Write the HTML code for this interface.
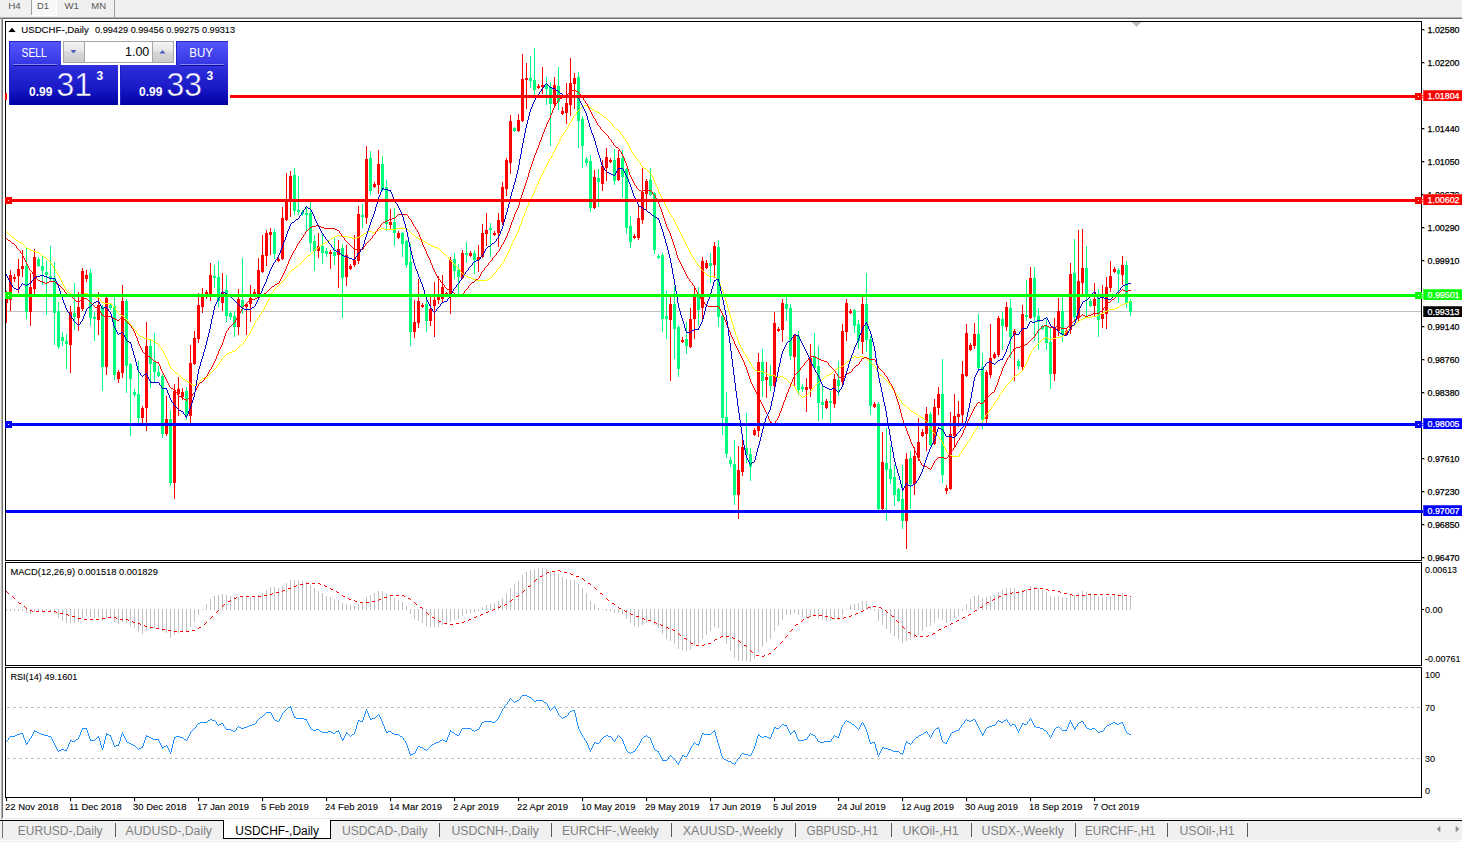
<!DOCTYPE html><html><head><meta charset="utf-8"><title>USDCHF-,Daily</title><style>html,body{margin:0;padding:0;background:#f0f0f0;overflow:hidden}body{width:1462px;height:842px}</style></head><body><svg width="1462" height="842" viewBox="0 0 1462 842" style="display:block;font-family:'Liberation Sans', sans-serif">
<rect x="0" y="0" width="1462" height="842" fill="#f0f0f0"/>
<g font-size="9.5px" fill="#555555">
<rect x="32" y="0" width="24" height="15" fill="#f8f8f8"/>
<text x="8.25" y="9" textLength="12.5" lengthAdjust="spacingAndGlyphs">H4</text>
<text x="37" y="9" textLength="12" lengthAdjust="spacingAndGlyphs">D1</text>
<text x="64.5" y="9" textLength="14.5" lengthAdjust="spacingAndGlyphs">W1</text>
<text x="91.25" y="9" textLength="14.75" lengthAdjust="spacingAndGlyphs">MN</text>
</g>
<rect x="31" y="0" width="1" height="15" fill="#a0a0a0"/>
<rect x="56" y="0" width="1" height="16" fill="#ffffff"/><rect x="31" y="15" width="26" height="1" fill="#ffffff"/>
<rect x="114" y="0" width="1" height="17" fill="#a0a0a0"/>
<rect x="0" y="17" width="1462" height="1" fill="#b4b4b4"/>
<rect x="0" y="18" width="1462" height="1" fill="#6e6e6e"/>
<rect x="3" y="19" width="1459" height="801" fill="#ffffff"/>
<rect x="1" y="18" width="1" height="802" fill="#b4b4b4"/>
<rect x="2" y="18" width="1" height="801" fill="#6e6e6e"/>
<g shape-rendering="crispEdges">
<rect x="6" y="311" width="1415" height="1" fill="#c0c0c0"/>
<rect x="6" y="291" width="1" height="32" fill="#ff0000"/>
<rect x="6" y="297" width="2" height="6" fill="#ff0000"/>
<rect x="10" y="270" width="1" height="41" fill="#ff0000"/>
<rect x="9" y="275" width="3" height="25" fill="#ff0000"/>
<rect x="14" y="274" width="1" height="8" fill="#ff0000"/>
<rect x="13" y="277" width="3" height="2" fill="#ff0000"/>
<rect x="18" y="259" width="1" height="34" fill="#ff0000"/>
<rect x="17" y="269" width="3" height="7" fill="#ff0000"/>
<rect x="22" y="250" width="1" height="27" fill="#ff0000"/>
<rect x="21" y="266" width="3" height="3" fill="#ff0000"/>
<rect x="26" y="248" width="1" height="71" fill="#00ff7f"/>
<rect x="25" y="266" width="3" height="46" fill="#00ff7f"/>
<rect x="30" y="273" width="1" height="53" fill="#ff0000"/>
<rect x="29" y="287" width="3" height="25" fill="#ff0000"/>
<rect x="34" y="249" width="1" height="45" fill="#ff0000"/>
<rect x="33" y="257" width="3" height="32" fill="#ff0000"/>
<rect x="38" y="257" width="1" height="10" fill="#00ff7f"/>
<rect x="37" y="259" width="3" height="7" fill="#00ff7f"/>
<rect x="42" y="256" width="1" height="29" fill="#00ff7f"/>
<rect x="41" y="266" width="3" height="5" fill="#00ff7f"/>
<rect x="46" y="261" width="1" height="54" fill="#00ff7f"/>
<rect x="45" y="272" width="3" height="3" fill="#00ff7f"/>
<rect x="50" y="246" width="1" height="35" fill="#00ff7f"/>
<rect x="49" y="276" width="3" height="2" fill="#00ff7f"/>
<rect x="54" y="262" width="1" height="83" fill="#00ff7f"/>
<rect x="53" y="278" width="3" height="35" fill="#00ff7f"/>
<rect x="58" y="302" width="1" height="47" fill="#00ff7f"/>
<rect x="57" y="311" width="3" height="36" fill="#00ff7f"/>
<rect x="62" y="332" width="1" height="14" fill="#00ff7f"/>
<rect x="61" y="337" width="3" height="4" fill="#00ff7f"/>
<rect x="66" y="334" width="1" height="35" fill="#00ff7f"/>
<rect x="65" y="341" width="3" height="3" fill="#00ff7f"/>
<rect x="70" y="306" width="1" height="67" fill="#ff0000"/>
<rect x="69" y="312" width="3" height="33" fill="#ff0000"/>
<rect x="74" y="283" width="1" height="47" fill="#00ff7f"/>
<rect x="73" y="313" width="3" height="4" fill="#00ff7f"/>
<rect x="78" y="292" width="1" height="39" fill="#ff0000"/>
<rect x="77" y="307" width="3" height="11" fill="#ff0000"/>
<rect x="82" y="268" width="1" height="43" fill="#ff0000"/>
<rect x="81" y="271" width="3" height="38" fill="#ff0000"/>
<rect x="86" y="270" width="1" height="12" fill="#ff0000"/>
<rect x="85" y="275" width="3" height="4" fill="#ff0000"/>
<rect x="90" y="269" width="1" height="57" fill="#00ff7f"/>
<rect x="89" y="273" width="3" height="45" fill="#00ff7f"/>
<rect x="94" y="312" width="1" height="29" fill="#00ff7f"/>
<rect x="93" y="317" width="3" height="2" fill="#00ff7f"/>
<rect x="98" y="292" width="1" height="43" fill="#ff0000"/>
<rect x="97" y="305" width="3" height="15" fill="#ff0000"/>
<rect x="102" y="305" width="1" height="86" fill="#00ff7f"/>
<rect x="101" y="307" width="3" height="60" fill="#00ff7f"/>
<rect x="106" y="297" width="1" height="78" fill="#ff0000"/>
<rect x="105" y="298" width="3" height="69" fill="#ff0000"/>
<rect x="110" y="303" width="1" height="7" fill="#00ff7f"/>
<rect x="109" y="305" width="3" height="3" fill="#00ff7f"/>
<rect x="114" y="297" width="1" height="83" fill="#00ff7f"/>
<rect x="113" y="306" width="3" height="69" fill="#00ff7f"/>
<rect x="118" y="370" width="1" height="13" fill="#ff0000"/>
<rect x="117" y="372" width="3" height="7" fill="#ff0000"/>
<rect x="122" y="285" width="1" height="93" fill="#ff0000"/>
<rect x="121" y="301" width="3" height="72" fill="#ff0000"/>
<rect x="126" y="299" width="1" height="94" fill="#00ff7f"/>
<rect x="125" y="301" width="3" height="65" fill="#00ff7f"/>
<rect x="130" y="363" width="1" height="73" fill="#00ff7f"/>
<rect x="129" y="364" width="3" height="15" fill="#00ff7f"/>
<rect x="134" y="389" width="1" height="8" fill="#00ff7f"/>
<rect x="133" y="392" width="3" height="3" fill="#00ff7f"/>
<rect x="138" y="361" width="1" height="63" fill="#00ff7f"/>
<rect x="137" y="394" width="3" height="24" fill="#00ff7f"/>
<rect x="142" y="406" width="1" height="17" fill="#ff0000"/>
<rect x="141" y="408" width="3" height="10" fill="#ff0000"/>
<rect x="146" y="322" width="1" height="109" fill="#ff0000"/>
<rect x="145" y="346" width="3" height="62" fill="#ff0000"/>
<rect x="150" y="339" width="1" height="49" fill="#00ff7f"/>
<rect x="149" y="346" width="3" height="18" fill="#00ff7f"/>
<rect x="154" y="333" width="1" height="49" fill="#00ff7f"/>
<rect x="153" y="362" width="3" height="10" fill="#00ff7f"/>
<rect x="158" y="366" width="1" height="11" fill="#00ff7f"/>
<rect x="157" y="372" width="3" height="4" fill="#00ff7f"/>
<rect x="162" y="374" width="1" height="64" fill="#00ff7f"/>
<rect x="161" y="376" width="3" height="58" fill="#00ff7f"/>
<rect x="166" y="396" width="1" height="40" fill="#ff0000"/>
<rect x="165" y="419" width="3" height="15" fill="#ff0000"/>
<rect x="170" y="410" width="1" height="76" fill="#00ff7f"/>
<rect x="169" y="419" width="3" height="64" fill="#00ff7f"/>
<rect x="174" y="384" width="1" height="115" fill="#ff0000"/>
<rect x="173" y="391" width="3" height="92" fill="#ff0000"/>
<rect x="178" y="377" width="1" height="39" fill="#ff0000"/>
<rect x="177" y="389" width="3" height="5" fill="#ff0000"/>
<rect x="182" y="388" width="1" height="12" fill="#ff0000"/>
<rect x="181" y="392" width="3" height="5" fill="#ff0000"/>
<rect x="186" y="387" width="1" height="33" fill="#00ff7f"/>
<rect x="185" y="391" width="3" height="25" fill="#00ff7f"/>
<rect x="190" y="345" width="1" height="79" fill="#ff0000"/>
<rect x="189" y="363" width="3" height="53" fill="#ff0000"/>
<rect x="194" y="331" width="1" height="34" fill="#ff0000"/>
<rect x="193" y="338" width="3" height="26" fill="#ff0000"/>
<rect x="198" y="293" width="1" height="50" fill="#ff0000"/>
<rect x="197" y="305" width="3" height="34" fill="#ff0000"/>
<rect x="202" y="288" width="1" height="25" fill="#ff0000"/>
<rect x="201" y="296" width="3" height="11" fill="#ff0000"/>
<rect x="206" y="290" width="1" height="9" fill="#ff0000"/>
<rect x="205" y="292" width="3" height="3" fill="#ff0000"/>
<rect x="210" y="263" width="1" height="38" fill="#ff0000"/>
<rect x="209" y="275" width="3" height="19" fill="#ff0000"/>
<rect x="214" y="265" width="1" height="23" fill="#00ff7f"/>
<rect x="213" y="276" width="3" height="2" fill="#00ff7f"/>
<rect x="218" y="261" width="1" height="46" fill="#00ff7f"/>
<rect x="217" y="277" width="3" height="24" fill="#00ff7f"/>
<rect x="222" y="273" width="1" height="38" fill="#ff0000"/>
<rect x="221" y="292" width="3" height="11" fill="#ff0000"/>
<rect x="226" y="275" width="1" height="47" fill="#00ff7f"/>
<rect x="225" y="290" width="3" height="26" fill="#00ff7f"/>
<rect x="230" y="311" width="1" height="9" fill="#00ff7f"/>
<rect x="229" y="313" width="3" height="4" fill="#00ff7f"/>
<rect x="234" y="311" width="1" height="26" fill="#00ff7f"/>
<rect x="233" y="316" width="3" height="11" fill="#00ff7f"/>
<rect x="238" y="289" width="1" height="46" fill="#ff0000"/>
<rect x="237" y="299" width="3" height="28" fill="#ff0000"/>
<rect x="242" y="258" width="1" height="56" fill="#00ff7f"/>
<rect x="241" y="300" width="3" height="7" fill="#00ff7f"/>
<rect x="246" y="303" width="1" height="32" fill="#ff0000"/>
<rect x="245" y="304" width="3" height="3" fill="#ff0000"/>
<rect x="250" y="285" width="1" height="37" fill="#ff0000"/>
<rect x="249" y="298" width="3" height="6" fill="#ff0000"/>
<rect x="254" y="289" width="1" height="6" fill="#ff0000"/>
<rect x="253" y="292" width="3" height="2" fill="#ff0000"/>
<rect x="258" y="258" width="1" height="38" fill="#ff0000"/>
<rect x="257" y="270" width="3" height="25" fill="#ff0000"/>
<rect x="262" y="235" width="1" height="38" fill="#ff0000"/>
<rect x="261" y="255" width="3" height="17" fill="#ff0000"/>
<rect x="266" y="230" width="1" height="36" fill="#ff0000"/>
<rect x="265" y="233" width="3" height="23" fill="#ff0000"/>
<rect x="270" y="228" width="1" height="27" fill="#ff0000"/>
<rect x="269" y="232" width="3" height="3" fill="#ff0000"/>
<rect x="274" y="229" width="1" height="30" fill="#00ff7f"/>
<rect x="273" y="232" width="3" height="22" fill="#00ff7f"/>
<rect x="278" y="257" width="1" height="5" fill="#ff0000"/>
<rect x="277" y="259" width="3" height="2" fill="#ff0000"/>
<rect x="282" y="207" width="1" height="53" fill="#ff0000"/>
<rect x="281" y="218" width="3" height="41" fill="#ff0000"/>
<rect x="286" y="173" width="1" height="48" fill="#ff0000"/>
<rect x="285" y="199" width="3" height="21" fill="#ff0000"/>
<rect x="290" y="171" width="1" height="46" fill="#ff0000"/>
<rect x="289" y="176" width="3" height="25" fill="#ff0000"/>
<rect x="294" y="168" width="1" height="47" fill="#00ff7f"/>
<rect x="293" y="175" width="3" height="36" fill="#00ff7f"/>
<rect x="298" y="176" width="1" height="39" fill="#00ff7f"/>
<rect x="297" y="210" width="3" height="2" fill="#00ff7f"/>
<rect x="302" y="210" width="1" height="6" fill="#00ff7f"/>
<rect x="301" y="212" width="3" height="2" fill="#00ff7f"/>
<rect x="306" y="206" width="1" height="25" fill="#00ff7f"/>
<rect x="305" y="213" width="3" height="2" fill="#00ff7f"/>
<rect x="310" y="202" width="1" height="50" fill="#00ff7f"/>
<rect x="309" y="213" width="3" height="30" fill="#00ff7f"/>
<rect x="314" y="235" width="1" height="36" fill="#00ff7f"/>
<rect x="313" y="241" width="3" height="10" fill="#00ff7f"/>
<rect x="318" y="233" width="1" height="25" fill="#ff0000"/>
<rect x="317" y="246" width="3" height="5" fill="#ff0000"/>
<rect x="322" y="234" width="1" height="30" fill="#00ff7f"/>
<rect x="321" y="246" width="3" height="7" fill="#00ff7f"/>
<rect x="326" y="248" width="1" height="9" fill="#00ff7f"/>
<rect x="325" y="251" width="3" height="3" fill="#00ff7f"/>
<rect x="330" y="250" width="1" height="19" fill="#ff0000"/>
<rect x="329" y="252" width="3" height="2" fill="#ff0000"/>
<rect x="334" y="238" width="1" height="27" fill="#00ff7f"/>
<rect x="333" y="252" width="3" height="4" fill="#00ff7f"/>
<rect x="338" y="240" width="1" height="48" fill="#ff0000"/>
<rect x="337" y="249" width="3" height="6" fill="#ff0000"/>
<rect x="342" y="244" width="1" height="74" fill="#00ff7f"/>
<rect x="341" y="248" width="3" height="30" fill="#00ff7f"/>
<rect x="346" y="245" width="1" height="41" fill="#ff0000"/>
<rect x="345" y="255" width="3" height="22" fill="#ff0000"/>
<rect x="350" y="264" width="1" height="6" fill="#ff0000"/>
<rect x="349" y="266" width="3" height="3" fill="#ff0000"/>
<rect x="354" y="235" width="1" height="32" fill="#ff0000"/>
<rect x="353" y="260" width="3" height="5" fill="#ff0000"/>
<rect x="358" y="206" width="1" height="58" fill="#ff0000"/>
<rect x="357" y="214" width="3" height="47" fill="#ff0000"/>
<rect x="362" y="204" width="1" height="24" fill="#00ff7f"/>
<rect x="361" y="215" width="3" height="2" fill="#00ff7f"/>
<rect x="366" y="146" width="1" height="78" fill="#ff0000"/>
<rect x="365" y="159" width="3" height="59" fill="#ff0000"/>
<rect x="370" y="151" width="1" height="44" fill="#00ff7f"/>
<rect x="369" y="158" width="3" height="33" fill="#00ff7f"/>
<rect x="374" y="182" width="1" height="6" fill="#ff0000"/>
<rect x="373" y="184" width="3" height="3" fill="#ff0000"/>
<rect x="378" y="150" width="1" height="44" fill="#ff0000"/>
<rect x="377" y="164" width="3" height="21" fill="#ff0000"/>
<rect x="382" y="156" width="1" height="35" fill="#00ff7f"/>
<rect x="381" y="164" width="3" height="26" fill="#00ff7f"/>
<rect x="386" y="180" width="1" height="51" fill="#00ff7f"/>
<rect x="385" y="187" width="3" height="37" fill="#00ff7f"/>
<rect x="390" y="209" width="1" height="20" fill="#ff0000"/>
<rect x="389" y="222" width="3" height="3" fill="#ff0000"/>
<rect x="394" y="208" width="1" height="38" fill="#00ff7f"/>
<rect x="393" y="222" width="3" height="11" fill="#00ff7f"/>
<rect x="398" y="231" width="1" height="8" fill="#ff0000"/>
<rect x="397" y="233" width="3" height="5" fill="#ff0000"/>
<rect x="402" y="232" width="1" height="25" fill="#00ff7f"/>
<rect x="401" y="233" width="3" height="11" fill="#00ff7f"/>
<rect x="406" y="240" width="1" height="28" fill="#00ff7f"/>
<rect x="405" y="241" width="3" height="24" fill="#00ff7f"/>
<rect x="410" y="244" width="1" height="102" fill="#00ff7f"/>
<rect x="409" y="262" width="3" height="70" fill="#00ff7f"/>
<rect x="414" y="300" width="1" height="38" fill="#ff0000"/>
<rect x="413" y="322" width="3" height="10" fill="#ff0000"/>
<rect x="418" y="279" width="1" height="49" fill="#ff0000"/>
<rect x="417" y="301" width="3" height="22" fill="#ff0000"/>
<rect x="422" y="303" width="1" height="5" fill="#ff0000"/>
<rect x="421" y="305" width="3" height="2" fill="#ff0000"/>
<rect x="426" y="299" width="1" height="33" fill="#00ff7f"/>
<rect x="425" y="304" width="3" height="17" fill="#00ff7f"/>
<rect x="430" y="297" width="1" height="29" fill="#ff0000"/>
<rect x="429" y="309" width="3" height="12" fill="#ff0000"/>
<rect x="434" y="282" width="1" height="55" fill="#ff0000"/>
<rect x="433" y="300" width="3" height="6" fill="#ff0000"/>
<rect x="438" y="276" width="1" height="28" fill="#ff0000"/>
<rect x="437" y="297" width="3" height="3" fill="#ff0000"/>
<rect x="442" y="275" width="1" height="28" fill="#ff0000"/>
<rect x="441" y="287" width="3" height="12" fill="#ff0000"/>
<rect x="446" y="292" width="1" height="5" fill="#ff0000"/>
<rect x="445" y="293" width="3" height="3" fill="#ff0000"/>
<rect x="450" y="257" width="1" height="57" fill="#ff0000"/>
<rect x="449" y="260" width="3" height="35" fill="#ff0000"/>
<rect x="454" y="253" width="1" height="26" fill="#00ff7f"/>
<rect x="453" y="259" width="3" height="12" fill="#00ff7f"/>
<rect x="458" y="264" width="1" height="31" fill="#00ff7f"/>
<rect x="457" y="270" width="3" height="7" fill="#00ff7f"/>
<rect x="462" y="250" width="1" height="29" fill="#ff0000"/>
<rect x="461" y="253" width="3" height="25" fill="#ff0000"/>
<rect x="466" y="242" width="1" height="21" fill="#00ff7f"/>
<rect x="465" y="253" width="3" height="2" fill="#00ff7f"/>
<rect x="470" y="251" width="1" height="6" fill="#ff0000"/>
<rect x="469" y="253" width="3" height="3" fill="#ff0000"/>
<rect x="474" y="250" width="1" height="24" fill="#00ff7f"/>
<rect x="473" y="253" width="3" height="7" fill="#00ff7f"/>
<rect x="478" y="245" width="1" height="27" fill="#ff0000"/>
<rect x="477" y="257" width="3" height="3" fill="#ff0000"/>
<rect x="482" y="224" width="1" height="34" fill="#ff0000"/>
<rect x="481" y="233" width="3" height="24" fill="#ff0000"/>
<rect x="486" y="213" width="1" height="33" fill="#ff0000"/>
<rect x="485" y="230" width="3" height="4" fill="#ff0000"/>
<rect x="490" y="223" width="1" height="34" fill="#00ff7f"/>
<rect x="489" y="228" width="3" height="2" fill="#00ff7f"/>
<rect x="494" y="231" width="1" height="5" fill="#ff0000"/>
<rect x="493" y="233" width="3" height="2" fill="#ff0000"/>
<rect x="498" y="213" width="1" height="34" fill="#ff0000"/>
<rect x="497" y="220" width="3" height="13" fill="#ff0000"/>
<rect x="502" y="182" width="1" height="43" fill="#ff0000"/>
<rect x="501" y="187" width="3" height="35" fill="#ff0000"/>
<rect x="506" y="158" width="1" height="38" fill="#ff0000"/>
<rect x="505" y="160" width="3" height="29" fill="#ff0000"/>
<rect x="510" y="115" width="1" height="59" fill="#ff0000"/>
<rect x="509" y="121" width="3" height="42" fill="#ff0000"/>
<rect x="514" y="127" width="1" height="5" fill="#00ff7f"/>
<rect x="513" y="128" width="3" height="3" fill="#00ff7f"/>
<rect x="518" y="114" width="1" height="18" fill="#ff0000"/>
<rect x="517" y="120" width="3" height="11" fill="#ff0000"/>
<rect x="522" y="54" width="1" height="68" fill="#ff0000"/>
<rect x="521" y="79" width="3" height="42" fill="#ff0000"/>
<rect x="526" y="63" width="1" height="46" fill="#ff0000"/>
<rect x="525" y="78" width="3" height="2" fill="#ff0000"/>
<rect x="530" y="56" width="1" height="32" fill="#00ff7f"/>
<rect x="529" y="78" width="3" height="3" fill="#00ff7f"/>
<rect x="534" y="48" width="1" height="48" fill="#00ff7f"/>
<rect x="533" y="80" width="3" height="10" fill="#00ff7f"/>
<rect x="538" y="84" width="1" height="5" fill="#ff0000"/>
<rect x="537" y="86" width="3" height="2" fill="#ff0000"/>
<rect x="542" y="67" width="1" height="27" fill="#ff0000"/>
<rect x="541" y="85" width="3" height="2" fill="#ff0000"/>
<rect x="546" y="77" width="1" height="28" fill="#00ff7f"/>
<rect x="545" y="85" width="3" height="4" fill="#00ff7f"/>
<rect x="550" y="82" width="1" height="64" fill="#00ff7f"/>
<rect x="549" y="87" width="3" height="17" fill="#00ff7f"/>
<rect x="554" y="77" width="1" height="29" fill="#ff0000"/>
<rect x="553" y="85" width="3" height="19" fill="#ff0000"/>
<rect x="558" y="67" width="1" height="43" fill="#00ff7f"/>
<rect x="557" y="86" width="3" height="16" fill="#00ff7f"/>
<rect x="562" y="107" width="1" height="8" fill="#ff0000"/>
<rect x="561" y="111" width="3" height="3" fill="#ff0000"/>
<rect x="566" y="83" width="1" height="41" fill="#ff0000"/>
<rect x="565" y="103" width="3" height="10" fill="#ff0000"/>
<rect x="570" y="58" width="1" height="58" fill="#ff0000"/>
<rect x="569" y="83" width="3" height="22" fill="#ff0000"/>
<rect x="574" y="73" width="1" height="36" fill="#ff0000"/>
<rect x="573" y="78" width="3" height="6" fill="#ff0000"/>
<rect x="578" y="72" width="1" height="76" fill="#00ff7f"/>
<rect x="577" y="77" width="3" height="44" fill="#00ff7f"/>
<rect x="582" y="116" width="1" height="52" fill="#00ff7f"/>
<rect x="581" y="119" width="3" height="27" fill="#00ff7f"/>
<rect x="586" y="157" width="1" height="9" fill="#00ff7f"/>
<rect x="585" y="159" width="3" height="4" fill="#00ff7f"/>
<rect x="590" y="155" width="1" height="57" fill="#00ff7f"/>
<rect x="589" y="161" width="3" height="47" fill="#00ff7f"/>
<rect x="594" y="170" width="1" height="39" fill="#ff0000"/>
<rect x="593" y="177" width="3" height="31" fill="#ff0000"/>
<rect x="598" y="169" width="1" height="38" fill="#00ff7f"/>
<rect x="597" y="178" width="3" height="4" fill="#00ff7f"/>
<rect x="602" y="160" width="1" height="31" fill="#ff0000"/>
<rect x="601" y="166" width="3" height="18" fill="#ff0000"/>
<rect x="606" y="148" width="1" height="33" fill="#ff0000"/>
<rect x="605" y="157" width="3" height="11" fill="#ff0000"/>
<rect x="610" y="158" width="1" height="5" fill="#ff0000"/>
<rect x="609" y="160" width="3" height="2" fill="#ff0000"/>
<rect x="614" y="149" width="1" height="36" fill="#00ff7f"/>
<rect x="613" y="160" width="3" height="21" fill="#00ff7f"/>
<rect x="618" y="150" width="1" height="31" fill="#ff0000"/>
<rect x="617" y="158" width="3" height="22" fill="#ff0000"/>
<rect x="622" y="150" width="1" height="48" fill="#00ff7f"/>
<rect x="621" y="158" width="3" height="19" fill="#00ff7f"/>
<rect x="626" y="168" width="1" height="66" fill="#00ff7f"/>
<rect x="625" y="169" width="3" height="59" fill="#00ff7f"/>
<rect x="630" y="216" width="1" height="32" fill="#00ff7f"/>
<rect x="629" y="226" width="3" height="16" fill="#00ff7f"/>
<rect x="634" y="234" width="1" height="5" fill="#ff0000"/>
<rect x="633" y="236" width="3" height="2" fill="#ff0000"/>
<rect x="638" y="206" width="1" height="34" fill="#ff0000"/>
<rect x="637" y="218" width="3" height="20" fill="#ff0000"/>
<rect x="642" y="168" width="1" height="56" fill="#ff0000"/>
<rect x="641" y="192" width="3" height="28" fill="#ff0000"/>
<rect x="646" y="179" width="1" height="32" fill="#ff0000"/>
<rect x="645" y="181" width="3" height="13" fill="#ff0000"/>
<rect x="650" y="168" width="1" height="28" fill="#00ff7f"/>
<rect x="649" y="180" width="3" height="15" fill="#00ff7f"/>
<rect x="654" y="192" width="1" height="62" fill="#00ff7f"/>
<rect x="653" y="193" width="3" height="57" fill="#00ff7f"/>
<rect x="658" y="254" width="1" height="5" fill="#00ff7f"/>
<rect x="657" y="256" width="3" height="2" fill="#00ff7f"/>
<rect x="662" y="253" width="1" height="79" fill="#00ff7f"/>
<rect x="661" y="255" width="3" height="64" fill="#00ff7f"/>
<rect x="666" y="291" width="1" height="48" fill="#00ff7f"/>
<rect x="665" y="316" width="3" height="3" fill="#00ff7f"/>
<rect x="670" y="297" width="1" height="84" fill="#ff0000"/>
<rect x="669" y="304" width="3" height="16" fill="#ff0000"/>
<rect x="674" y="286" width="1" height="73" fill="#00ff7f"/>
<rect x="673" y="304" width="3" height="25" fill="#00ff7f"/>
<rect x="678" y="325" width="1" height="52" fill="#00ff7f"/>
<rect x="677" y="327" width="3" height="42" fill="#00ff7f"/>
<rect x="682" y="337" width="1" height="6" fill="#ff0000"/>
<rect x="681" y="340" width="3" height="2" fill="#ff0000"/>
<rect x="686" y="322" width="1" height="32" fill="#00ff7f"/>
<rect x="685" y="339" width="3" height="7" fill="#00ff7f"/>
<rect x="690" y="308" width="1" height="40" fill="#ff0000"/>
<rect x="689" y="319" width="3" height="28" fill="#ff0000"/>
<rect x="694" y="288" width="1" height="51" fill="#ff0000"/>
<rect x="693" y="296" width="3" height="23" fill="#ff0000"/>
<rect x="698" y="287" width="1" height="39" fill="#00ff7f"/>
<rect x="697" y="296" width="3" height="14" fill="#00ff7f"/>
<rect x="702" y="257" width="1" height="62" fill="#ff0000"/>
<rect x="701" y="261" width="3" height="47" fill="#ff0000"/>
<rect x="706" y="260" width="1" height="9" fill="#ff0000"/>
<rect x="705" y="263" width="3" height="5" fill="#ff0000"/>
<rect x="710" y="253" width="1" height="30" fill="#00ff7f"/>
<rect x="709" y="263" width="3" height="3" fill="#00ff7f"/>
<rect x="714" y="242" width="1" height="36" fill="#ff0000"/>
<rect x="713" y="246" width="3" height="19" fill="#ff0000"/>
<rect x="718" y="240" width="1" height="87" fill="#00ff7f"/>
<rect x="717" y="247" width="3" height="70" fill="#00ff7f"/>
<rect x="722" y="314" width="1" height="121" fill="#00ff7f"/>
<rect x="721" y="316" width="3" height="102" fill="#00ff7f"/>
<rect x="726" y="392" width="1" height="66" fill="#00ff7f"/>
<rect x="725" y="417" width="3" height="37" fill="#00ff7f"/>
<rect x="730" y="457" width="1" height="10" fill="#00ff7f"/>
<rect x="729" y="460" width="3" height="4" fill="#00ff7f"/>
<rect x="734" y="440" width="1" height="65" fill="#00ff7f"/>
<rect x="733" y="464" width="3" height="31" fill="#00ff7f"/>
<rect x="738" y="446" width="1" height="73" fill="#ff0000"/>
<rect x="737" y="470" width="3" height="25" fill="#ff0000"/>
<rect x="742" y="440" width="1" height="36" fill="#ff0000"/>
<rect x="741" y="447" width="3" height="25" fill="#ff0000"/>
<rect x="746" y="413" width="1" height="50" fill="#00ff7f"/>
<rect x="745" y="448" width="3" height="7" fill="#00ff7f"/>
<rect x="750" y="448" width="1" height="33" fill="#00ff7f"/>
<rect x="749" y="454" width="3" height="13" fill="#00ff7f"/>
<rect x="754" y="428" width="1" height="8" fill="#ff0000"/>
<rect x="753" y="430" width="3" height="5" fill="#ff0000"/>
<rect x="758" y="353" width="1" height="84" fill="#ff0000"/>
<rect x="757" y="362" width="3" height="69" fill="#ff0000"/>
<rect x="762" y="349" width="1" height="48" fill="#00ff7f"/>
<rect x="761" y="362" width="3" height="19" fill="#00ff7f"/>
<rect x="766" y="362" width="1" height="36" fill="#ff0000"/>
<rect x="765" y="377" width="3" height="3" fill="#ff0000"/>
<rect x="770" y="365" width="1" height="26" fill="#00ff7f"/>
<rect x="769" y="376" width="3" height="10" fill="#00ff7f"/>
<rect x="774" y="312" width="1" height="75" fill="#ff0000"/>
<rect x="773" y="323" width="3" height="63" fill="#ff0000"/>
<rect x="778" y="327" width="1" height="5" fill="#ff0000"/>
<rect x="777" y="329" width="3" height="2" fill="#ff0000"/>
<rect x="782" y="299" width="1" height="43" fill="#ff0000"/>
<rect x="781" y="303" width="3" height="27" fill="#ff0000"/>
<rect x="786" y="297" width="1" height="24" fill="#00ff7f"/>
<rect x="785" y="304" width="3" height="5" fill="#00ff7f"/>
<rect x="790" y="304" width="1" height="56" fill="#00ff7f"/>
<rect x="789" y="308" width="3" height="48" fill="#00ff7f"/>
<rect x="794" y="334" width="1" height="52" fill="#ff0000"/>
<rect x="793" y="335" width="3" height="22" fill="#ff0000"/>
<rect x="798" y="331" width="1" height="64" fill="#00ff7f"/>
<rect x="797" y="336" width="3" height="54" fill="#00ff7f"/>
<rect x="802" y="384" width="1" height="8" fill="#00ff7f"/>
<rect x="801" y="387" width="3" height="2" fill="#00ff7f"/>
<rect x="806" y="378" width="1" height="34" fill="#ff0000"/>
<rect x="805" y="387" width="3" height="3" fill="#ff0000"/>
<rect x="810" y="344" width="1" height="53" fill="#ff0000"/>
<rect x="809" y="358" width="3" height="31" fill="#ff0000"/>
<rect x="814" y="333" width="1" height="36" fill="#00ff7f"/>
<rect x="813" y="356" width="3" height="12" fill="#00ff7f"/>
<rect x="818" y="346" width="1" height="75" fill="#00ff7f"/>
<rect x="817" y="366" width="3" height="37" fill="#00ff7f"/>
<rect x="822" y="386" width="1" height="33" fill="#00ff7f"/>
<rect x="821" y="402" width="3" height="3" fill="#00ff7f"/>
<rect x="826" y="399" width="1" height="10" fill="#ff0000"/>
<rect x="825" y="401" width="3" height="7" fill="#ff0000"/>
<rect x="830" y="391" width="1" height="32" fill="#00ff7f"/>
<rect x="829" y="401" width="3" height="2" fill="#00ff7f"/>
<rect x="834" y="374" width="1" height="34" fill="#ff0000"/>
<rect x="833" y="379" width="3" height="25" fill="#ff0000"/>
<rect x="838" y="361" width="1" height="35" fill="#00ff7f"/>
<rect x="837" y="380" width="3" height="6" fill="#00ff7f"/>
<rect x="842" y="324" width="1" height="61" fill="#ff0000"/>
<rect x="841" y="331" width="3" height="51" fill="#ff0000"/>
<rect x="846" y="299" width="1" height="42" fill="#ff0000"/>
<rect x="845" y="303" width="3" height="29" fill="#ff0000"/>
<rect x="850" y="309" width="1" height="5" fill="#ff0000"/>
<rect x="849" y="311" width="3" height="2" fill="#ff0000"/>
<rect x="854" y="309" width="1" height="24" fill="#00ff7f"/>
<rect x="853" y="310" width="3" height="16" fill="#00ff7f"/>
<rect x="858" y="320" width="1" height="29" fill="#00ff7f"/>
<rect x="857" y="324" width="3" height="17" fill="#00ff7f"/>
<rect x="862" y="297" width="1" height="57" fill="#ff0000"/>
<rect x="861" y="304" width="3" height="38" fill="#ff0000"/>
<rect x="866" y="273" width="1" height="79" fill="#00ff7f"/>
<rect x="865" y="304" width="3" height="36" fill="#00ff7f"/>
<rect x="870" y="336" width="1" height="79" fill="#00ff7f"/>
<rect x="869" y="339" width="3" height="67" fill="#00ff7f"/>
<rect x="874" y="402" width="1" height="6" fill="#ff0000"/>
<rect x="873" y="404" width="3" height="3" fill="#ff0000"/>
<rect x="878" y="402" width="1" height="109" fill="#00ff7f"/>
<rect x="877" y="404" width="3" height="105" fill="#00ff7f"/>
<rect x="882" y="432" width="1" height="78" fill="#ff0000"/>
<rect x="881" y="462" width="3" height="47" fill="#ff0000"/>
<rect x="886" y="428" width="1" height="93" fill="#00ff7f"/>
<rect x="885" y="463" width="3" height="7" fill="#00ff7f"/>
<rect x="890" y="446" width="1" height="38" fill="#00ff7f"/>
<rect x="889" y="469" width="3" height="10" fill="#00ff7f"/>
<rect x="894" y="465" width="1" height="41" fill="#00ff7f"/>
<rect x="893" y="477" width="3" height="18" fill="#00ff7f"/>
<rect x="898" y="488" width="1" height="14" fill="#00ff7f"/>
<rect x="897" y="489" width="3" height="12" fill="#00ff7f"/>
<rect x="902" y="465" width="1" height="64" fill="#00ff7f"/>
<rect x="901" y="499" width="3" height="22" fill="#00ff7f"/>
<rect x="906" y="453" width="1" height="96" fill="#ff0000"/>
<rect x="905" y="459" width="3" height="62" fill="#ff0000"/>
<rect x="910" y="451" width="1" height="58" fill="#00ff7f"/>
<rect x="909" y="458" width="3" height="26" fill="#00ff7f"/>
<rect x="914" y="447" width="1" height="48" fill="#ff0000"/>
<rect x="913" y="456" width="3" height="28" fill="#ff0000"/>
<rect x="918" y="418" width="1" height="43" fill="#ff0000"/>
<rect x="917" y="442" width="3" height="16" fill="#ff0000"/>
<rect x="922" y="429" width="1" height="8" fill="#ff0000"/>
<rect x="921" y="432" width="3" height="4" fill="#ff0000"/>
<rect x="926" y="407" width="1" height="44" fill="#ff0000"/>
<rect x="925" y="414" width="3" height="20" fill="#ff0000"/>
<rect x="930" y="412" width="1" height="34" fill="#00ff7f"/>
<rect x="929" y="414" width="3" height="31" fill="#00ff7f"/>
<rect x="934" y="399" width="1" height="46" fill="#ff0000"/>
<rect x="933" y="407" width="3" height="37" fill="#ff0000"/>
<rect x="938" y="387" width="1" height="28" fill="#ff0000"/>
<rect x="937" y="394" width="3" height="14" fill="#ff0000"/>
<rect x="942" y="359" width="1" height="124" fill="#00ff7f"/>
<rect x="941" y="394" width="3" height="81" fill="#00ff7f"/>
<rect x="946" y="485" width="1" height="9" fill="#ff0000"/>
<rect x="945" y="488" width="3" height="3" fill="#ff0000"/>
<rect x="950" y="412" width="1" height="78" fill="#ff0000"/>
<rect x="949" y="434" width="3" height="55" fill="#ff0000"/>
<rect x="954" y="394" width="1" height="53" fill="#ff0000"/>
<rect x="953" y="416" width="3" height="20" fill="#ff0000"/>
<rect x="958" y="401" width="1" height="26" fill="#ff0000"/>
<rect x="957" y="414" width="3" height="3" fill="#ff0000"/>
<rect x="962" y="361" width="1" height="63" fill="#ff0000"/>
<rect x="961" y="374" width="3" height="41" fill="#ff0000"/>
<rect x="966" y="324" width="1" height="53" fill="#ff0000"/>
<rect x="965" y="333" width="3" height="43" fill="#ff0000"/>
<rect x="970" y="343" width="1" height="8" fill="#ff0000"/>
<rect x="969" y="345" width="3" height="5" fill="#ff0000"/>
<rect x="974" y="323" width="1" height="26" fill="#ff0000"/>
<rect x="973" y="334" width="3" height="12" fill="#ff0000"/>
<rect x="978" y="314" width="1" height="56" fill="#00ff7f"/>
<rect x="977" y="334" width="3" height="34" fill="#00ff7f"/>
<rect x="982" y="353" width="1" height="76" fill="#00ff7f"/>
<rect x="981" y="367" width="3" height="53" fill="#00ff7f"/>
<rect x="986" y="370" width="1" height="53" fill="#ff0000"/>
<rect x="985" y="372" width="3" height="47" fill="#ff0000"/>
<rect x="990" y="324" width="1" height="54" fill="#ff0000"/>
<rect x="989" y="358" width="3" height="17" fill="#ff0000"/>
<rect x="994" y="352" width="1" height="7" fill="#ff0000"/>
<rect x="993" y="354" width="3" height="4" fill="#ff0000"/>
<rect x="998" y="316" width="1" height="41" fill="#ff0000"/>
<rect x="997" y="318" width="3" height="37" fill="#ff0000"/>
<rect x="1002" y="312" width="1" height="38" fill="#00ff7f"/>
<rect x="1001" y="319" width="3" height="7" fill="#00ff7f"/>
<rect x="1006" y="302" width="1" height="29" fill="#ff0000"/>
<rect x="1005" y="307" width="3" height="20" fill="#ff0000"/>
<rect x="1010" y="299" width="1" height="59" fill="#00ff7f"/>
<rect x="1009" y="308" width="3" height="29" fill="#00ff7f"/>
<rect x="1014" y="329" width="1" height="52" fill="#ff0000"/>
<rect x="1013" y="331" width="3" height="4" fill="#ff0000"/>
<rect x="1018" y="359" width="1" height="10" fill="#00ff7f"/>
<rect x="1017" y="361" width="3" height="5" fill="#00ff7f"/>
<rect x="1022" y="305" width="1" height="66" fill="#ff0000"/>
<rect x="1021" y="314" width="3" height="53" fill="#ff0000"/>
<rect x="1026" y="280" width="1" height="41" fill="#00ff7f"/>
<rect x="1025" y="315" width="3" height="2" fill="#00ff7f"/>
<rect x="1030" y="267" width="1" height="52" fill="#ff0000"/>
<rect x="1029" y="278" width="3" height="40" fill="#ff0000"/>
<rect x="1034" y="267" width="1" height="74" fill="#00ff7f"/>
<rect x="1033" y="278" width="3" height="39" fill="#00ff7f"/>
<rect x="1038" y="308" width="1" height="42" fill="#00ff7f"/>
<rect x="1037" y="316" width="3" height="6" fill="#00ff7f"/>
<rect x="1042" y="325" width="1" height="5" fill="#00ff7f"/>
<rect x="1041" y="326" width="3" height="3" fill="#00ff7f"/>
<rect x="1046" y="319" width="1" height="31" fill="#00ff7f"/>
<rect x="1045" y="326" width="3" height="17" fill="#00ff7f"/>
<rect x="1050" y="327" width="1" height="62" fill="#00ff7f"/>
<rect x="1049" y="342" width="3" height="32" fill="#00ff7f"/>
<rect x="1054" y="318" width="1" height="63" fill="#ff0000"/>
<rect x="1053" y="328" width="3" height="46" fill="#ff0000"/>
<rect x="1058" y="298" width="1" height="38" fill="#ff0000"/>
<rect x="1057" y="311" width="3" height="20" fill="#ff0000"/>
<rect x="1062" y="296" width="1" height="46" fill="#00ff7f"/>
<rect x="1061" y="311" width="3" height="24" fill="#00ff7f"/>
<rect x="1066" y="329" width="1" height="7" fill="#ff0000"/>
<rect x="1065" y="331" width="3" height="4" fill="#ff0000"/>
<rect x="1070" y="263" width="1" height="71" fill="#ff0000"/>
<rect x="1069" y="274" width="3" height="56" fill="#ff0000"/>
<rect x="1074" y="239" width="1" height="83" fill="#00ff7f"/>
<rect x="1073" y="273" width="3" height="44" fill="#00ff7f"/>
<rect x="1078" y="230" width="1" height="92" fill="#ff0000"/>
<rect x="1077" y="281" width="3" height="37" fill="#ff0000"/>
<rect x="1082" y="229" width="1" height="65" fill="#ff0000"/>
<rect x="1081" y="268" width="3" height="15" fill="#ff0000"/>
<rect x="1086" y="246" width="1" height="71" fill="#00ff7f"/>
<rect x="1085" y="268" width="3" height="29" fill="#00ff7f"/>
<rect x="1090" y="299" width="1" height="8" fill="#00ff7f"/>
<rect x="1089" y="301" width="3" height="5" fill="#00ff7f"/>
<rect x="1094" y="283" width="1" height="33" fill="#ff0000"/>
<rect x="1093" y="299" width="3" height="7" fill="#ff0000"/>
<rect x="1098" y="289" width="1" height="48" fill="#00ff7f"/>
<rect x="1097" y="298" width="3" height="22" fill="#00ff7f"/>
<rect x="1102" y="285" width="1" height="43" fill="#ff0000"/>
<rect x="1101" y="314" width="3" height="5" fill="#ff0000"/>
<rect x="1106" y="277" width="1" height="52" fill="#ff0000"/>
<rect x="1105" y="287" width="3" height="27" fill="#ff0000"/>
<rect x="1110" y="261" width="1" height="31" fill="#ff0000"/>
<rect x="1109" y="276" width="3" height="12" fill="#ff0000"/>
<rect x="1114" y="267" width="1" height="6" fill="#ff0000"/>
<rect x="1113" y="269" width="3" height="3" fill="#ff0000"/>
<rect x="1118" y="268" width="1" height="35" fill="#00ff7f"/>
<rect x="1117" y="270" width="3" height="4" fill="#00ff7f"/>
<rect x="1122" y="256" width="1" height="29" fill="#ff0000"/>
<rect x="1121" y="265" width="3" height="10" fill="#ff0000"/>
<rect x="1126" y="261" width="1" height="47" fill="#00ff7f"/>
<rect x="1125" y="265" width="3" height="38" fill="#00ff7f"/>
<rect x="1130" y="299" width="1" height="17" fill="#00ff7f"/>
<rect x="1129" y="301" width="3" height="11" fill="#00ff7f"/>
</g>
<path d="M6 231v1h1v-1zM7 232v1h1v-1zM8 233v1h1v-1zM9 234v1h1v-1zM10 235v1h1v-1zM11 236v1h1v-1zM12 237v1h1v-1zM13 237v1h1v-1zM14 238v1h1v-1zM15 239v1h1v-1zM16 240v1h1v-1zM17 240v1h1v-1zM18 241v1h1v-1zM19 242v1h1v-1zM20 242v1h1v-1zM21 243v1h1v-1zM22 243v1h1v-1zM23 244v1h1v-1zM24 245v1h1v-1zM25 246v1h1v-1zM26 247v1h1v-1zM27 248v1h1v-1zM28 248v1h1v-1zM29 249v1h1v-1zM30 249v1h1v-1zM31 250v1h1v-1zM32 250v1h1v-1zM33 251v1h1v-1zM34 251v1h1v-1zM35 251v1h1v-1zM36 252v1h1v-1zM37 252v1h1v-1zM38 252v1h1v-1zM39 253v1h1v-1zM40 254v1h1v-1zM41 254v1h1v-1zM42 255v1h1v-1zM43 256v1h1v-1zM44 257v1h1v-1zM45 257v1h1v-1zM46 258v1h1v-1zM47 259v1h1v-1zM48 260v1h1v-1zM49 261v1h1v-1zM50 262v1h1v-1zM51 263v2h1v-2zM52 265v1h1v-1zM53 266v2h1v-2zM54 268v1h1v-1zM55 269v2h1v-2zM56 271v2h1v-2zM57 273v2h1v-2zM58 275v1h1v-1zM59 276v2h1v-2zM60 278v2h1v-2zM61 280v2h1v-2zM62 282v2h1v-2zM63 284v2h1v-2zM64 286v2h1v-2zM65 288v2h1v-2zM66 290v1h1v-1zM67 291v1h1v-1zM68 292v1h1v-1zM69 292v1h1v-1zM70 293v1h1v-1zM71 294v1h1v-1zM72 295v1h1v-1zM73 295v1h1v-1zM74 296v1h1v-1zM75 296v1h1v-1zM76 296v1h1v-1zM77 296v1h1v-1zM78 296v1h1v-1zM79 295v1h1v-1zM80 295v1h1v-1zM81 294v1h1v-1zM82 294v1h1v-1zM83 294v1h1v-1zM84 293v1h1v-1zM85 293v1h1v-1zM86 293v1h1v-1zM87 293v1h1v-1zM88 294v1h1v-1zM89 294v1h1v-1zM90 294v1h1v-1zM91 295v1h1v-1zM92 295v1h1v-1zM93 296v1h1v-1zM94 296v1h1v-1zM95 296v1h1v-1zM96 297v1h1v-1zM97 297v1h1v-1zM98 297v1h1v-1zM99 298v1h1v-1zM100 299v2h1v-2zM101 301v1h1v-1zM102 302v1h1v-1zM103 302v1h1v-1zM104 303v1h1v-1zM105 303v1h1v-1zM106 303v1h1v-1zM107 303v1h1v-1zM108 303v1h1v-1zM109 303v1h1v-1zM110 303v1h1v-1zM111 304v1h1v-1zM112 305v1h1v-1zM113 306v1h1v-1zM114 307v1h1v-1zM115 308v2h1v-2zM116 310v1h1v-1zM117 311v2h1v-2zM118 313v1h1v-1zM119 314v1h1v-1zM120 314v1h1v-1zM121 315v1h1v-1zM122 315v1h1v-1zM123 316v1h1v-1zM124 317v1h1v-1zM125 318v1h1v-1zM126 319v1h1v-1zM127 320v1h1v-1zM128 321v2h1v-2zM129 323v1h1v-1zM130 324v1h1v-1zM131 325v1h1v-1zM132 326v2h1v-2zM133 328v1h1v-1zM134 329v1h1v-1zM135 330v1h1v-1zM136 331v2h1v-2zM137 333v1h1v-1zM138 334v1h1v-1zM139 335v1h1v-1zM140 336v1h1v-1zM141 336v1h1v-1zM142 337v1h1v-1zM143 337v1h1v-1zM144 338v1h1v-1zM145 338v1h1v-1zM146 338v1h1v-1zM147 338v1h1v-1zM148 339v1h1v-1zM149 339v1h1v-1zM150 339v1h1v-1zM151 340v1h1v-1zM152 340v1h1v-1zM153 341v1h1v-1zM154 341v1h1v-1zM155 342v1h1v-1zM156 343v1h1v-1zM157 343v1h1v-1zM158 344v1h1v-1zM159 345v2h1v-2zM160 347v1h1v-1zM161 348v2h1v-2zM162 350v1h1v-1zM163 351v2h1v-2zM164 353v2h1v-2zM165 355v2h1v-2zM166 357v2h1v-2zM167 359v2h1v-2zM168 361v3h1v-3zM169 364v2h1v-2zM170 366v2h1v-2zM171 368v1h1v-1zM172 369v1h1v-1zM173 370v1h1v-1zM174 371v1h1v-1zM175 372v1h1v-1zM176 373v1h1v-1zM177 373v1h1v-1zM178 374v1h1v-1zM179 375v1h1v-1zM180 376v1h1v-1zM181 377v1h1v-1zM182 378v1h1v-1zM183 379v1h1v-1zM184 379v1h1v-1zM185 380v1h1v-1zM186 380v1h1v-1zM187 381v1h1v-1zM188 382v1h1v-1zM189 382v1h1v-1zM190 383v1h1v-1zM191 384v1h1v-1zM192 384v1h1v-1zM193 385v1h1v-1zM194 385v1h1v-1zM195 384v1h1v-1zM196 383v1h1v-1zM197 383v1h1v-1zM198 382v1h1v-1zM199 381v1h1v-1zM200 380v1h1v-1zM201 379v1h1v-1zM202 378v1h1v-1zM203 378v1h1v-1zM204 378v1h1v-1zM205 378v1h1v-1zM206 378v1h1v-1zM207 377v1h1v-1zM208 375v2h1v-2zM209 374v1h1v-1zM210 373v1h1v-1zM211 372v1h1v-1zM212 371v1h1v-1zM213 370v1h1v-1zM214 369v1h1v-1zM215 368v1h1v-1zM216 366v2h1v-2zM217 365v1h1v-1zM218 364v1h1v-1zM219 362v2h1v-2zM220 361v1h1v-1zM221 359v2h1v-2zM222 358v1h1v-1zM223 357v1h1v-1zM224 356v1h1v-1zM225 355v1h1v-1zM226 354v1h1v-1zM227 353v1h1v-1zM228 353v1h1v-1zM229 352v1h1v-1zM230 352v1h1v-1zM231 352v1h1v-1zM232 351v1h1v-1zM233 351v1h1v-1zM234 351v1h1v-1zM235 350v1h1v-1zM236 349v1h1v-1zM237 348v1h1v-1zM238 347v1h1v-1zM239 346v1h1v-1zM240 345v1h1v-1zM241 345v1h1v-1zM242 344v1h1v-1zM243 342v2h1v-2zM244 341v1h1v-1zM245 339v2h1v-2zM246 338v1h1v-1zM247 336v2h1v-2zM248 335v1h1v-1zM249 333v2h1v-2zM250 331v2h1v-2zM251 329v2h1v-2zM252 327v2h1v-2zM253 325v2h1v-2zM254 323v2h1v-2zM255 321v2h1v-2zM256 320v1h1v-1zM257 318v2h1v-2zM258 317v1h1v-1zM259 315v2h1v-2zM260 314v1h1v-1zM261 312v2h1v-2zM262 311v1h1v-1zM263 309v2h1v-2zM264 307v2h1v-2zM265 305v2h1v-2zM266 303v2h1v-2zM267 301v2h1v-2zM268 299v2h1v-2zM269 297v2h1v-2zM270 295v2h1v-2zM271 293v2h1v-2zM272 292v1h1v-1zM273 290v2h1v-2zM274 289v1h1v-1zM275 288v1h1v-1zM276 287v1h1v-1zM277 286v1h1v-1zM278 285v1h1v-1zM279 284v1h1v-1zM280 283v1h1v-1zM281 282v1h1v-1zM282 281v1h1v-1zM283 280v1h1v-1zM284 279v1h1v-1zM285 278v1h1v-1zM286 277v1h1v-1zM287 275v2h1v-2zM288 274v1h1v-1zM289 272v2h1v-2zM290 271v1h1v-1zM291 270v1h1v-1zM292 269v1h1v-1zM293 269v1h1v-1zM294 268v1h1v-1zM295 267v1h1v-1zM296 266v1h1v-1zM297 266v1h1v-1zM298 265v1h1v-1zM299 264v1h1v-1zM300 263v1h1v-1zM301 262v1h1v-1zM302 261v1h1v-1zM303 260v1h1v-1zM304 259v1h1v-1zM305 258v1h1v-1zM306 257v1h1v-1zM307 256v1h1v-1zM308 255v1h1v-1zM309 255v1h1v-1zM310 254v1h1v-1zM311 253v1h1v-1zM312 252v1h1v-1zM313 251v1h1v-1zM314 250v1h1v-1zM315 249v1h1v-1zM316 248v1h1v-1zM317 248v1h1v-1zM318 247v1h1v-1zM319 246v1h1v-1zM320 245v1h1v-1zM321 245v1h1v-1zM322 244v1h1v-1zM323 243v1h1v-1zM324 243v1h1v-1zM325 242v1h1v-1zM326 242v1h1v-1zM327 241v1h1v-1zM328 240v1h1v-1zM329 240v1h1v-1zM330 239v1h1v-1zM331 238v1h1v-1zM332 238v1h1v-1zM333 237v1h1v-1zM334 237v1h1v-1zM335 236v1h1v-1zM336 236v1h1v-1zM337 235v1h1v-1zM338 235v1h1v-1zM339 235v1h1v-1zM340 236v1h1v-1zM341 236v1h1v-1zM342 236v1h1v-1zM343 236v1h1v-1zM344 236v1h1v-1zM345 236v1h1v-1zM346 236v1h1v-1zM347 236v1h1v-1zM348 237v1h1v-1zM349 237v1h1v-1zM350 237v1h1v-1zM351 237v1h1v-1zM352 238v1h1v-1zM353 238v1h1v-1zM354 238v1h1v-1zM355 238v1h1v-1zM356 237v1h1v-1zM357 237v1h1v-1zM358 237v1h1v-1zM359 236v1h1v-1zM360 236v1h1v-1zM361 235v1h1v-1zM362 235v1h1v-1zM363 234v1h1v-1zM364 233v1h1v-1zM365 233v1h1v-1zM366 232v1h1v-1zM367 232v1h1v-1zM368 231v1h1v-1zM369 231v1h1v-1zM370 231v1h1v-1zM371 231v1h1v-1zM372 232v1h1v-1zM373 232v1h1v-1zM374 232v1h1v-1zM375 231v1h1v-1zM376 231v1h1v-1zM377 230v1h1v-1zM378 230v1h1v-1zM379 229v1h1v-1zM380 229v1h1v-1zM381 228v1h1v-1zM382 228v1h1v-1zM383 228v1h1v-1zM384 229v1h1v-1zM385 229v1h1v-1zM386 229v1h1v-1zM387 229v1h1v-1zM388 229v1h1v-1zM389 229v1h1v-1zM390 229v1h1v-1zM391 229v1h1v-1zM392 229v1h1v-1zM393 229v1h1v-1zM394 229v1h1v-1zM395 229v1h1v-1zM396 228v1h1v-1zM397 228v1h1v-1zM398 228v1h1v-1zM399 228v1h1v-1zM400 228v1h1v-1zM401 228v1h1v-1zM402 228v1h1v-1zM403 228v1h1v-1zM404 228v1h1v-1zM405 228v1h1v-1zM406 228v1h1v-1zM407 229v1h1v-1zM408 230v1h1v-1zM409 231v1h1v-1zM410 232v1h1v-1zM411 233v1h1v-1zM412 234v1h1v-1zM413 234v1h1v-1zM414 235v1h1v-1zM415 236v1h1v-1zM416 237v1h1v-1zM417 237v1h1v-1zM418 238v1h1v-1zM419 239v1h1v-1zM420 239v1h1v-1zM421 240v1h1v-1zM422 240v1h1v-1zM423 241v1h1v-1zM424 241v1h1v-1zM425 242v1h1v-1zM426 242v1h1v-1zM427 243v1h1v-1zM428 244v1h1v-1zM429 244v1h1v-1zM430 245v1h1v-1zM431 245v1h1v-1zM432 246v1h1v-1zM433 246v1h1v-1zM434 246v1h1v-1zM435 247v1h1v-1zM436 247v1h1v-1zM437 248v1h1v-1zM438 248v1h1v-1zM439 249v1h1v-1zM440 250v1h1v-1zM441 251v1h1v-1zM442 252v1h1v-1zM443 253v1h1v-1zM444 254v1h1v-1zM445 254v1h1v-1zM446 255v1h1v-1zM447 256v1h1v-1zM448 257v2h1v-2zM449 259v1h1v-1zM450 260v1h1v-1zM451 261v1h1v-1zM452 262v1h1v-1zM453 263v1h1v-1zM454 264v1h1v-1zM455 265v1h1v-1zM456 266v1h1v-1zM457 267v1h1v-1zM458 268v1h1v-1zM459 269v1h1v-1zM460 270v2h1v-2zM461 272v1h1v-1zM462 273v1h1v-1zM463 274v1h1v-1zM464 275v1h1v-1zM465 275v1h1v-1zM466 276v1h1v-1zM467 276v1h1v-1zM468 277v1h1v-1zM469 277v1h1v-1zM470 277v1h1v-1zM471 278v1h1v-1zM472 278v1h1v-1zM473 279v1h1v-1zM474 279v1h1v-1zM475 279v1h1v-1zM476 280v1h1v-1zM477 280v1h1v-1zM478 280v1h1v-1zM479 280v1h1v-1zM480 280v1h1v-1zM481 280v1h1v-1zM482 280v1h1v-1zM483 280v1h1v-1zM484 280v1h1v-1zM485 280v1h1v-1zM486 280v1h1v-1zM487 279v1h1v-1zM488 279v1h1v-1zM489 278v1h1v-1zM490 278v1h1v-1zM491 277v1h1v-1zM492 275v2h1v-2zM493 274v1h1v-1zM494 273v1h1v-1zM495 272v1h1v-1zM496 270v2h1v-2zM497 269v1h1v-1zM498 268v1h1v-1zM499 267v1h1v-1zM500 265v2h1v-2zM501 264v1h1v-1zM502 263v1h1v-1zM503 261v2h1v-2zM504 259v2h1v-2zM505 257v2h1v-2zM506 255v2h1v-2zM507 253v2h1v-2zM508 251v2h1v-2zM509 249v2h1v-2zM510 246v3h1v-3zM511 244v2h1v-2zM512 242v2h1v-2zM513 240v2h1v-2zM514 238v2h1v-2zM515 236v2h1v-2zM516 234v2h1v-2zM517 232v2h1v-2zM518 229v3h1v-3zM519 226v3h1v-3zM520 224v2h1v-2zM521 221v3h1v-3zM522 218v3h1v-3zM523 216v2h1v-2zM524 213v3h1v-3zM525 211v2h1v-2zM526 208v3h1v-3zM527 206v2h1v-2zM528 203v3h1v-3zM529 201v2h1v-2zM530 199v2h1v-2zM531 197v2h1v-2zM532 195v2h1v-2zM533 193v2h1v-2zM534 190v3h1v-3zM535 188v2h1v-2zM536 186v2h1v-2zM537 184v2h1v-2zM538 181v3h1v-3zM539 179v2h1v-2zM540 177v2h1v-2zM541 175v2h1v-2zM542 173v2h1v-2zM543 171v2h1v-2zM544 169v2h1v-2zM545 167v2h1v-2zM546 165v2h1v-2zM547 163v2h1v-2zM548 161v2h1v-2zM549 159v2h1v-2zM550 158v1h1v-1zM551 156v2h1v-2zM552 154v2h1v-2zM553 152v2h1v-2zM554 150v2h1v-2zM555 148v2h1v-2zM556 146v2h1v-2zM557 144v2h1v-2zM558 142v2h1v-2zM559 140v2h1v-2zM560 138v2h1v-2zM561 136v2h1v-2zM562 135v1h1v-1zM563 133v2h1v-2zM564 132v1h1v-1zM565 130v2h1v-2zM566 129v1h1v-1zM567 127v2h1v-2zM568 125v2h1v-2zM569 123v2h1v-2zM570 122v1h1v-1zM571 120v2h1v-2zM572 118v2h1v-2zM573 116v2h1v-2zM574 115v1h1v-1zM575 114v1h1v-1zM576 112v2h1v-2zM577 111v1h1v-1zM578 110v1h1v-1zM579 109v1h1v-1zM580 108v1h1v-1zM581 107v1h1v-1zM582 106v1h1v-1zM583 106v1h1v-1zM584 105v1h1v-1zM585 105v1h1v-1zM586 105v1h1v-1zM587 106v1h1v-1zM588 106v1h1v-1zM589 107v1h1v-1zM590 107v1h1v-1zM591 108v1h1v-1zM592 109v1h1v-1zM593 109v1h1v-1zM594 110v1h1v-1zM595 111v1h1v-1zM596 111v1h1v-1zM597 112v1h1v-1zM598 112v1h1v-1zM599 113v1h1v-1zM600 114v1h1v-1zM601 114v1h1v-1zM602 115v1h1v-1zM603 116v1h1v-1zM604 117v1h1v-1zM605 117v1h1v-1zM606 118v1h1v-1zM607 119v1h1v-1zM608 120v1h1v-1zM609 121v1h1v-1zM610 122v1h1v-1zM611 123v1h1v-1zM612 124v2h1v-2zM613 126v1h1v-1zM614 127v1h1v-1zM615 128v1h1v-1zM616 129v1h1v-1zM617 129v1h1v-1zM618 130v1h1v-1zM619 131v1h1v-1zM620 132v2h1v-2zM621 134v1h1v-1zM622 135v1h1v-1zM623 136v2h1v-2zM624 138v1h1v-1zM625 139v2h1v-2zM626 141v1h1v-1zM627 142v2h1v-2zM628 144v2h1v-2zM629 146v2h1v-2zM630 148v2h1v-2zM631 150v2h1v-2zM632 152v1h1v-1zM633 153v2h1v-2zM634 155v1h1v-1zM635 156v2h1v-2zM636 158v1h1v-1zM637 159v2h1v-2zM638 161v1h1v-1zM639 162v1h1v-1zM640 163v2h1v-2zM641 165v1h1v-1zM642 166v1h1v-1zM643 167v1h1v-1zM644 168v1h1v-1zM645 168v1h1v-1zM646 169v1h1v-1zM647 170v1h1v-1zM648 171v1h1v-1zM649 172v1h1v-1zM650 173v1h1v-1zM651 174v2h1v-2zM652 176v2h1v-2zM653 178v2h1v-2zM654 180v3h1v-3zM655 183v2h1v-2zM656 185v2h1v-2zM657 187v2h1v-2zM658 189v3h1v-3zM659 192v2h1v-2zM660 194v2h1v-2zM661 196v2h1v-2zM662 198v2h1v-2zM663 200v2h1v-2zM664 202v2h1v-2zM665 204v2h1v-2zM666 206v2h1v-2zM667 208v2h1v-2zM668 210v2h1v-2zM669 212v2h1v-2zM670 214v1h1v-1zM671 215v2h1v-2zM672 217v1h1v-1zM673 218v2h1v-2zM674 220v2h1v-2zM675 222v2h1v-2zM676 224v2h1v-2zM677 226v2h1v-2zM678 228v2h1v-2zM679 230v2h1v-2zM680 232v2h1v-2zM681 234v2h1v-2zM682 236v2h1v-2zM683 238v2h1v-2zM684 240v2h1v-2zM685 242v2h1v-2zM686 244v2h1v-2zM687 246v2h1v-2zM688 248v2h1v-2zM689 250v2h1v-2zM690 252v2h1v-2zM691 254v2h1v-2zM692 256v1h1v-1zM693 257v2h1v-2zM694 259v1h1v-1zM695 260v2h1v-2zM696 262v1h1v-1zM697 263v2h1v-2zM698 265v1h1v-1zM699 266v1h1v-1zM700 267v2h1v-2zM701 269v1h1v-1zM702 270v1h1v-1zM703 271v1h1v-1zM704 272v1h1v-1zM705 273v1h1v-1zM706 274v1h1v-1zM707 275v1h1v-1zM708 275v1h1v-1zM709 276v1h1v-1zM710 276v1h1v-1zM711 276v1h1v-1zM712 276v1h1v-1zM713 276v1h1v-1zM714 276v1h1v-1zM715 277v1h1v-1zM716 278v1h1v-1zM717 279v1h1v-1zM718 280v2h1v-2zM719 282v2h1v-2zM720 284v3h1v-3zM721 287v2h1v-2zM722 289v3h1v-3zM723 292v3h1v-3zM724 295v3h1v-3zM725 298v3h1v-3zM726 301v3h1v-3zM727 304v4h1v-4zM728 308v3h1v-3zM729 311v4h1v-4zM730 315v3h1v-3zM731 318v4h1v-4zM732 322v3h1v-3zM733 325v4h1v-4zM734 329v3h1v-3zM735 332v3h1v-3zM736 335v2h1v-2zM737 337v3h1v-3zM738 340v3h1v-3zM739 343v2h1v-2zM740 345v2h1v-2zM741 347v2h1v-2zM742 349v2h1v-2zM743 351v2h1v-2zM744 353v1h1v-1zM745 354v2h1v-2zM746 356v1h1v-1zM747 357v2h1v-2zM748 359v2h1v-2zM749 361v2h1v-2zM750 363v1h1v-1zM751 364v2h1v-2zM752 366v1h1v-1zM753 367v2h1v-2zM754 369v1h1v-1zM755 370v1h1v-1zM756 370v1h1v-1zM757 371v1h1v-1zM758 371v1h1v-1zM759 371v1h1v-1zM760 371v1h1v-1zM761 371v1h1v-1zM762 371v1h1v-1zM763 372v1h1v-1zM764 372v1h1v-1zM765 373v1h1v-1zM766 373v1h1v-1zM767 374v1h1v-1zM768 374v1h1v-1zM769 375v1h1v-1zM770 375v1h1v-1zM771 375v1h1v-1zM772 375v1h1v-1zM773 375v1h1v-1zM774 375v1h1v-1zM775 376v1h1v-1zM776 376v1h1v-1zM777 377v1h1v-1zM778 377v1h1v-1zM779 377v1h1v-1zM780 376v1h1v-1zM781 376v1h1v-1zM782 376v1h1v-1zM783 377v1h1v-1zM784 378v1h1v-1zM785 378v1h1v-1zM786 379v1h1v-1zM787 380v1h1v-1zM788 381v1h1v-1zM789 382v1h1v-1zM790 383v1h1v-1zM791 384v1h1v-1zM792 385v1h1v-1zM793 385v1h1v-1zM794 386v1h1v-1zM795 387v2h1v-2zM796 389v2h1v-2zM797 391v2h1v-2zM798 393v1h1v-1zM799 394v1h1v-1zM800 395v1h1v-1zM801 396v1h1v-1zM802 397v1h1v-1zM803 396v1h1v-1zM804 396v1h1v-1zM805 395v1h1v-1zM806 395v1h1v-1zM807 394v1h1v-1zM808 393v1h1v-1zM809 392v1h1v-1zM810 391v1h1v-1zM811 390v1h1v-1zM812 388v2h1v-2zM813 387v1h1v-1zM814 386v1h1v-1zM815 385v1h1v-1zM816 384v1h1v-1zM817 383v1h1v-1zM818 382v1h1v-1zM819 381v1h1v-1zM820 380v1h1v-1zM821 380v1h1v-1zM822 379v1h1v-1zM823 378v1h1v-1zM824 377v1h1v-1zM825 377v1h1v-1zM826 376v1h1v-1zM827 375v1h1v-1zM828 375v1h1v-1zM829 374v1h1v-1zM830 374v1h1v-1zM831 373v1h1v-1zM832 372v1h1v-1zM833 371v1h1v-1zM834 370v1h1v-1zM835 369v1h1v-1zM836 369v1h1v-1zM837 368v1h1v-1zM838 368v1h1v-1zM839 367v1h1v-1zM840 367v1h1v-1zM841 366v1h1v-1zM842 366v1h1v-1zM843 365v1h1v-1zM844 364v1h1v-1zM845 363v1h1v-1zM846 362v1h1v-1zM847 361v1h1v-1zM848 360v1h1v-1zM849 360v1h1v-1zM850 359v1h1v-1zM851 358v1h1v-1zM852 357v1h1v-1zM853 357v1h1v-1zM854 356v1h1v-1zM855 356v1h1v-1zM856 357v1h1v-1zM857 357v1h1v-1zM858 357v1h1v-1zM859 357v1h1v-1zM860 356v1h1v-1zM861 356v1h1v-1zM862 356v1h1v-1zM863 357v1h1v-1zM864 357v1h1v-1zM865 358v1h1v-1zM866 358v1h1v-1zM867 359v1h1v-1zM868 360v1h1v-1zM869 361v1h1v-1zM870 362v1h1v-1zM871 363v1h1v-1zM872 364v1h1v-1zM873 364v1h1v-1zM874 365v1h1v-1zM875 366v2h1v-2zM876 368v2h1v-2zM877 370v2h1v-2zM878 372v2h1v-2zM879 374v1h1v-1zM880 375v1h1v-1zM881 375v1h1v-1zM882 376v1h1v-1zM883 377v1h1v-1zM884 378v1h1v-1zM885 379v1h1v-1zM886 380v1h1v-1zM887 381v1h1v-1zM888 382v2h1v-2zM889 384v1h1v-1zM890 385v1h1v-1zM891 386v2h1v-2zM892 388v1h1v-1zM893 389v2h1v-2zM894 391v1h1v-1zM895 392v2h1v-2zM896 394v1h1v-1zM897 395v2h1v-2zM898 397v1h1v-1zM899 398v2h1v-2zM900 400v1h1v-1zM901 401v2h1v-2zM902 403v1h1v-1zM903 404v1h1v-1zM904 405v1h1v-1zM905 405v1h1v-1zM906 406v1h1v-1zM907 407v1h1v-1zM908 408v1h1v-1zM909 409v1h1v-1zM910 410v1h1v-1zM911 411v1h1v-1zM912 411v1h1v-1zM913 412v1h1v-1zM914 412v1h1v-1zM915 413v1h1v-1zM916 414v1h1v-1zM917 414v1h1v-1zM918 415v1h1v-1zM919 416v1h1v-1zM920 416v1h1v-1zM921 417v1h1v-1zM922 417v1h1v-1zM923 418v1h1v-1zM924 419v1h1v-1zM925 420v1h1v-1zM926 421v1h1v-1zM927 422v2h1v-2zM928 424v2h1v-2zM929 426v2h1v-2zM930 428v1h1v-1zM931 429v1h1v-1zM932 430v2h1v-2zM933 432v1h1v-1zM934 433v1h1v-1zM935 434v1h1v-1zM936 435v1h1v-1zM937 435v1h1v-1zM938 436v1h1v-1zM939 437v2h1v-2zM940 439v1h1v-1zM941 440v2h1v-2zM942 442v2h1v-2zM943 444v2h1v-2zM944 446v2h1v-2zM945 448v2h1v-2zM946 450v2h1v-2zM947 452v1h1v-1zM948 453v1h1v-1zM949 454v1h1v-1zM950 455v1h1v-1zM951 455v1h1v-1zM952 456v1h1v-1zM953 456v1h1v-1zM954 456v1h1v-1zM955 456v1h1v-1zM956 456v1h1v-1zM957 456v1h1v-1zM958 456v1h1v-1zM959 454v2h1v-2zM960 453v1h1v-1zM961 451v2h1v-2zM962 450v1h1v-1zM963 448v2h1v-2zM964 447v1h1v-1zM965 445v2h1v-2zM966 444v1h1v-1zM967 442v2h1v-2zM968 441v1h1v-1zM969 439v2h1v-2zM970 438v1h1v-1zM971 436v2h1v-2zM972 434v2h1v-2zM973 432v2h1v-2zM974 431v1h1v-1zM975 429v2h1v-2zM976 428v1h1v-1zM977 426v2h1v-2zM978 425v1h1v-1zM979 424v1h1v-1zM980 423v1h1v-1zM981 422v1h1v-1zM982 421v1h1v-1zM983 419v2h1v-2zM984 417v2h1v-2zM985 415v2h1v-2zM986 414v1h1v-1zM987 413v1h1v-1zM988 411v2h1v-2zM989 410v1h1v-1zM990 409v1h1v-1zM991 407v2h1v-2zM992 406v1h1v-1zM993 404v2h1v-2zM994 403v1h1v-1zM995 401v2h1v-2zM996 400v1h1v-1zM997 398v2h1v-2zM998 397v1h1v-1zM999 395v2h1v-2zM1000 394v1h1v-1zM1001 392v2h1v-2zM1002 391v1h1v-1zM1003 389v2h1v-2zM1004 388v1h1v-1zM1005 386v2h1v-2zM1006 385v1h1v-1zM1007 384v1h1v-1zM1008 383v1h1v-1zM1009 382v1h1v-1zM1010 381v1h1v-1zM1011 380v1h1v-1zM1012 378v2h1v-2zM1013 377v1h1v-1zM1014 376v1h1v-1zM1015 375v1h1v-1zM1016 375v1h1v-1zM1017 374v1h1v-1zM1018 374v1h1v-1zM1019 373v1h1v-1zM1020 372v1h1v-1zM1021 371v1h1v-1zM1022 370v1h1v-1zM1023 368v2h1v-2zM1024 366v2h1v-2zM1025 364v2h1v-2zM1026 362v2h1v-2zM1027 360v2h1v-2zM1028 357v3h1v-3zM1029 355v2h1v-2zM1030 353v2h1v-2zM1031 351v2h1v-2zM1032 350v1h1v-1zM1033 348v2h1v-2zM1034 347v1h1v-1zM1035 346v1h1v-1zM1036 345v1h1v-1zM1037 344v1h1v-1zM1038 343v1h1v-1zM1039 342v1h1v-1zM1040 341v1h1v-1zM1041 340v1h1v-1zM1042 339v1h1v-1zM1043 338v1h1v-1zM1044 338v1h1v-1zM1045 337v1h1v-1zM1046 337v1h1v-1zM1047 338v1h1v-1zM1048 338v1h1v-1zM1049 339v1h1v-1zM1050 339v1h1v-1zM1051 339v1h1v-1zM1052 338v1h1v-1zM1053 338v1h1v-1zM1054 338v1h1v-1zM1055 338v1h1v-1zM1056 337v1h1v-1zM1057 337v1h1v-1zM1058 337v1h1v-1zM1059 337v1h1v-1zM1060 336v1h1v-1zM1061 336v1h1v-1zM1062 336v1h1v-1zM1063 335v1h1v-1zM1064 333v2h1v-2zM1065 332v1h1v-1zM1066 331v1h1v-1zM1067 330v1h1v-1zM1068 329v1h1v-1zM1069 328v1h1v-1zM1070 327v1h1v-1zM1071 326v1h1v-1zM1072 326v1h1v-1zM1073 325v1h1v-1zM1074 325v1h1v-1zM1075 324v1h1v-1zM1076 323v1h1v-1zM1077 322v1h1v-1zM1078 321v1h1v-1zM1079 320v1h1v-1zM1080 320v1h1v-1zM1081 319v1h1v-1zM1082 319v1h1v-1zM1083 318v1h1v-1zM1084 318v1h1v-1zM1085 317v1h1v-1zM1086 317v1h1v-1zM1087 317v1h1v-1zM1088 317v1h1v-1zM1089 317v1h1v-1zM1090 317v1h1v-1zM1091 317v1h1v-1zM1092 316v1h1v-1zM1093 316v1h1v-1zM1094 316v1h1v-1zM1095 316v1h1v-1zM1096 315v1h1v-1zM1097 315v1h1v-1zM1098 315v1h1v-1zM1099 314v1h1v-1zM1100 314v1h1v-1zM1101 313v1h1v-1zM1102 313v1h1v-1zM1103 312v1h1v-1zM1104 312v1h1v-1zM1105 311v1h1v-1zM1106 311v1h1v-1zM1107 310v1h1v-1zM1108 310v1h1v-1zM1109 309v1h1v-1zM1110 309v1h1v-1zM1111 309v1h1v-1zM1112 309v1h1v-1zM1113 309v1h1v-1zM1114 309v1h1v-1zM1115 308v1h1v-1zM1116 308v1h1v-1zM1117 307v1h1v-1zM1118 307v1h1v-1zM1119 306v1h1v-1zM1120 305v1h1v-1zM1121 305v1h1v-1zM1122 304v1h1v-1zM1123 304v1h1v-1zM1124 303v1h1v-1zM1125 303v1h1v-1zM1126 303v1h1v-1zM1127 302v1h1v-1zM1128 302v1h1v-1zM1129 301v1h1v-1zM1130 301v1h1v-1z" fill="#ffff00" shape-rendering="crispEdges"/>
<path d="M6 238v1h1v-1zM7 239v1h1v-1zM8 240v1h1v-1zM9 240v1h1v-1zM10 241v1h1v-1zM11 242v1h1v-1zM12 243v1h1v-1zM13 243v1h1v-1zM14 244v1h1v-1zM15 245v1h1v-1zM16 246v2h1v-2zM17 248v1h1v-1zM18 249v1h1v-1zM19 250v1h1v-1zM20 251v2h1v-2zM21 253v1h1v-1zM22 254v2h1v-2zM23 256v2h1v-2zM24 258v2h1v-2zM25 260v2h1v-2zM26 262v2h1v-2zM27 264v2h1v-2zM28 266v2h1v-2zM29 268v2h1v-2zM30 270v1h1v-1zM31 271v1h1v-1zM32 272v2h1v-2zM33 274v1h1v-1zM34 275v1h1v-1zM35 276v1h1v-1zM36 277v2h1v-2zM37 279v1h1v-1zM38 280v1h1v-1zM39 280v1h1v-1zM40 281v1h1v-1zM41 281v1h1v-1zM42 281v1h1v-1zM43 282v1h1v-1zM44 282v1h1v-1zM45 283v1h1v-1zM46 283v1h1v-1zM47 282v1h1v-1zM48 282v1h1v-1zM49 281v1h1v-1zM50 281v1h1v-1zM51 281v1h1v-1zM52 281v1h1v-1zM53 281v1h1v-1zM54 281v1h1v-1zM55 282v1h1v-1zM56 283v1h1v-1zM57 283v1h1v-1zM58 284v1h1v-1zM59 285v1h1v-1zM60 286v1h1v-1zM61 287v1h1v-1zM62 288v1h1v-1zM63 289v1h1v-1zM64 290v2h1v-2zM65 292v1h1v-1zM66 293v1h1v-1zM67 294v1h1v-1zM68 294v1h1v-1zM69 295v1h1v-1zM70 295v1h1v-1zM71 296v1h1v-1zM72 297v1h1v-1zM73 298v1h1v-1zM74 299v1h1v-1zM75 300v1h1v-1zM76 301v1h1v-1zM77 301v1h1v-1zM78 302v1h1v-1zM79 301v1h1v-1zM80 300v1h1v-1zM81 300v1h1v-1zM82 299v1h1v-1zM83 299v1h1v-1zM84 298v1h1v-1zM85 298v1h1v-1zM86 298v1h1v-1zM87 299v1h1v-1zM88 300v1h1v-1zM89 301v1h1v-1zM90 302v1h1v-1zM91 303v1h1v-1zM92 304v1h1v-1zM93 305v1h1v-1zM94 306v1h1v-1zM95 307v1h1v-1zM96 307v1h1v-1zM97 308v1h1v-1zM98 308v1h1v-1zM99 309v2h1v-2zM100 311v2h1v-2zM101 313v2h1v-2zM102 315v1h1v-1zM103 315v1h1v-1zM104 316v1h1v-1zM105 316v1h1v-1zM106 316v1h1v-1zM107 316v1h1v-1zM108 316v1h1v-1zM109 316v1h1v-1zM110 316v1h1v-1zM111 317v1h1v-1zM112 317v1h1v-1zM113 318v1h1v-1zM114 318v1h1v-1zM115 319v1h1v-1zM116 319v1h1v-1zM117 320v1h1v-1zM118 320v1h1v-1zM119 319v1h1v-1zM120 318v1h1v-1zM121 318v1h1v-1zM122 317v1h1v-1zM123 318v1h1v-1zM124 319v1h1v-1zM125 320v1h1v-1zM126 321v1h1v-1zM127 322v1h1v-1zM128 323v1h1v-1zM129 324v1h1v-1zM130 325v1h1v-1zM131 326v2h1v-2zM132 328v1h1v-1zM133 329v2h1v-2zM134 331v2h1v-2zM135 333v3h1v-3zM136 336v2h1v-2zM137 338v3h1v-3zM138 341v3h1v-3zM139 344v2h1v-2zM140 346v2h1v-2zM141 348v2h1v-2zM142 350v2h1v-2zM143 352v1h1v-1zM144 353v1h1v-1zM145 353v1h1v-1zM146 354v1h1v-1zM147 355v1h1v-1zM148 356v1h1v-1zM149 356v1h1v-1zM150 357v1h1v-1zM151 358v1h1v-1zM152 359v1h1v-1zM153 360v1h1v-1zM154 361v1h1v-1zM155 361v1h1v-1zM156 362v1h1v-1zM157 362v1h1v-1zM158 362v2h1v-2zM159 364v2h1v-2zM160 366v3h1v-3zM161 369v2h1v-2zM162 371v2h1v-2zM163 373v2h1v-2zM164 375v2h1v-2zM165 377v2h1v-2zM166 379v2h1v-2zM167 381v2h1v-2zM168 383v2h1v-2zM169 385v2h1v-2zM170 387v1h1v-1zM171 388v1h1v-1zM172 388v1h1v-1zM173 389v1h1v-1zM174 389v1h1v-1zM175 390v2h1v-2zM176 392v1h1v-1zM177 393v2h1v-2zM178 395v1h1v-1zM179 396v1h1v-1zM180 396v1h1v-1zM181 397v1h1v-1zM182 397v1h1v-1zM183 398v1h1v-1zM184 399v1h1v-1zM185 399v1h1v-1zM186 400v1h1v-1zM187 399v1h1v-1zM188 398v1h1v-1zM189 398v1h1v-1zM190 397v1h1v-1zM191 396v1h1v-1zM192 394v2h1v-2zM193 393v1h1v-1zM194 392v1h1v-1zM195 390v2h1v-2zM196 388v2h1v-2zM197 386v2h1v-2zM198 384v2h1v-2zM199 383v1h1v-1zM200 382v1h1v-1zM201 382v1h1v-1zM202 381v1h1v-1zM203 380v1h1v-1zM204 378v2h1v-2zM205 377v1h1v-1zM206 376v1h1v-1zM207 374v2h1v-2zM208 372v2h1v-2zM209 370v2h1v-2zM210 369v1h1v-1zM211 367v2h1v-2zM212 365v2h1v-2zM213 363v2h1v-2zM214 361v2h1v-2zM215 359v2h1v-2zM216 356v3h1v-3zM217 354v2h1v-2zM218 351v3h1v-3zM219 349v2h1v-2zM220 347v2h1v-2zM221 345v2h1v-2zM222 342v3h1v-3zM223 339v3h1v-3zM224 336v3h1v-3zM225 333v3h1v-3zM226 331v2h1v-2zM227 330v1h1v-1zM228 328v2h1v-2zM229 327v1h1v-1zM230 326v1h1v-1zM231 325v1h1v-1zM232 324v1h1v-1zM233 323v1h1v-1zM234 322v1h1v-1zM235 320v2h1v-2zM236 318v2h1v-2zM237 316v2h1v-2zM238 315v1h1v-1zM239 313v2h1v-2zM240 311v2h1v-2zM241 309v2h1v-2zM242 307v2h1v-2zM243 306v1h1v-1zM244 305v1h1v-1zM245 304v1h1v-1zM246 303v1h1v-1zM247 302v1h1v-1zM248 301v1h1v-1zM249 301v1h1v-1zM250 300v1h1v-1zM251 300v1h1v-1zM252 299v1h1v-1zM253 299v1h1v-1zM254 299v1h1v-1zM255 298v1h1v-1zM256 298v1h1v-1zM257 297v1h1v-1zM258 297v1h1v-1zM259 296v1h1v-1zM260 296v1h1v-1zM261 295v1h1v-1zM262 295v1h1v-1zM263 294v1h1v-1zM264 293v1h1v-1zM265 293v1h1v-1zM266 292v1h1v-1zM267 291v1h1v-1zM268 290v1h1v-1zM269 289v1h1v-1zM270 288v1h1v-1zM271 287v1h1v-1zM272 286v1h1v-1zM273 286v1h1v-1zM274 285v1h1v-1zM275 284v1h1v-1zM276 284v1h1v-1zM277 283v1h1v-1zM278 283v1h1v-1zM279 281v2h1v-2zM280 279v2h1v-2zM281 277v2h1v-2zM282 275v2h1v-2zM283 273v2h1v-2zM284 271v2h1v-2zM285 269v2h1v-2zM286 266v3h1v-3zM287 264v2h1v-2zM288 261v3h1v-3zM289 259v2h1v-2zM290 257v2h1v-2zM291 255v2h1v-2zM292 253v2h1v-2zM293 251v2h1v-2zM294 250v1h1v-1zM295 248v2h1v-2zM296 246v2h1v-2zM297 244v2h1v-2zM298 243v1h1v-1zM299 241v2h1v-2zM300 240v1h1v-1zM301 238v2h1v-2zM302 237v1h1v-1zM303 235v2h1v-2zM304 234v1h1v-1zM305 232v2h1v-2zM306 231v1h1v-1zM307 230v1h1v-1zM308 229v1h1v-1zM309 228v1h1v-1zM310 227v1h1v-1zM311 227v1h1v-1zM312 226v1h1v-1zM313 226v1h1v-1zM314 226v1h1v-1zM315 226v1h1v-1zM316 225v1h1v-1zM317 225v1h1v-1zM318 225v1h1v-1zM319 226v1h1v-1zM320 226v1h1v-1zM321 227v1h1v-1zM322 227v1h1v-1zM323 227v1h1v-1zM324 228v1h1v-1zM325 228v1h1v-1zM326 228v1h1v-1zM327 228v1h1v-1zM328 228v1h1v-1zM329 228v1h1v-1zM330 228v1h1v-1zM331 228v1h1v-1zM332 228v1h1v-1zM333 228v1h1v-1zM334 228v1h1v-1zM335 229v1h1v-1zM336 229v1h1v-1zM337 230v1h1v-1zM338 230v1h1v-1zM339 231v2h1v-2zM340 233v1h1v-1zM341 234v2h1v-2zM342 236v1h1v-1zM343 237v1h1v-1zM344 238v2h1v-2zM345 240v1h1v-1zM346 241v1h1v-1zM347 242v1h1v-1zM348 243v1h1v-1zM349 244v1h1v-1zM350 245v1h1v-1zM351 246v1h1v-1zM352 247v1h1v-1zM353 248v1h1v-1zM354 249v1h1v-1zM355 249v1h1v-1zM356 249v1h1v-1zM357 249v1h1v-1zM358 249v1h1v-1zM359 249v1h1v-1zM360 249v1h1v-1zM361 249v1h1v-1zM362 249v1h1v-1zM363 247v2h1v-2zM364 246v1h1v-1zM365 244v2h1v-2zM366 243v1h1v-1zM367 242v1h1v-1zM368 241v1h1v-1zM369 240v1h1v-1zM370 239v1h1v-1zM371 238v1h1v-1zM372 236v2h1v-2zM373 235v1h1v-1zM374 234v1h1v-1zM375 232v2h1v-2zM376 231v1h1v-1zM377 229v2h1v-2zM378 228v1h1v-1zM379 227v1h1v-1zM380 225v2h1v-2zM381 224v1h1v-1zM382 223v1h1v-1zM383 222v1h1v-1zM384 222v1h1v-1zM385 221v1h1v-1zM386 221v1h1v-1zM387 220v1h1v-1zM388 220v1h1v-1zM389 219v1h1v-1zM390 219v1h1v-1zM391 219v1h1v-1zM392 218v1h1v-1zM393 218v1h1v-1zM394 218v1h1v-1zM395 217v1h1v-1zM396 216v1h1v-1zM397 215v1h1v-1zM398 214v1h1v-1zM399 214v1h1v-1zM400 214v1h1v-1zM401 214v1h1v-1zM402 214v1h1v-1zM403 214v1h1v-1zM404 214v1h1v-1zM405 214v1h1v-1zM406 214v1h1v-1zM407 215v1h1v-1zM408 216v2h1v-2zM409 218v1h1v-1zM410 219v1h1v-1zM411 220v2h1v-2zM412 222v2h1v-2zM413 224v2h1v-2zM414 226v1h1v-1zM415 227v2h1v-2zM416 229v1h1v-1zM417 230v2h1v-2zM418 232v2h1v-2zM419 234v3h1v-3zM420 237v2h1v-2zM421 239v3h1v-3zM422 242v3h1v-3zM423 245v2h1v-2zM424 247v2h1v-2zM425 249v2h1v-2zM426 251v3h1v-3zM427 254v2h1v-2zM428 256v2h1v-2zM429 258v2h1v-2zM430 260v3h1v-3zM431 263v2h1v-2zM432 265v3h1v-3zM433 268v2h1v-2zM434 270v2h1v-2zM435 272v2h1v-2zM436 274v2h1v-2zM437 276v2h1v-2zM438 278v1h1v-1zM439 279v1h1v-1zM440 280v2h1v-2zM441 282v1h1v-1zM442 283v1h1v-1zM443 284v1h1v-1zM444 285v2h1v-2zM445 287v1h1v-1zM446 288v1h1v-1zM447 289v1h1v-1zM448 289v1h1v-1zM449 290v1h1v-1zM450 290v1h1v-1zM451 291v1h1v-1zM452 292v1h1v-1zM453 292v1h1v-1zM454 293v1h1v-1zM455 294v1h1v-1zM456 294v1h1v-1zM457 295v1h1v-1zM458 295v1h1v-1zM459 295v1h1v-1zM460 294v1h1v-1zM461 294v1h1v-1zM462 294v1h1v-1zM463 293v1h1v-1zM464 291v2h1v-2zM465 290v1h1v-1zM466 289v1h1v-1zM467 288v1h1v-1zM468 286v2h1v-2zM469 285v1h1v-1zM470 284v1h1v-1zM471 283v1h1v-1zM472 282v1h1v-1zM473 282v1h1v-1zM474 281v1h1v-1zM475 280v1h1v-1zM476 279v1h1v-1zM477 279v1h1v-1zM478 278v1h1v-1zM479 276v2h1v-2zM480 274v2h1v-2zM481 272v2h1v-2zM482 271v1h1v-1zM483 270v1h1v-1zM484 268v2h1v-2zM485 267v1h1v-1zM486 266v1h1v-1zM487 265v1h1v-1zM488 263v2h1v-2zM489 262v1h1v-1zM490 261v1h1v-1zM491 260v1h1v-1zM492 258v2h1v-2zM493 257v1h1v-1zM494 256v1h1v-1zM495 255v1h1v-1zM496 253v2h1v-2zM497 252v1h1v-1zM498 251v1h1v-1zM499 249v2h1v-2zM500 247v2h1v-2zM501 245v2h1v-2zM502 244v1h1v-1zM503 242v2h1v-2zM504 240v2h1v-2zM505 238v2h1v-2zM506 236v2h1v-2zM507 233v3h1v-3zM508 231v2h1v-2zM509 228v3h1v-3zM510 225v3h1v-3zM511 222v3h1v-3zM512 220v2h1v-2zM513 217v3h1v-3zM514 214v3h1v-3zM515 212v2h1v-2zM516 210v2h1v-2zM517 208v2h1v-2zM518 205v3h1v-3zM519 202v3h1v-3zM520 198v4h1v-4zM521 195v3h1v-3zM522 192v3h1v-3zM523 189v3h1v-3zM524 186v3h1v-3zM525 183v3h1v-3zM526 180v3h1v-3zM527 177v3h1v-3zM528 173v4h1v-4zM529 170v3h1v-3zM530 167v3h1v-3zM531 164v3h1v-3zM532 161v3h1v-3zM533 158v3h1v-3zM534 155v3h1v-3zM535 153v2h1v-2zM536 150v3h1v-3zM537 148v2h1v-2zM538 145v3h1v-3zM539 142v3h1v-3zM540 140v2h1v-2zM541 137v3h1v-3zM542 134v3h1v-3zM543 132v2h1v-2zM544 129v3h1v-3zM545 127v2h1v-2zM546 124v3h1v-3zM547 122v2h1v-2zM548 120v2h1v-2zM549 118v2h1v-2zM550 115v3h1v-3zM551 113v2h1v-2zM552 110v3h1v-3zM553 108v2h1v-2zM554 106v2h1v-2zM555 104v2h1v-2zM556 103v1h1v-1zM557 101v2h1v-2zM558 100v1h1v-1zM559 99v1h1v-1zM560 98v1h1v-1zM561 98v1h1v-1zM562 97v1h1v-1zM563 96v1h1v-1zM564 96v1h1v-1zM565 95v1h1v-1zM566 95v1h1v-1zM567 94v1h1v-1zM568 93v1h1v-1zM569 93v1h1v-1zM570 92v1h1v-1zM571 91v1h1v-1zM572 90v1h1v-1zM573 90v1h1v-1zM574 89v1h1v-1zM575 90v1h1v-1zM576 91v1h1v-1zM577 91v1h1v-1zM578 92v1h1v-1zM579 93v1h1v-1zM580 94v2h1v-2zM581 96v1h1v-1zM582 97v1h1v-1zM583 98v2h1v-2zM584 100v1h1v-1zM585 101v2h1v-2zM586 103v1h1v-1zM587 104v2h1v-2zM588 106v2h1v-2zM589 108v2h1v-2zM590 110v2h1v-2zM591 112v2h1v-2zM592 114v2h1v-2zM593 116v2h1v-2zM594 118v1h1v-1zM595 119v2h1v-2zM596 121v2h1v-2zM597 123v2h1v-2zM598 125v1h1v-1zM599 126v1h1v-1zM600 127v2h1v-2zM601 129v1h1v-1zM602 130v1h1v-1zM603 131v1h1v-1zM604 132v1h1v-1zM605 133v1h1v-1zM606 134v1h1v-1zM607 135v1h1v-1zM608 136v2h1v-2zM609 138v1h1v-1zM610 139v1h1v-1zM611 140v2h1v-2zM612 142v1h1v-1zM613 143v2h1v-2zM614 145v1h1v-1zM615 146v1h1v-1zM616 147v1h1v-1zM617 147v1h1v-1zM618 148v1h1v-1zM619 149v2h1v-2zM620 151v1h1v-1zM621 152v2h1v-2zM622 154v2h1v-2zM623 156v2h1v-2zM624 158v3h1v-3zM625 161v2h1v-2zM626 163v3h1v-3zM627 166v3h1v-3zM628 169v3h1v-3zM629 172v3h1v-3zM630 175v2h1v-2zM631 177v2h1v-2zM632 179v2h1v-2zM633 181v2h1v-2zM634 183v2h1v-2zM635 185v1h1v-1zM636 186v2h1v-2zM637 188v1h1v-1zM638 189v1h1v-1zM639 190v1h1v-1zM640 190v1h1v-1zM641 191v1h1v-1zM642 191v1h1v-1zM643 190v1h1v-1zM644 190v1h1v-1zM645 189v1h1v-1zM646 189v1h1v-1zM647 189v1h1v-1zM648 190v1h1v-1zM649 190v1h1v-1zM650 190v1h1v-1zM651 191v1h1v-1zM652 192v2h1v-2zM653 194v1h1v-1zM654 195v1h1v-1zM655 196v2h1v-2zM656 198v2h1v-2zM657 200v2h1v-2zM658 202v2h1v-2zM659 204v3h1v-3zM660 207v2h1v-2zM661 209v3h1v-3zM662 212v3h1v-3zM663 215v3h1v-3zM664 218v3h1v-3zM665 221v3h1v-3zM666 224v3h1v-3zM667 227v2h1v-2zM668 229v2h1v-2zM669 231v2h1v-2zM670 233v3h1v-3zM671 236v3h1v-3zM672 239v3h1v-3zM673 242v3h1v-3zM674 245v3h1v-3zM675 248v3h1v-3zM676 251v4h1v-4zM677 255v3h1v-3zM678 258v2h1v-2zM679 260v2h1v-2zM680 262v2h1v-2zM681 264v2h1v-2zM682 266v2h1v-2zM683 268v2h1v-2zM684 270v2h1v-2zM685 272v2h1v-2zM686 274v2h1v-2zM687 276v2h1v-2zM688 278v1h1v-1zM689 279v2h1v-2zM690 281v1h1v-1zM691 282v1h1v-1zM692 283v2h1v-2zM693 285v1h1v-1zM694 286v2h1v-2zM695 288v2h1v-2zM696 290v2h1v-2zM697 292v2h1v-2zM698 294v2h1v-2zM699 296v1h1v-1zM700 297v2h1v-2zM701 299v1h1v-1zM702 300v1h1v-1zM703 301v1h1v-1zM704 302v2h1v-2zM705 304v1h1v-1zM706 305v1h1v-1zM707 305v1h1v-1zM708 306v1h1v-1zM709 306v1h1v-1zM710 306v1h1v-1zM711 306v1h1v-1zM712 306v1h1v-1zM713 306v1h1v-1zM714 306v1h1v-1zM715 306v1h1v-1zM716 306v1h1v-1zM717 306v1h1v-1zM718 306v1h1v-1zM719 307v2h1v-2zM720 309v2h1v-2zM721 311v2h1v-2zM722 313v2h1v-2zM723 315v2h1v-2zM724 317v3h1v-3zM725 320v2h1v-2zM726 322v3h1v-3zM727 325v2h1v-2zM728 327v3h1v-3zM729 330v2h1v-2zM730 332v3h1v-3zM731 335v2h1v-2zM732 337v2h1v-2zM733 339v2h1v-2zM734 341v3h1v-3zM735 344v2h1v-2zM736 346v2h1v-2zM737 348v2h1v-2zM738 350v2h1v-2zM739 352v2h1v-2zM740 354v2h1v-2zM741 356v2h1v-2zM742 358v2h1v-2zM743 360v2h1v-2zM744 362v3h1v-3zM745 365v2h1v-2zM746 367v3h1v-3zM747 370v3h1v-3zM748 373v3h1v-3zM749 376v3h1v-3zM750 379v3h1v-3zM751 382v2h1v-2zM752 384v2h1v-2zM753 386v2h1v-2zM754 388v2h1v-2zM755 390v2h1v-2zM756 392v2h1v-2zM757 394v2h1v-2zM758 396v2h1v-2zM759 398v2h1v-2zM760 400v2h1v-2zM761 402v2h1v-2zM762 404v2h1v-2zM763 406v2h1v-2zM764 408v2h1v-2zM765 410v2h1v-2zM766 412v2h1v-2zM767 414v2h1v-2zM768 416v3h1v-3zM769 419v2h1v-2zM770 421v2h1v-2zM771 422v1h1v-1zM772 423v1h1v-1zM773 423v1h1v-1zM774 423v1h1v-1zM775 421v2h1v-2zM776 420v1h1v-1zM777 418v2h1v-2zM778 416v2h1v-2zM779 413v3h1v-3zM780 411v2h1v-2zM781 408v3h1v-3zM782 405v3h1v-3zM783 402v3h1v-3zM784 400v2h1v-2zM785 397v3h1v-3zM786 394v3h1v-3zM787 392v2h1v-2zM788 389v3h1v-3zM789 387v2h1v-2zM790 384v3h1v-3zM791 382v2h1v-2zM792 379v3h1v-3zM793 377v2h1v-2zM794 375v2h1v-2zM795 374v1h1v-1zM796 373v1h1v-1zM797 372v1h1v-1zM798 371v1h1v-1zM799 370v1h1v-1zM800 368v2h1v-2zM801 367v1h1v-1zM802 366v1h1v-1zM803 365v1h1v-1zM804 363v2h1v-2zM805 362v1h1v-1zM806 361v1h1v-1zM807 360v1h1v-1zM808 358v2h1v-2zM809 357v1h1v-1zM810 356v1h1v-1zM811 356v1h1v-1zM812 356v1h1v-1zM813 356v1h1v-1zM814 356v1h1v-1zM815 357v1h1v-1zM816 357v1h1v-1zM817 358v1h1v-1zM818 358v1h1v-1zM819 359v1h1v-1zM820 359v1h1v-1zM821 360v1h1v-1zM822 360v1h1v-1zM823 360v1h1v-1zM824 361v1h1v-1zM825 361v1h1v-1zM826 361v1h1v-1zM827 362v1h1v-1zM828 363v2h1v-2zM829 365v1h1v-1zM830 366v1h1v-1zM831 367v1h1v-1zM832 368v1h1v-1zM833 369v1h1v-1zM834 370v1h1v-1zM835 371v2h1v-2zM836 373v1h1v-1zM837 374v2h1v-2zM838 376v1h1v-1zM839 377v1h1v-1zM840 377v1h1v-1zM841 378v1h1v-1zM842 378v1h1v-1zM843 377v1h1v-1zM844 376v1h1v-1zM845 375v1h1v-1zM846 374v1h1v-1zM847 373v1h1v-1zM848 373v1h1v-1zM849 372v1h1v-1zM850 372v1h1v-1zM851 371v1h1v-1zM852 369v2h1v-2zM853 368v1h1v-1zM854 367v1h1v-1zM855 366v1h1v-1zM856 365v1h1v-1zM857 365v1h1v-1zM858 364v1h1v-1zM859 362v2h1v-2zM860 361v1h1v-1zM861 359v2h1v-2zM862 358v1h1v-1zM863 358v1h1v-1zM864 357v1h1v-1zM865 357v1h1v-1zM866 357v1h1v-1zM867 358v1h1v-1zM868 358v1h1v-1zM869 359v1h1v-1zM870 359v1h1v-1zM871 359v1h1v-1zM872 359v1h1v-1zM873 359v1h1v-1zM874 359v1h1v-1zM875 360v2h1v-2zM876 362v2h1v-2zM877 364v2h1v-2zM878 366v2h1v-2zM879 368v1h1v-1zM880 369v1h1v-1zM881 370v1h1v-1zM882 371v1h1v-1zM883 372v1h1v-1zM884 373v2h1v-2zM885 375v1h1v-1zM886 376v1h1v-1zM887 377v2h1v-2zM888 379v2h1v-2zM889 381v2h1v-2zM890 383v1h1v-1zM891 384v2h1v-2zM892 386v2h1v-2zM893 388v2h1v-2zM894 390v3h1v-3zM895 393v3h1v-3zM896 396v3h1v-3zM897 399v3h1v-3zM898 402v3h1v-3zM899 405v4h1v-4zM900 409v4h1v-4zM901 413v4h1v-4zM902 417v3h1v-3zM903 420v3h1v-3zM904 423v2h1v-2zM905 425v3h1v-3zM906 428v3h1v-3zM907 431v3h1v-3zM908 434v2h1v-2zM909 436v3h1v-3zM910 439v3h1v-3zM911 442v2h1v-2zM912 444v2h1v-2zM913 446v2h1v-2zM914 448v3h1v-3zM915 451v2h1v-2zM916 453v2h1v-2zM917 455v2h1v-2zM918 457v2h1v-2zM919 459v2h1v-2zM920 461v2h1v-2zM921 463v2h1v-2zM922 465v1h1v-1zM923 465v1h1v-1zM924 466v1h1v-1zM925 466v1h1v-1zM926 466v1h1v-1zM927 467v1h1v-1zM928 468v1h1v-1zM929 468v1h1v-1zM930 469v1h1v-1zM931 467v2h1v-2zM932 465v2h1v-2zM933 463v2h1v-2zM934 461v2h1v-2zM935 460v1h1v-1zM936 459v1h1v-1zM937 458v1h1v-1zM938 457v1h1v-1zM939 457v1h1v-1zM940 457v1h1v-1zM941 457v1h1v-1zM942 457v1h1v-1zM943 457v1h1v-1zM944 458v1h1v-1zM945 458v1h1v-1zM946 458v1h1v-1zM947 457v1h1v-1zM948 455v2h1v-2zM949 454v1h1v-1zM950 453v1h1v-1zM951 451v2h1v-2zM952 450v1h1v-1zM953 448v2h1v-2zM954 447v1h1v-1zM955 445v2h1v-2zM956 443v2h1v-2zM957 441v2h1v-2zM958 440v1h1v-1zM959 438v2h1v-2zM960 437v1h1v-1zM961 435v2h1v-2zM962 433v2h1v-2zM963 430v3h1v-3zM964 428v2h1v-2zM965 425v3h1v-3zM966 423v2h1v-2zM967 421v2h1v-2zM968 419v2h1v-2zM969 417v2h1v-2zM970 415v2h1v-2zM971 413v2h1v-2zM972 411v2h1v-2zM973 409v2h1v-2zM974 407v2h1v-2zM975 406v1h1v-1zM976 404v2h1v-2zM977 403v1h1v-1zM978 402v1h1v-1zM979 402v1h1v-1zM980 403v1h1v-1zM981 403v1h1v-1zM982 403v1h1v-1zM983 402v1h1v-1zM984 400v2h1v-2zM985 399v1h1v-1zM986 398v1h1v-1zM987 397v1h1v-1zM988 396v1h1v-1zM989 395v1h1v-1zM990 394v1h1v-1zM991 393v1h1v-1zM992 392v1h1v-1zM993 392v1h1v-1zM994 390v2h1v-2zM995 387v3h1v-3zM996 385v2h1v-2zM997 382v3h1v-3zM998 379v3h1v-3zM999 376v3h1v-3zM1000 374v2h1v-2zM1001 371v3h1v-3zM1002 368v3h1v-3zM1003 366v2h1v-2zM1004 364v2h1v-2zM1005 362v2h1v-2zM1006 360v2h1v-2zM1007 358v2h1v-2zM1008 357v1h1v-1zM1009 355v2h1v-2zM1010 354v1h1v-1zM1011 352v2h1v-2zM1012 351v1h1v-1zM1013 349v2h1v-2zM1014 348v1h1v-1zM1015 348v1h1v-1zM1016 347v1h1v-1zM1017 347v1h1v-1zM1018 347v1h1v-1zM1019 347v1h1v-1zM1020 346v1h1v-1zM1021 346v1h1v-1zM1022 346v1h1v-1zM1023 345v1h1v-1zM1024 345v1h1v-1zM1025 344v1h1v-1zM1026 344v1h1v-1zM1027 343v1h1v-1zM1028 342v1h1v-1zM1029 341v1h1v-1zM1030 340v1h1v-1zM1031 339v1h1v-1zM1032 338v1h1v-1zM1033 337v1h1v-1zM1034 336v1h1v-1zM1035 334v2h1v-2zM1036 333v1h1v-1zM1037 331v2h1v-2zM1038 330v1h1v-1zM1039 329v1h1v-1zM1040 328v1h1v-1zM1041 327v1h1v-1zM1042 326v1h1v-1zM1043 326v1h1v-1zM1044 325v1h1v-1zM1045 325v1h1v-1zM1046 325v1h1v-1zM1047 326v1h1v-1zM1048 326v1h1v-1zM1049 327v1h1v-1zM1050 327v1h1v-1zM1051 327v1h1v-1zM1052 327v1h1v-1zM1053 327v1h1v-1zM1054 327v1h1v-1zM1055 327v1h1v-1zM1056 326v1h1v-1zM1057 326v1h1v-1zM1058 326v1h1v-1zM1059 327v1h1v-1zM1060 327v1h1v-1zM1061 328v1h1v-1zM1062 328v1h1v-1zM1063 328v1h1v-1zM1064 328v1h1v-1zM1065 328v1h1v-1zM1066 328v1h1v-1zM1067 327v1h1v-1zM1068 326v1h1v-1zM1069 325v1h1v-1zM1070 324v1h1v-1zM1071 323v1h1v-1zM1072 322v1h1v-1zM1073 321v1h1v-1zM1074 320v1h1v-1zM1075 319v1h1v-1zM1076 319v1h1v-1zM1077 318v1h1v-1zM1078 318v1h1v-1zM1079 317v1h1v-1zM1080 316v1h1v-1zM1081 315v1h1v-1zM1082 314v1h1v-1zM1083 315v1h1v-1zM1084 315v1h1v-1zM1085 316v1h1v-1zM1086 316v1h1v-1zM1087 316v1h1v-1zM1088 315v1h1v-1zM1089 315v1h1v-1zM1090 315v1h1v-1zM1091 314v1h1v-1zM1092 314v1h1v-1zM1093 313v1h1v-1zM1094 313v1h1v-1zM1095 313v1h1v-1zM1096 313v1h1v-1zM1097 313v1h1v-1zM1098 313v1h1v-1zM1099 312v1h1v-1zM1100 311v1h1v-1zM1101 311v1h1v-1zM1102 310v1h1v-1zM1103 308v2h1v-2zM1104 307v1h1v-1zM1105 305v2h1v-2zM1106 304v1h1v-1zM1107 303v1h1v-1zM1108 302v1h1v-1zM1109 302v1h1v-1zM1110 301v1h1v-1zM1111 300v1h1v-1zM1112 299v1h1v-1zM1113 299v1h1v-1zM1114 298v1h1v-1zM1115 297v1h1v-1zM1116 295v2h1v-2zM1117 294v1h1v-1zM1118 293v1h1v-1zM1119 292v1h1v-1zM1120 291v1h1v-1zM1121 290v1h1v-1zM1122 289v1h1v-1zM1123 290v1h1v-1zM1124 290v1h1v-1zM1125 291v1h1v-1zM1126 291v1h1v-1zM1127 291v1h1v-1zM1128 290v1h1v-1zM1129 290v1h1v-1zM1130 290v1h1v-1z" fill="#ff0000" shape-rendering="crispEdges"/>
<path d="M6 274v2h1v-2zM7 276v2h1v-2zM8 278v2h1v-2zM9 280v2h1v-2zM10 282v2h1v-2zM11 284v1h1v-1zM12 285v2h1v-2zM13 287v1h1v-1zM14 288v1h1v-1zM15 288v1h1v-1zM16 289v1h1v-1zM17 289v1h1v-1zM18 289v1h1v-1zM19 287v2h1v-2zM20 286v1h1v-1zM21 284v2h1v-2zM22 283v1h1v-1zM23 284v1h1v-1zM24 284v1h1v-1zM25 285v1h1v-1zM26 285v1h1v-1zM27 284v1h1v-1zM28 284v1h1v-1zM29 283v1h1v-1zM30 283v1h1v-1zM31 281v2h1v-2zM32 280v1h1v-1zM33 278v2h1v-2zM34 277v1h1v-1zM35 277v1h1v-1zM36 276v1h1v-1zM37 276v1h1v-1zM38 276v1h1v-1zM39 276v1h1v-1zM40 275v1h1v-1zM41 275v1h1v-1zM42 275v1h1v-1zM43 275v1h1v-1zM44 276v1h1v-1zM45 276v1h1v-1zM46 276v1h1v-1zM47 277v1h1v-1zM48 277v1h1v-1zM49 278v1h1v-1zM50 278v1h1v-1zM51 278v1h1v-1zM52 278v1h1v-1zM53 278v1h1v-1zM54 278v1h1v-1zM55 279v2h1v-2zM56 281v2h1v-2zM57 283v2h1v-2zM58 285v3h1v-3zM59 288v3h1v-3zM60 291v3h1v-3zM61 294v3h1v-3zM62 297v3h1v-3zM63 300v3h1v-3zM64 303v2h1v-2zM65 305v3h1v-3zM66 308v2h1v-2zM67 310v2h1v-2zM68 312v1h1v-1zM69 313v2h1v-2zM70 315v1h1v-1zM71 316v2h1v-2zM72 318v1h1v-1zM73 319v2h1v-2zM74 321v1h1v-1zM75 322v1h1v-1zM76 323v1h1v-1zM77 324v1h1v-1zM78 325v1h1v-1zM79 324v1h1v-1zM80 322v2h1v-2zM81 321v1h1v-1zM82 319v2h1v-2zM83 316v3h1v-3zM84 314v2h1v-2zM85 311v3h1v-3zM86 309v2h1v-2zM87 308v1h1v-1zM88 307v1h1v-1zM89 307v1h1v-1zM90 306v1h1v-1zM91 305v1h1v-1zM92 304v1h1v-1zM93 303v1h1v-1zM94 302v1h1v-1zM95 302v1h1v-1zM96 301v1h1v-1zM97 301v1h1v-1zM98 301v1h1v-1zM99 302v2h1v-2zM100 304v2h1v-2zM101 306v2h1v-2zM102 308v1h1v-1zM103 308v1h1v-1zM104 307v1h1v-1zM105 307v1h1v-1zM106 307v1h1v-1zM107 308v1h1v-1zM108 309v2h1v-2zM109 311v1h1v-1zM110 312v2h1v-2zM111 314v4h1v-4zM112 318v4h1v-4zM113 322v4h1v-4zM114 326v2h1v-2zM115 328v2h1v-2zM116 330v2h1v-2zM117 332v2h1v-2zM118 334v1h1v-1zM119 333v1h1v-1zM120 333v1h1v-1zM121 332v1h1v-1zM122 332v1h1v-1zM123 333v2h1v-2zM124 335v2h1v-2zM125 337v2h1v-2zM126 339v2h1v-2zM127 341v1h1v-1zM128 341v1h1v-1zM129 342v1h1v-1zM130 342v2h1v-2zM131 344v4h1v-4zM132 348v3h1v-3zM133 351v4h1v-4zM134 355v3h1v-3zM135 358v4h1v-4zM136 362v4h1v-4zM137 366v4h1v-4zM138 370v2h1v-2zM139 372v1h1v-1zM140 373v2h1v-2zM141 375v1h1v-1zM142 376v1h1v-1zM143 375v1h1v-1zM144 374v1h1v-1zM145 374v1h1v-1zM146 373v2h1v-2zM147 375v2h1v-2zM148 377v2h1v-2zM149 379v2h1v-2zM150 381v2h1v-2zM151 382v1h1v-1zM152 382v1h1v-1zM153 382v1h1v-1zM154 382v1h1v-1zM155 382v1h1v-1zM156 382v1h1v-1zM157 382v1h1v-1zM158 382v1h1v-1zM159 383v2h1v-2zM160 385v1h1v-1zM161 386v2h1v-2zM162 388v1h1v-1zM163 388v1h1v-1zM164 388v1h1v-1zM165 388v1h1v-1zM166 388v2h1v-2zM167 390v3h1v-3zM168 393v2h1v-2zM169 395v3h1v-3zM170 398v2h1v-2zM171 400v2h1v-2zM172 402v1h1v-1zM173 403v2h1v-2zM174 405v1h1v-1zM175 406v1h1v-1zM176 407v1h1v-1zM177 408v1h1v-1zM178 409v1h1v-1zM179 410v1h1v-1zM180 410v1h1v-1zM181 411v1h1v-1zM182 411v1h1v-1zM183 412v2h1v-2zM184 414v1h1v-1zM185 415v2h1v-2zM186 416v2h1v-2zM187 414v2h1v-2zM188 411v3h1v-3zM189 409v2h1v-2zM190 406v3h1v-3zM191 403v3h1v-3zM192 400v3h1v-3zM193 397v3h1v-3zM194 392v5h1v-5zM195 386v6h1v-6zM196 380v6h1v-6zM197 374v6h1v-6zM198 369v5h1v-5zM199 366v3h1v-3zM200 362v4h1v-4zM201 359v3h1v-3zM202 356v3h1v-3zM203 352v4h1v-4zM204 349v3h1v-3zM205 345v4h1v-4zM206 341v4h1v-4zM207 337v4h1v-4zM208 333v4h1v-4zM209 329v4h1v-4zM210 324v5h1v-5zM211 319v5h1v-5zM212 315v4h1v-4zM213 310v5h1v-5zM214 306v4h1v-4zM215 304v2h1v-2zM216 302v2h1v-2zM217 300v2h1v-2zM218 298v2h1v-2zM219 296v2h1v-2zM220 294v2h1v-2zM221 292v2h1v-2zM222 291v1h1v-1zM223 292v1h1v-1zM224 292v1h1v-1zM225 293v1h1v-1zM226 293v1h1v-1zM227 294v1h1v-1zM228 295v1h1v-1zM229 295v1h1v-1zM230 296v1h1v-1zM231 297v1h1v-1zM232 298v1h1v-1zM233 299v1h1v-1zM234 300v1h1v-1zM235 301v1h1v-1zM236 302v1h1v-1zM237 303v1h1v-1zM238 304v1h1v-1zM239 305v1h1v-1zM240 306v1h1v-1zM241 307v1h1v-1zM242 308v1h1v-1zM243 308v1h1v-1zM244 309v1h1v-1zM245 309v1h1v-1zM246 309v1h1v-1zM247 309v1h1v-1zM248 309v1h1v-1zM249 309v1h1v-1zM250 309v1h1v-1zM251 308v1h1v-1zM252 307v1h1v-1zM253 307v1h1v-1zM254 306v1h1v-1zM255 304v2h1v-2zM256 302v2h1v-2zM257 300v2h1v-2zM258 298v2h1v-2zM259 296v2h1v-2zM260 293v3h1v-3zM261 291v2h1v-2zM262 288v3h1v-3zM263 286v2h1v-2zM264 284v2h1v-2zM265 282v2h1v-2zM266 279v3h1v-3zM267 276v3h1v-3zM268 274v2h1v-2zM269 271v3h1v-3zM270 269v2h1v-2zM271 267v2h1v-2zM272 265v2h1v-2zM273 263v2h1v-2zM274 262v1h1v-1zM275 260v2h1v-2zM276 259v1h1v-1zM277 257v2h1v-2zM278 255v2h1v-2zM279 253v2h1v-2zM280 250v3h1v-3zM281 248v2h1v-2zM282 245v3h1v-3zM283 242v3h1v-3zM284 240v2h1v-2zM285 237v3h1v-3zM286 234v3h1v-3zM287 231v3h1v-3zM288 229v2h1v-2zM289 226v3h1v-3zM290 224v2h1v-2zM291 223v1h1v-1zM292 222v1h1v-1zM293 222v1h1v-1zM294 221v1h1v-1zM295 220v1h1v-1zM296 219v1h1v-1zM297 219v1h1v-1zM298 218v1h1v-1zM299 216v2h1v-2zM300 215v1h1v-1zM301 213v2h1v-2zM302 212v1h1v-1zM303 210v2h1v-2zM304 209v1h1v-1zM305 207v2h1v-2zM306 206v1h1v-1zM307 207v1h1v-1zM308 208v1h1v-1zM309 208v1h1v-1zM310 209v1h1v-1zM311 210v2h1v-2zM312 212v2h1v-2zM313 214v2h1v-2zM314 216v3h1v-3zM315 219v2h1v-2zM316 221v2h1v-2zM317 223v2h1v-2zM318 225v2h1v-2zM319 227v2h1v-2zM320 229v2h1v-2zM321 231v2h1v-2zM322 233v1h1v-1zM323 234v2h1v-2zM324 236v1h1v-1zM325 237v2h1v-2zM326 239v1h1v-1zM327 240v1h1v-1zM328 241v2h1v-2zM329 243v1h1v-1zM330 244v1h1v-1zM331 245v2h1v-2zM332 247v1h1v-1zM333 248v2h1v-2zM334 250v1h1v-1zM335 250v1h1v-1zM336 251v1h1v-1zM337 251v1h1v-1zM338 251v1h1v-1zM339 252v1h1v-1zM340 253v1h1v-1zM341 254v1h1v-1zM342 255v1h1v-1zM343 255v1h1v-1zM344 256v1h1v-1zM345 256v1h1v-1zM346 256v1h1v-1zM347 257v1h1v-1zM348 257v1h1v-1zM349 258v1h1v-1zM350 258v1h1v-1zM351 258v1h1v-1zM352 259v1h1v-1zM353 259v1h1v-1zM354 259v1h1v-1zM355 257v2h1v-2zM356 256v1h1v-1zM357 254v2h1v-2zM358 253v1h1v-1zM359 252v1h1v-1zM360 250v2h1v-2zM361 249v1h1v-1zM362 247v2h1v-2zM363 244v3h1v-3zM364 240v4h1v-4zM365 237v3h1v-3zM366 234v3h1v-3zM367 231v3h1v-3zM368 228v3h1v-3zM369 225v3h1v-3zM370 222v3h1v-3zM371 219v3h1v-3zM372 217v2h1v-2zM373 214v3h1v-3zM374 211v3h1v-3zM375 207v4h1v-4zM376 204v3h1v-3zM377 200v4h1v-4zM378 197v3h1v-3zM379 195v2h1v-2zM380 192v3h1v-3zM381 190v2h1v-2zM382 188v2h1v-2zM383 188v1h1v-1zM384 189v1h1v-1zM385 189v1h1v-1zM386 189v1h1v-1zM387 189v1h1v-1zM388 190v1h1v-1zM389 190v1h1v-1zM390 190v2h1v-2zM391 192v2h1v-2zM392 194v3h1v-3zM393 197v2h1v-2zM394 199v2h1v-2zM395 201v2h1v-2zM396 203v1h1v-1zM397 204v2h1v-2zM398 206v2h1v-2zM399 208v2h1v-2zM400 210v2h1v-2zM401 212v2h1v-2zM402 214v3h1v-3zM403 217v4h1v-4zM404 221v3h1v-3zM405 224v4h1v-4zM406 228v4h1v-4zM407 232v5h1v-5zM408 237v5h1v-5zM409 242v5h1v-5zM410 247v4h1v-4zM411 251v4h1v-4zM412 255v4h1v-4zM413 259v4h1v-4zM414 263v3h1v-3zM415 266v3h1v-3zM416 269v2h1v-2zM417 271v3h1v-3zM418 274v3h1v-3zM419 277v2h1v-2zM420 279v3h1v-3zM421 282v2h1v-2zM422 284v3h1v-3zM423 287v3h1v-3zM424 290v4h1v-4zM425 294v3h1v-3zM426 297v3h1v-3zM427 300v2h1v-2zM428 302v2h1v-2zM429 304v2h1v-2zM430 306v2h1v-2zM431 308v1h1v-1zM432 309v2h1v-2zM433 311v1h1v-1zM434 312v1h1v-1zM435 311v1h1v-1zM436 309v2h1v-2zM437 308v1h1v-1zM438 307v1h1v-1zM439 306v1h1v-1zM440 304v2h1v-2zM441 303v1h1v-1zM442 302v1h1v-1zM443 302v1h1v-1zM444 301v1h1v-1zM445 301v1h1v-1zM446 301v1h1v-1zM447 299v2h1v-2zM448 298v1h1v-1zM449 296v2h1v-2zM450 295v1h1v-1zM451 293v2h1v-2zM452 291v2h1v-2zM453 289v2h1v-2zM454 288v1h1v-1zM455 287v1h1v-1zM456 285v2h1v-2zM457 284v1h1v-1zM458 283v1h1v-1zM459 281v2h1v-2zM460 280v1h1v-1zM461 278v2h1v-2zM462 277v1h1v-1zM463 275v2h1v-2zM464 274v1h1v-1zM465 272v2h1v-2zM466 271v1h1v-1zM467 270v1h1v-1zM468 268v2h1v-2zM469 267v1h1v-1zM470 266v1h1v-1zM471 265v1h1v-1zM472 263v2h1v-2zM473 262v1h1v-1zM474 261v1h1v-1zM475 261v1h1v-1zM476 260v1h1v-1zM477 260v1h1v-1zM478 260v1h1v-1zM479 259v1h1v-1zM480 257v2h1v-2zM481 256v1h1v-1zM482 255v1h1v-1zM483 253v2h1v-2zM484 251v2h1v-2zM485 249v2h1v-2zM486 248v1h1v-1zM487 247v1h1v-1zM488 246v1h1v-1zM489 246v1h1v-1zM490 245v1h1v-1zM491 244v1h1v-1zM492 243v1h1v-1zM493 243v1h1v-1zM494 242v1h1v-1zM495 241v1h1v-1zM496 239v2h1v-2zM497 238v1h1v-1zM498 236v2h1v-2zM499 234v2h1v-2zM500 231v3h1v-3zM501 229v2h1v-2zM502 226v3h1v-3zM503 222v4h1v-4zM504 219v3h1v-3zM505 215v4h1v-4zM506 212v3h1v-3zM507 208v4h1v-4zM508 204v4h1v-4zM509 200v4h1v-4zM510 196v4h1v-4zM511 192v4h1v-4zM512 189v3h1v-3zM513 185v4h1v-4zM514 182v3h1v-3zM515 178v4h1v-4zM516 174v4h1v-4zM517 170v4h1v-4zM518 165v5h1v-5zM519 159v6h1v-6zM520 154v5h1v-5zM521 148v6h1v-6zM522 143v5h1v-5zM523 138v5h1v-5zM524 133v5h1v-5zM525 128v5h1v-5zM526 124v4h1v-4zM527 120v4h1v-4zM528 116v4h1v-4zM529 112v4h1v-4zM530 109v3h1v-3zM531 107v2h1v-2zM532 104v3h1v-3zM533 102v2h1v-2zM534 100v2h1v-2zM535 98v2h1v-2zM536 97v1h1v-1zM537 95v2h1v-2zM538 94v1h1v-1zM539 92v2h1v-2zM540 91v1h1v-1zM541 89v2h1v-2zM542 88v1h1v-1zM543 87v1h1v-1zM544 85v2h1v-2zM545 84v1h1v-1zM546 83v1h1v-1zM547 84v1h1v-1zM548 85v1h1v-1zM549 86v1h1v-1zM550 87v1h1v-1zM551 87v1h1v-1zM552 88v1h1v-1zM553 88v1h1v-1zM554 88v1h1v-1zM555 89v1h1v-1zM556 90v1h1v-1zM557 90v1h1v-1zM558 91v1h1v-1zM559 92v1h1v-1zM560 93v1h1v-1zM561 93v1h1v-1zM562 94v1h1v-1zM563 95v1h1v-1zM564 95v1h1v-1zM565 96v1h1v-1zM566 96v1h1v-1zM567 96v1h1v-1zM568 96v1h1v-1zM569 96v1h1v-1zM570 96v1h1v-1zM571 96v1h1v-1zM572 95v1h1v-1zM573 95v1h1v-1zM574 95v1h1v-1zM575 96v1h1v-1zM576 96v1h1v-1zM577 97v1h1v-1zM578 97v2h1v-2zM579 99v2h1v-2zM580 101v2h1v-2zM581 103v2h1v-2zM582 105v2h1v-2zM583 107v2h1v-2zM584 109v2h1v-2zM585 111v2h1v-2zM586 113v3h1v-3zM587 116v4h1v-4zM588 120v3h1v-3zM589 123v4h1v-4zM590 127v3h1v-3zM591 130v3h1v-3zM592 133v2h1v-2zM593 135v3h1v-3zM594 138v3h1v-3zM595 141v4h1v-4zM596 145v3h1v-3zM597 148v4h1v-4zM598 152v3h1v-3zM599 155v3h1v-3zM600 158v4h1v-4zM601 162v3h1v-3zM602 165v2h1v-2zM603 167v1h1v-1zM604 168v2h1v-2zM605 170v1h1v-1zM606 171v1h1v-1zM607 172v1h1v-1zM608 172v1h1v-1zM609 173v1h1v-1zM610 173v1h1v-1zM611 174v1h1v-1zM612 174v1h1v-1zM613 175v1h1v-1zM614 175v1h1v-1zM615 173v2h1v-2zM616 171v2h1v-2zM617 169v2h1v-2zM618 168v1h1v-1zM619 168v1h1v-1zM620 168v1h1v-1zM621 168v1h1v-1zM622 168v1h1v-1zM623 169v2h1v-2zM624 171v2h1v-2zM625 173v2h1v-2zM626 175v2h1v-2zM627 177v2h1v-2zM628 179v3h1v-3zM629 182v2h1v-2zM630 184v3h1v-3zM631 187v3h1v-3zM632 190v3h1v-3zM633 193v3h1v-3zM634 196v2h1v-2zM635 198v2h1v-2zM636 200v2h1v-2zM637 202v2h1v-2zM638 204v2h1v-2zM639 206v1h1v-1zM640 206v1h1v-1zM641 207v1h1v-1zM642 207v1h1v-1zM643 208v1h1v-1zM644 209v1h1v-1zM645 209v1h1v-1zM646 210v1h1v-1zM647 211v1h1v-1zM648 212v1h1v-1zM649 212v1h1v-1zM650 213v1h1v-1zM651 214v1h1v-1zM652 215v1h1v-1zM653 215v1h1v-1zM654 216v1h1v-1zM655 217v1h1v-1zM656 217v1h1v-1zM657 218v1h1v-1zM658 218v2h1v-2zM659 220v3h1v-3zM660 223v3h1v-3zM661 226v3h1v-3zM662 229v3h1v-3zM663 232v4h1v-4zM664 236v3h1v-3zM665 239v4h1v-4zM666 243v3h1v-3zM667 246v4h1v-4zM668 250v4h1v-4zM669 254v4h1v-4zM670 258v5h1v-5zM671 263v5h1v-5zM672 268v6h1v-6zM673 274v5h1v-5zM674 279v6h1v-6zM675 285v6h1v-6zM676 291v6h1v-6zM677 297v6h1v-6zM678 303v5h1v-5zM679 308v3h1v-3zM680 311v4h1v-4zM681 315v3h1v-3zM682 318v3h1v-3zM683 321v3h1v-3zM684 324v4h1v-4zM685 328v3h1v-3zM686 331v2h1v-2zM687 332v1h1v-1zM688 332v1h1v-1zM689 332v1h1v-1zM690 332v1h1v-1zM691 331v1h1v-1zM692 330v1h1v-1zM693 330v1h1v-1zM694 329v1h1v-1zM695 329v1h1v-1zM696 329v1h1v-1zM697 329v1h1v-1zM698 328v2h1v-2zM699 326v2h1v-2zM700 324v2h1v-2zM701 322v2h1v-2zM702 319v3h1v-3zM703 315v4h1v-4zM704 311v4h1v-4zM705 307v4h1v-4zM706 304v3h1v-3zM707 301v3h1v-3zM708 299v2h1v-2zM709 296v3h1v-3zM710 293v3h1v-3zM711 289v4h1v-4zM712 286v3h1v-3zM713 282v4h1v-4zM714 280v2h1v-2zM715 280v1h1v-1zM716 279v1h1v-1zM717 279v1h1v-1zM718 279v3h1v-3zM719 282v4h1v-4zM720 286v5h1v-5zM721 291v4h1v-4zM722 295v5h1v-5zM723 300v5h1v-5zM724 305v5h1v-5zM725 310v5h1v-5zM726 315v6h1v-6zM727 321v7h1v-7zM728 328v8h1v-8zM729 336v7h1v-7zM730 343v8h1v-8zM731 351v8h1v-8zM732 359v8h1v-8zM733 367v8h1v-8zM734 375v8h1v-8zM735 383v8h1v-8zM736 391v7h1v-7zM737 398v8h1v-8zM738 406v7h1v-7zM739 413v7h1v-7zM740 420v7h1v-7zM741 427v7h1v-7zM742 434v6h1v-6zM743 440v5h1v-5zM744 445v5h1v-5zM745 450v5h1v-5zM746 455v3h1v-3zM747 458v2h1v-2zM748 460v2h1v-2zM749 462v2h1v-2zM750 464v1h1v-1zM751 463v1h1v-1zM752 462v1h1v-1zM753 462v1h1v-1zM754 460v2h1v-2zM755 456v4h1v-4zM756 452v4h1v-4zM757 448v4h1v-4zM758 445v3h1v-3zM759 441v4h1v-4zM760 437v4h1v-4zM761 433v4h1v-4zM762 429v4h1v-4zM763 425v4h1v-4zM764 422v3h1v-3zM765 418v4h1v-4zM766 416v2h1v-2zM767 414v2h1v-2zM768 412v2h1v-2zM769 410v2h1v-2zM770 406v4h1v-4zM771 401v5h1v-5zM772 397v4h1v-4zM773 392v5h1v-5zM774 387v5h1v-5zM775 382v5h1v-5zM776 377v5h1v-5zM777 372v5h1v-5zM778 367v5h1v-5zM779 363v4h1v-4zM780 358v5h1v-5zM781 354v4h1v-4zM782 351v3h1v-3zM783 349v2h1v-2zM784 347v2h1v-2zM785 345v2h1v-2zM786 343v2h1v-2zM787 342v1h1v-1zM788 341v1h1v-1zM789 341v1h1v-1zM790 340v1h1v-1zM791 338v2h1v-2zM792 337v1h1v-1zM793 335v2h1v-2zM794 334v1h1v-1zM795 334v1h1v-1zM796 335v1h1v-1zM797 335v1h1v-1zM798 335v2h1v-2zM799 337v2h1v-2zM800 339v2h1v-2zM801 341v2h1v-2zM802 343v2h1v-2zM803 345v2h1v-2zM804 347v2h1v-2zM805 349v2h1v-2zM806 351v2h1v-2zM807 353v2h1v-2zM808 355v2h1v-2zM809 357v2h1v-2zM810 359v3h1v-3zM811 362v2h1v-2zM812 364v2h1v-2zM813 366v2h1v-2zM814 368v2h1v-2zM815 370v2h1v-2zM816 372v1h1v-1zM817 373v2h1v-2zM818 375v2h1v-2zM819 377v2h1v-2zM820 379v3h1v-3zM821 382v2h1v-2zM822 384v2h1v-2zM823 386v1h1v-1zM824 386v1h1v-1zM825 387v1h1v-1zM826 387v1h1v-1zM827 388v1h1v-1zM828 388v1h1v-1zM829 389v1h1v-1zM830 389v1h1v-1zM831 389v1h1v-1zM832 388v1h1v-1zM833 388v1h1v-1zM834 388v1h1v-1zM835 389v1h1v-1zM836 390v1h1v-1zM837 391v1h1v-1zM838 392v1h1v-1zM839 390v2h1v-2zM840 389v1h1v-1zM841 387v2h1v-2zM842 385v2h1v-2zM843 381v4h1v-4zM844 378v3h1v-3zM845 374v4h1v-4zM846 371v3h1v-3zM847 368v3h1v-3zM848 364v4h1v-4zM849 361v3h1v-3zM850 358v3h1v-3zM851 355v3h1v-3zM852 353v2h1v-2zM853 350v3h1v-3zM854 347v3h1v-3zM855 345v2h1v-2zM856 343v2h1v-2zM857 341v2h1v-2zM858 338v3h1v-3zM859 335v3h1v-3zM860 333v2h1v-2zM861 330v3h1v-3zM862 328v2h1v-2zM863 326v2h1v-2zM864 325v1h1v-1zM865 323v2h1v-2zM866 322v2h1v-2zM867 324v2h1v-2zM868 326v3h1v-3zM869 329v2h1v-2zM870 331v3h1v-3zM871 334v4h1v-4zM872 338v4h1v-4zM873 342v4h1v-4zM874 346v5h1v-5zM875 351v7h1v-7zM876 358v7h1v-7zM877 365v7h1v-7zM878 372v6h1v-6zM879 378v5h1v-5zM880 383v4h1v-4zM881 387v5h1v-5zM882 392v5h1v-5zM883 397v5h1v-5zM884 402v4h1v-4zM885 406v5h1v-5zM886 411v6h1v-6zM887 417v6h1v-6zM888 423v6h1v-6zM889 429v6h1v-6zM890 435v6h1v-6zM891 441v6h1v-6zM892 447v5h1v-5zM893 452v6h1v-6zM894 458v4h1v-4zM895 462v4h1v-4zM896 466v3h1v-3zM897 469v4h1v-4zM898 473v3h1v-3zM899 476v4h1v-4zM900 480v4h1v-4zM901 484v4h1v-4zM902 488v3h1v-3zM903 488v2h1v-2zM904 486v2h1v-2zM905 484v2h1v-2zM906 483v1h1v-1zM907 484v1h1v-1zM908 485v1h1v-1zM909 485v1h1v-1zM910 486v1h1v-1zM911 485v1h1v-1zM912 485v1h1v-1zM913 484v1h1v-1zM914 484v1h1v-1zM915 483v1h1v-1zM916 481v2h1v-2zM917 480v1h1v-1zM918 478v2h1v-2zM919 476v2h1v-2zM920 474v2h1v-2zM921 472v2h1v-2zM922 469v3h1v-3zM923 466v3h1v-3zM924 463v3h1v-3zM925 460v3h1v-3zM926 457v3h1v-3zM927 454v3h1v-3zM928 452v2h1v-2zM929 449v3h1v-3zM930 447v2h1v-2zM931 445v2h1v-2zM932 443v2h1v-2zM933 441v2h1v-2zM934 439v2h1v-2zM935 436v3h1v-3zM936 432v4h1v-4zM937 429v3h1v-3zM938 427v2h1v-2zM939 428v1h1v-1zM940 428v1h1v-1zM941 429v1h1v-1zM942 429v1h1v-1zM943 430v2h1v-2zM944 432v2h1v-2zM945 434v2h1v-2zM946 436v1h1v-1zM947 436v1h1v-1zM948 436v1h1v-1zM949 436v1h1v-1zM950 436v1h1v-1zM951 436v1h1v-1zM952 437v1h1v-1zM953 437v1h1v-1zM954 437v1h1v-1zM955 436v1h1v-1zM956 434v2h1v-2zM957 433v1h1v-1zM958 432v1h1v-1zM959 431v1h1v-1zM960 429v2h1v-2zM961 428v1h1v-1zM962 427v1h1v-1zM963 425v2h1v-2zM964 423v2h1v-2zM965 421v2h1v-2zM966 417v4h1v-4zM967 412v5h1v-5zM968 408v4h1v-4zM969 403v5h1v-5zM970 398v5h1v-5zM971 392v6h1v-6zM972 387v5h1v-5zM973 381v6h1v-6zM974 377v4h1v-4zM975 375v2h1v-2zM976 373v2h1v-2zM977 371v2h1v-2zM978 369v2h1v-2zM979 369v1h1v-1zM980 369v1h1v-1zM981 369v1h1v-1zM982 369v1h1v-1zM983 367v2h1v-2zM984 366v1h1v-1zM985 364v2h1v-2zM986 363v1h1v-1zM987 362v1h1v-1zM988 362v1h1v-1zM989 361v1h1v-1zM990 361v1h1v-1zM991 362v1h1v-1zM992 363v1h1v-1zM993 363v1h1v-1zM994 364v1h1v-1zM995 363v1h1v-1zM996 362v1h1v-1zM997 361v1h1v-1zM998 360v1h1v-1zM999 360v1h1v-1zM1000 359v1h1v-1zM1001 359v1h1v-1zM1002 358v2h1v-2zM1003 356v2h1v-2zM1004 354v2h1v-2zM1005 352v2h1v-2zM1006 349v3h1v-3zM1007 346v3h1v-3zM1008 344v2h1v-2zM1009 341v3h1v-3zM1010 339v2h1v-2zM1011 337v2h1v-2zM1012 336v1h1v-1zM1013 334v2h1v-2zM1014 333v1h1v-1zM1015 333v1h1v-1zM1016 334v1h1v-1zM1017 334v1h1v-1zM1018 334v1h1v-1zM1019 332v2h1v-2zM1020 331v1h1v-1zM1021 329v2h1v-2zM1022 328v1h1v-1zM1023 328v1h1v-1zM1024 328v1h1v-1zM1025 328v1h1v-1zM1026 328v1h1v-1zM1027 326v2h1v-2zM1028 324v2h1v-2zM1029 322v2h1v-2zM1030 321v1h1v-1zM1031 321v1h1v-1zM1032 322v1h1v-1zM1033 322v1h1v-1zM1034 322v1h1v-1zM1035 321v1h1v-1zM1036 321v1h1v-1zM1037 320v1h1v-1zM1038 320v1h1v-1zM1039 320v1h1v-1zM1040 320v1h1v-1zM1041 320v1h1v-1zM1042 320v1h1v-1zM1043 319v1h1v-1zM1044 318v1h1v-1zM1045 318v1h1v-1zM1046 317v1h1v-1zM1047 318v2h1v-2zM1048 320v2h1v-2zM1049 322v2h1v-2zM1050 324v2h1v-2zM1051 326v1h1v-1zM1052 326v1h1v-1zM1053 327v1h1v-1zM1054 327v1h1v-1zM1055 328v1h1v-1zM1056 329v1h1v-1zM1057 330v1h1v-1zM1058 331v1h1v-1zM1059 332v1h1v-1zM1060 333v1h1v-1zM1061 333v1h1v-1zM1062 334v1h1v-1zM1063 334v1h1v-1zM1064 335v1h1v-1zM1065 335v1h1v-1zM1066 335v1h1v-1zM1067 333v2h1v-2zM1068 331v2h1v-2zM1069 329v2h1v-2zM1070 327v2h1v-2zM1071 326v1h1v-1zM1072 325v1h1v-1zM1073 325v1h1v-1zM1074 323v2h1v-2zM1075 320v3h1v-3zM1076 316v4h1v-4zM1077 313v3h1v-3zM1078 310v3h1v-3zM1079 308v2h1v-2zM1080 306v2h1v-2zM1081 304v2h1v-2zM1082 302v2h1v-2zM1083 301v1h1v-1zM1084 301v1h1v-1zM1085 300v1h1v-1zM1086 300v1h1v-1zM1087 299v1h1v-1zM1088 298v1h1v-1zM1089 297v1h1v-1zM1090 296v1h1v-1zM1091 295v1h1v-1zM1092 293v2h1v-2zM1093 292v1h1v-1zM1094 291v1h1v-1zM1095 292v2h1v-2zM1096 294v2h1v-2zM1097 296v2h1v-2zM1098 298v1h1v-1zM1099 298v1h1v-1zM1100 297v1h1v-1zM1101 297v1h1v-1zM1102 297v1h1v-1zM1103 297v1h1v-1zM1104 298v1h1v-1zM1105 298v1h1v-1zM1106 298v1h1v-1zM1107 298v1h1v-1zM1108 299v1h1v-1zM1109 299v1h1v-1zM1110 299v1h1v-1zM1111 298v1h1v-1zM1112 297v1h1v-1zM1113 296v1h1v-1zM1114 295v1h1v-1zM1115 294v1h1v-1zM1116 293v1h1v-1zM1117 292v1h1v-1zM1118 291v1h1v-1zM1119 290v1h1v-1zM1120 288v2h1v-2zM1121 287v1h1v-1zM1122 286v1h1v-1zM1123 285v1h1v-1zM1124 285v1h1v-1zM1125 284v1h1v-1zM1126 284v1h1v-1zM1127 284v1h1v-1zM1128 283v1h1v-1zM1129 283v1h1v-1zM1130 283v1h1v-1z" fill="#0000cd" shape-rendering="crispEdges"/>
<g shape-rendering="crispEdges">
<rect x="6" y="95" width="1416" height="3" fill="#ff0000"/>
<rect x="6" y="199" width="1416" height="3" fill="#ff0000"/>
<rect x="6" y="294" width="1416" height="3" fill="#00ff00"/>
<rect x="6" y="423" width="1416" height="3" fill="#0000ff"/>
<rect x="6" y="510" width="1416" height="3" fill="#0000ff"/>
</g>
<g shape-rendering="crispEdges">
<rect x="5" y="21" width="1" height="777" fill="#000"/>
<rect x="1421" y="21" width="1" height="777" fill="#000"/>
<rect x="5" y="21" width="1417" height="1" fill="#000"/>
<rect x="5" y="560" width="1417" height="1" fill="#000"/>
<rect x="5" y="562" width="1417" height="1" fill="#000"/>
<rect x="5" y="665" width="1417" height="1" fill="#000"/>
<rect x="5" y="667" width="1417" height="1" fill="#000"/>
<rect x="5" y="797" width="1417" height="1" fill="#000"/>
<rect x="3" y="561" width="1459" height="1" fill="#fff"/>
<rect x="3" y="666" width="1459" height="1" fill="#fff"/>
<rect x="1421" y="95" width="2" height="3" fill="#ff0000"/>
<rect x="5" y="93" width="7" height="7" fill="#ff0000"/>
<rect x="8" y="96" width="1" height="1" fill="#fff"/>
<rect x="1415" y="93" width="7" height="7" fill="#ff0000"/>
<rect x="1418" y="96" width="1" height="1" fill="#fff"/>
<rect x="1421" y="199" width="2" height="3" fill="#ff0000"/>
<rect x="5" y="197" width="7" height="7" fill="#ff0000"/>
<rect x="8" y="200" width="1" height="1" fill="#fff"/>
<rect x="1415" y="197" width="7" height="7" fill="#ff0000"/>
<rect x="1418" y="200" width="1" height="1" fill="#fff"/>
<rect x="1421" y="294" width="2" height="3" fill="#00ff00"/>
<rect x="5" y="292" width="7" height="7" fill="#00ff00"/>
<rect x="8" y="295" width="1" height="1" fill="#fff"/>
<rect x="1415" y="292" width="7" height="7" fill="#00ff00"/>
<rect x="1418" y="295" width="1" height="1" fill="#fff"/>
<rect x="1421" y="423" width="2" height="3" fill="#0000ff"/>
<rect x="5" y="421" width="7" height="7" fill="#0000ff"/>
<rect x="8" y="424" width="1" height="1" fill="#fff"/>
<rect x="1415" y="421" width="7" height="7" fill="#0000ff"/>
<rect x="1418" y="424" width="1" height="1" fill="#fff"/>
<rect x="1421" y="510" width="2" height="3" fill="#0000ff"/>
</g>
<g shape-rendering="crispEdges" fill="#c0c0c0"><rect x="1132" y="22" width="9" height="1"/><rect x="1133" y="23" width="7" height="1"/><rect x="1134" y="24" width="5" height="1"/><rect x="1135" y="25" width="3" height="1"/><rect x="1136" y="26" width="1" height="1"/></g>
<g font-size="9.3px" fill="#000" stroke="#000" stroke-width="0.25">
<rect x="1422" y="29" width="2" height="1" fill="#000" shape-rendering="crispEdges"/>
<text x="1427.5" y="32.5" textLength="32" lengthAdjust="spacingAndGlyphs">1.02580</text>
<rect x="1422" y="62" width="2" height="1" fill="#000" shape-rendering="crispEdges"/>
<text x="1427.5" y="65.5" textLength="32" lengthAdjust="spacingAndGlyphs">1.02200</text>
<rect x="1422" y="128" width="2" height="1" fill="#000" shape-rendering="crispEdges"/>
<text x="1427.5" y="131.5" textLength="32" lengthAdjust="spacingAndGlyphs">1.01440</text>
<rect x="1422" y="161" width="2" height="1" fill="#000" shape-rendering="crispEdges"/>
<text x="1427.5" y="164.5" textLength="32" lengthAdjust="spacingAndGlyphs">1.01050</text>
<rect x="1422" y="194" width="2" height="1" fill="#000" shape-rendering="crispEdges"/>
<text x="1427.5" y="197.5" textLength="32" lengthAdjust="spacingAndGlyphs">1.00670</text>
<rect x="1422" y="227" width="2" height="1" fill="#000" shape-rendering="crispEdges"/>
<text x="1427.5" y="230.5" textLength="32" lengthAdjust="spacingAndGlyphs">1.00290</text>
<rect x="1422" y="260" width="2" height="1" fill="#000" shape-rendering="crispEdges"/>
<text x="1427.5" y="263.5" textLength="32" lengthAdjust="spacingAndGlyphs">0.99910</text>
<rect x="1422" y="326" width="2" height="1" fill="#000" shape-rendering="crispEdges"/>
<text x="1427.5" y="329.5" textLength="32" lengthAdjust="spacingAndGlyphs">0.99140</text>
<rect x="1422" y="359" width="2" height="1" fill="#000" shape-rendering="crispEdges"/>
<text x="1427.5" y="362.5" textLength="32" lengthAdjust="spacingAndGlyphs">0.98760</text>
<rect x="1422" y="392" width="2" height="1" fill="#000" shape-rendering="crispEdges"/>
<text x="1427.5" y="395.5" textLength="32" lengthAdjust="spacingAndGlyphs">0.98380</text>
<rect x="1422" y="458" width="2" height="1" fill="#000" shape-rendering="crispEdges"/>
<text x="1427.5" y="461.5" textLength="32" lengthAdjust="spacingAndGlyphs">0.97610</text>
<rect x="1422" y="491" width="2" height="1" fill="#000" shape-rendering="crispEdges"/>
<text x="1427.5" y="494.5" textLength="32" lengthAdjust="spacingAndGlyphs">0.97230</text>
<rect x="1422" y="524" width="2" height="1" fill="#000" shape-rendering="crispEdges"/>
<text x="1427.5" y="527.5" textLength="32" lengthAdjust="spacingAndGlyphs">0.96850</text>
<rect x="1422" y="557" width="2" height="1" fill="#000" shape-rendering="crispEdges"/>
<text x="1427.5" y="560.5" textLength="32" lengthAdjust="spacingAndGlyphs">0.96470</text>
</g>
<g font-size="9.3px" fill="#fff" stroke="#fff" stroke-width="0.25">
<rect x="1423" y="90" width="39" height="11" fill="#ff0000" shape-rendering="crispEdges"/>
<rect x="1422" y="96" width="1" height="1" fill="#000"/>
<text x="1427.5" y="99.0" textLength="32" lengthAdjust="spacingAndGlyphs">1.01804</text>
<rect x="1423" y="194" width="39" height="11" fill="#ff0000" shape-rendering="crispEdges"/>
<rect x="1422" y="200" width="1" height="1" fill="#000"/>
<text x="1427.5" y="203.0" textLength="32" lengthAdjust="spacingAndGlyphs">1.00602</text>
<rect x="1423" y="289" width="39" height="11" fill="#00ff00" shape-rendering="crispEdges"/>
<rect x="1422" y="295" width="1" height="1" fill="#000"/>
<text x="1427.5" y="298.0" textLength="32" lengthAdjust="spacingAndGlyphs">0.99501</text>
<rect x="1423" y="418" width="39" height="11" fill="#0000ff" shape-rendering="crispEdges"/>
<rect x="1422" y="424" width="1" height="1" fill="#000"/>
<text x="1427.5" y="427.0" textLength="32" lengthAdjust="spacingAndGlyphs">0.98005</text>
<rect x="1423" y="505" width="39" height="11" fill="#0000ff" shape-rendering="crispEdges"/>
<text x="1427.5" y="514.0" textLength="32" lengthAdjust="spacingAndGlyphs">0.97007</text>
<rect x="1423" y="306" width="39" height="11" fill="#000" shape-rendering="crispEdges"/>
<text x="1427.5" y="315" textLength="32" lengthAdjust="spacingAndGlyphs">0.99313</text>
</g>
<g shape-rendering="crispEdges">
<rect x="6" y="609" width="1" height="2" fill="#c0c0c0"/>
<rect x="10" y="609" width="1" height="2" fill="#c0c0c0"/>
<rect x="14" y="609" width="1" height="2" fill="#c0c0c0"/>
<rect x="18" y="609" width="1" height="2" fill="#c0c0c0"/>
<rect x="22" y="609" width="1" height="2" fill="#c0c0c0"/>
<rect x="26" y="609" width="1" height="4" fill="#c0c0c0"/>
<rect x="30" y="609" width="1" height="5" fill="#c0c0c0"/>
<rect x="34" y="609" width="1" height="3" fill="#c0c0c0"/>
<rect x="38" y="609" width="1" height="3" fill="#c0c0c0"/>
<rect x="42" y="609" width="1" height="2" fill="#c0c0c0"/>
<rect x="46" y="609" width="1" height="2" fill="#c0c0c0"/>
<rect x="50" y="609" width="1" height="3" fill="#c0c0c0"/>
<rect x="54" y="609" width="1" height="5" fill="#c0c0c0"/>
<rect x="58" y="609" width="1" height="9" fill="#c0c0c0"/>
<rect x="62" y="609" width="1" height="12" fill="#c0c0c0"/>
<rect x="66" y="609" width="1" height="14" fill="#c0c0c0"/>
<rect x="70" y="609" width="1" height="14" fill="#c0c0c0"/>
<rect x="74" y="609" width="1" height="14" fill="#c0c0c0"/>
<rect x="78" y="609" width="1" height="13" fill="#c0c0c0"/>
<rect x="82" y="609" width="1" height="9" fill="#c0c0c0"/>
<rect x="86" y="609" width="1" height="7" fill="#c0c0c0"/>
<rect x="90" y="609" width="1" height="8" fill="#c0c0c0"/>
<rect x="94" y="609" width="1" height="9" fill="#c0c0c0"/>
<rect x="98" y="609" width="1" height="8" fill="#c0c0c0"/>
<rect x="102" y="609" width="1" height="12" fill="#c0c0c0"/>
<rect x="106" y="609" width="1" height="10" fill="#c0c0c0"/>
<rect x="110" y="609" width="1" height="9" fill="#c0c0c0"/>
<rect x="114" y="609" width="1" height="13" fill="#c0c0c0"/>
<rect x="118" y="609" width="1" height="15" fill="#c0c0c0"/>
<rect x="122" y="609" width="1" height="13" fill="#c0c0c0"/>
<rect x="126" y="609" width="1" height="14" fill="#c0c0c0"/>
<rect x="130" y="609" width="1" height="17" fill="#c0c0c0"/>
<rect x="134" y="609" width="1" height="19" fill="#c0c0c0"/>
<rect x="138" y="609" width="1" height="23" fill="#c0c0c0"/>
<rect x="142" y="609" width="1" height="25" fill="#c0c0c0"/>
<rect x="146" y="609" width="1" height="22" fill="#c0c0c0"/>
<rect x="150" y="609" width="1" height="20" fill="#c0c0c0"/>
<rect x="154" y="609" width="1" height="19" fill="#c0c0c0"/>
<rect x="158" y="609" width="1" height="19" fill="#c0c0c0"/>
<rect x="162" y="609" width="1" height="22" fill="#c0c0c0"/>
<rect x="166" y="609" width="1" height="24" fill="#c0c0c0"/>
<rect x="170" y="609" width="1" height="29" fill="#c0c0c0"/>
<rect x="174" y="609" width="1" height="26" fill="#c0c0c0"/>
<rect x="178" y="609" width="1" height="24" fill="#c0c0c0"/>
<rect x="182" y="609" width="1" height="22" fill="#c0c0c0"/>
<rect x="186" y="609" width="1" height="22" fill="#c0c0c0"/>
<rect x="190" y="609" width="1" height="18" fill="#c0c0c0"/>
<rect x="194" y="609" width="1" height="13" fill="#c0c0c0"/>
<rect x="198" y="609" width="1" height="6" fill="#c0c0c0"/>
<rect x="202" y="609" width="1" height="1" fill="#c0c0c0"/>
<rect x="206" y="604" width="1" height="6" fill="#c0c0c0"/>
<rect x="210" y="599" width="1" height="11" fill="#c0c0c0"/>
<rect x="214" y="596" width="1" height="14" fill="#c0c0c0"/>
<rect x="218" y="595" width="1" height="15" fill="#c0c0c0"/>
<rect x="222" y="594" width="1" height="16" fill="#c0c0c0"/>
<rect x="226" y="595" width="1" height="15" fill="#c0c0c0"/>
<rect x="230" y="596" width="1" height="14" fill="#c0c0c0"/>
<rect x="234" y="597" width="1" height="13" fill="#c0c0c0"/>
<rect x="238" y="597" width="1" height="13" fill="#c0c0c0"/>
<rect x="242" y="597" width="1" height="13" fill="#c0c0c0"/>
<rect x="246" y="597" width="1" height="13" fill="#c0c0c0"/>
<rect x="250" y="597" width="1" height="13" fill="#c0c0c0"/>
<rect x="254" y="596" width="1" height="14" fill="#c0c0c0"/>
<rect x="258" y="595" width="1" height="15" fill="#c0c0c0"/>
<rect x="262" y="593" width="1" height="17" fill="#c0c0c0"/>
<rect x="266" y="590" width="1" height="20" fill="#c0c0c0"/>
<rect x="270" y="587" width="1" height="23" fill="#c0c0c0"/>
<rect x="274" y="587" width="1" height="23" fill="#c0c0c0"/>
<rect x="278" y="588" width="1" height="22" fill="#c0c0c0"/>
<rect x="282" y="586" width="1" height="24" fill="#c0c0c0"/>
<rect x="286" y="583" width="1" height="27" fill="#c0c0c0"/>
<rect x="290" y="580" width="1" height="30" fill="#c0c0c0"/>
<rect x="294" y="580" width="1" height="30" fill="#c0c0c0"/>
<rect x="298" y="580" width="1" height="30" fill="#c0c0c0"/>
<rect x="302" y="581" width="1" height="29" fill="#c0c0c0"/>
<rect x="306" y="582" width="1" height="28" fill="#c0c0c0"/>
<rect x="310" y="585" width="1" height="25" fill="#c0c0c0"/>
<rect x="314" y="588" width="1" height="22" fill="#c0c0c0"/>
<rect x="318" y="591" width="1" height="19" fill="#c0c0c0"/>
<rect x="322" y="593" width="1" height="17" fill="#c0c0c0"/>
<rect x="326" y="596" width="1" height="14" fill="#c0c0c0"/>
<rect x="330" y="597" width="1" height="13" fill="#c0c0c0"/>
<rect x="334" y="599" width="1" height="11" fill="#c0c0c0"/>
<rect x="338" y="600" width="1" height="10" fill="#c0c0c0"/>
<rect x="342" y="603" width="1" height="7" fill="#c0c0c0"/>
<rect x="346" y="604" width="1" height="6" fill="#c0c0c0"/>
<rect x="350" y="605" width="1" height="5" fill="#c0c0c0"/>
<rect x="354" y="606" width="1" height="4" fill="#c0c0c0"/>
<rect x="358" y="604" width="1" height="6" fill="#c0c0c0"/>
<rect x="362" y="602" width="1" height="8" fill="#c0c0c0"/>
<rect x="366" y="597" width="1" height="13" fill="#c0c0c0"/>
<rect x="370" y="595" width="1" height="15" fill="#c0c0c0"/>
<rect x="374" y="593" width="1" height="17" fill="#c0c0c0"/>
<rect x="378" y="591" width="1" height="19" fill="#c0c0c0"/>
<rect x="382" y="591" width="1" height="19" fill="#c0c0c0"/>
<rect x="386" y="593" width="1" height="17" fill="#c0c0c0"/>
<rect x="390" y="595" width="1" height="15" fill="#c0c0c0"/>
<rect x="394" y="598" width="1" height="12" fill="#c0c0c0"/>
<rect x="398" y="600" width="1" height="10" fill="#c0c0c0"/>
<rect x="402" y="602" width="1" height="8" fill="#c0c0c0"/>
<rect x="406" y="606" width="1" height="4" fill="#c0c0c0"/>
<rect x="410" y="609" width="1" height="5" fill="#c0c0c0"/>
<rect x="414" y="609" width="1" height="10" fill="#c0c0c0"/>
<rect x="418" y="609" width="1" height="12" fill="#c0c0c0"/>
<rect x="422" y="609" width="1" height="14" fill="#c0c0c0"/>
<rect x="426" y="609" width="1" height="17" fill="#c0c0c0"/>
<rect x="430" y="609" width="1" height="18" fill="#c0c0c0"/>
<rect x="434" y="609" width="1" height="18" fill="#c0c0c0"/>
<rect x="438" y="609" width="1" height="18" fill="#c0c0c0"/>
<rect x="442" y="609" width="1" height="16" fill="#c0c0c0"/>
<rect x="446" y="609" width="1" height="16" fill="#c0c0c0"/>
<rect x="450" y="609" width="1" height="13" fill="#c0c0c0"/>
<rect x="454" y="609" width="1" height="11" fill="#c0c0c0"/>
<rect x="458" y="609" width="1" height="10" fill="#c0c0c0"/>
<rect x="462" y="609" width="1" height="7" fill="#c0c0c0"/>
<rect x="466" y="609" width="1" height="5" fill="#c0c0c0"/>
<rect x="470" y="609" width="1" height="4" fill="#c0c0c0"/>
<rect x="474" y="609" width="1" height="3" fill="#c0c0c0"/>
<rect x="478" y="609" width="1" height="2" fill="#c0c0c0"/>
<rect x="482" y="607" width="1" height="3" fill="#c0c0c0"/>
<rect x="486" y="605" width="1" height="5" fill="#c0c0c0"/>
<rect x="490" y="604" width="1" height="6" fill="#c0c0c0"/>
<rect x="494" y="603" width="1" height="7" fill="#c0c0c0"/>
<rect x="498" y="601" width="1" height="9" fill="#c0c0c0"/>
<rect x="502" y="598" width="1" height="12" fill="#c0c0c0"/>
<rect x="506" y="594" width="1" height="16" fill="#c0c0c0"/>
<rect x="510" y="588" width="1" height="22" fill="#c0c0c0"/>
<rect x="514" y="584" width="1" height="26" fill="#c0c0c0"/>
<rect x="518" y="581" width="1" height="29" fill="#c0c0c0"/>
<rect x="522" y="575" width="1" height="35" fill="#c0c0c0"/>
<rect x="526" y="572" width="1" height="38" fill="#c0c0c0"/>
<rect x="530" y="570" width="1" height="40" fill="#c0c0c0"/>
<rect x="534" y="569" width="1" height="41" fill="#c0c0c0"/>
<rect x="538" y="568" width="1" height="42" fill="#c0c0c0"/>
<rect x="542" y="568" width="1" height="42" fill="#c0c0c0"/>
<rect x="546" y="569" width="1" height="41" fill="#c0c0c0"/>
<rect x="550" y="571" width="1" height="39" fill="#c0c0c0"/>
<rect x="554" y="572" width="1" height="38" fill="#c0c0c0"/>
<rect x="558" y="574" width="1" height="36" fill="#c0c0c0"/>
<rect x="562" y="577" width="1" height="33" fill="#c0c0c0"/>
<rect x="566" y="579" width="1" height="31" fill="#c0c0c0"/>
<rect x="570" y="580" width="1" height="30" fill="#c0c0c0"/>
<rect x="574" y="580" width="1" height="30" fill="#c0c0c0"/>
<rect x="578" y="584" width="1" height="26" fill="#c0c0c0"/>
<rect x="582" y="588" width="1" height="22" fill="#c0c0c0"/>
<rect x="586" y="593" width="1" height="17" fill="#c0c0c0"/>
<rect x="590" y="601" width="1" height="9" fill="#c0c0c0"/>
<rect x="594" y="604" width="1" height="6" fill="#c0c0c0"/>
<rect x="598" y="608" width="1" height="2" fill="#c0c0c0"/>
<rect x="602" y="609" width="1" height="1" fill="#c0c0c0"/>
<rect x="606" y="609" width="1" height="2" fill="#c0c0c0"/>
<rect x="610" y="609" width="1" height="2" fill="#c0c0c0"/>
<rect x="614" y="609" width="1" height="4" fill="#c0c0c0"/>
<rect x="618" y="609" width="1" height="4" fill="#c0c0c0"/>
<rect x="622" y="609" width="1" height="5" fill="#c0c0c0"/>
<rect x="626" y="609" width="1" height="10" fill="#c0c0c0"/>
<rect x="630" y="609" width="1" height="14" fill="#c0c0c0"/>
<rect x="634" y="609" width="1" height="17" fill="#c0c0c0"/>
<rect x="638" y="609" width="1" height="18" fill="#c0c0c0"/>
<rect x="642" y="609" width="1" height="16" fill="#c0c0c0"/>
<rect x="646" y="609" width="1" height="14" fill="#c0c0c0"/>
<rect x="650" y="609" width="1" height="13" fill="#c0c0c0"/>
<rect x="654" y="609" width="1" height="16" fill="#c0c0c0"/>
<rect x="658" y="609" width="1" height="19" fill="#c0c0c0"/>
<rect x="662" y="609" width="1" height="25" fill="#c0c0c0"/>
<rect x="666" y="609" width="1" height="30" fill="#c0c0c0"/>
<rect x="670" y="609" width="1" height="32" fill="#c0c0c0"/>
<rect x="674" y="609" width="1" height="35" fill="#c0c0c0"/>
<rect x="678" y="609" width="1" height="40" fill="#c0c0c0"/>
<rect x="682" y="609" width="1" height="41" fill="#c0c0c0"/>
<rect x="686" y="609" width="1" height="42" fill="#c0c0c0"/>
<rect x="690" y="609" width="1" height="41" fill="#c0c0c0"/>
<rect x="694" y="609" width="1" height="37" fill="#c0c0c0"/>
<rect x="698" y="609" width="1" height="35" fill="#c0c0c0"/>
<rect x="702" y="609" width="1" height="30" fill="#c0c0c0"/>
<rect x="706" y="609" width="1" height="26" fill="#c0c0c0"/>
<rect x="710" y="609" width="1" height="22" fill="#c0c0c0"/>
<rect x="714" y="609" width="1" height="18" fill="#c0c0c0"/>
<rect x="718" y="609" width="1" height="19" fill="#c0c0c0"/>
<rect x="722" y="609" width="1" height="27" fill="#c0c0c0"/>
<rect x="726" y="609" width="1" height="35" fill="#c0c0c0"/>
<rect x="730" y="609" width="1" height="42" fill="#c0c0c0"/>
<rect x="734" y="609" width="1" height="49" fill="#c0c0c0"/>
<rect x="738" y="609" width="1" height="52" fill="#c0c0c0"/>
<rect x="742" y="609" width="1" height="52" fill="#c0c0c0"/>
<rect x="746" y="609" width="1" height="52" fill="#c0c0c0"/>
<rect x="750" y="609" width="1" height="53" fill="#c0c0c0"/>
<rect x="754" y="609" width="1" height="50" fill="#c0c0c0"/>
<rect x="758" y="609" width="1" height="43" fill="#c0c0c0"/>
<rect x="762" y="609" width="1" height="38" fill="#c0c0c0"/>
<rect x="766" y="609" width="1" height="33" fill="#c0c0c0"/>
<rect x="770" y="609" width="1" height="30" fill="#c0c0c0"/>
<rect x="774" y="609" width="1" height="22" fill="#c0c0c0"/>
<rect x="778" y="609" width="1" height="17" fill="#c0c0c0"/>
<rect x="782" y="609" width="1" height="11" fill="#c0c0c0"/>
<rect x="786" y="609" width="1" height="6" fill="#c0c0c0"/>
<rect x="790" y="609" width="1" height="6" fill="#c0c0c0"/>
<rect x="794" y="609" width="1" height="4" fill="#c0c0c0"/>
<rect x="798" y="609" width="1" height="6" fill="#c0c0c0"/>
<rect x="802" y="609" width="1" height="8" fill="#c0c0c0"/>
<rect x="806" y="609" width="1" height="9" fill="#c0c0c0"/>
<rect x="810" y="609" width="1" height="8" fill="#c0c0c0"/>
<rect x="814" y="609" width="1" height="7" fill="#c0c0c0"/>
<rect x="818" y="609" width="1" height="9" fill="#c0c0c0"/>
<rect x="822" y="609" width="1" height="11" fill="#c0c0c0"/>
<rect x="826" y="609" width="1" height="12" fill="#c0c0c0"/>
<rect x="830" y="609" width="1" height="12" fill="#c0c0c0"/>
<rect x="834" y="609" width="1" height="11" fill="#c0c0c0"/>
<rect x="838" y="609" width="1" height="11" fill="#c0c0c0"/>
<rect x="842" y="609" width="1" height="6" fill="#c0c0c0"/>
<rect x="846" y="609" width="1" height="1" fill="#c0c0c0"/>
<rect x="850" y="605" width="1" height="5" fill="#c0c0c0"/>
<rect x="854" y="604" width="1" height="6" fill="#c0c0c0"/>
<rect x="858" y="603" width="1" height="7" fill="#c0c0c0"/>
<rect x="862" y="601" width="1" height="9" fill="#c0c0c0"/>
<rect x="866" y="601" width="1" height="9" fill="#c0c0c0"/>
<rect x="870" y="606" width="1" height="4" fill="#c0c0c0"/>
<rect x="874" y="609" width="1" height="2" fill="#c0c0c0"/>
<rect x="878" y="609" width="1" height="12" fill="#c0c0c0"/>
<rect x="882" y="609" width="1" height="16" fill="#c0c0c0"/>
<rect x="886" y="609" width="1" height="20" fill="#c0c0c0"/>
<rect x="890" y="609" width="1" height="24" fill="#c0c0c0"/>
<rect x="894" y="609" width="1" height="27" fill="#c0c0c0"/>
<rect x="898" y="609" width="1" height="30" fill="#c0c0c0"/>
<rect x="902" y="609" width="1" height="34" fill="#c0c0c0"/>
<rect x="906" y="609" width="1" height="32" fill="#c0c0c0"/>
<rect x="910" y="609" width="1" height="31" fill="#c0c0c0"/>
<rect x="914" y="609" width="1" height="29" fill="#c0c0c0"/>
<rect x="918" y="609" width="1" height="26" fill="#c0c0c0"/>
<rect x="922" y="609" width="1" height="22" fill="#c0c0c0"/>
<rect x="926" y="609" width="1" height="18" fill="#c0c0c0"/>
<rect x="930" y="609" width="1" height="17" fill="#c0c0c0"/>
<rect x="934" y="609" width="1" height="13" fill="#c0c0c0"/>
<rect x="938" y="609" width="1" height="9" fill="#c0c0c0"/>
<rect x="942" y="609" width="1" height="11" fill="#c0c0c0"/>
<rect x="946" y="609" width="1" height="14" fill="#c0c0c0"/>
<rect x="950" y="609" width="1" height="12" fill="#c0c0c0"/>
<rect x="954" y="609" width="1" height="9" fill="#c0c0c0"/>
<rect x="958" y="609" width="1" height="7" fill="#c0c0c0"/>
<rect x="962" y="609" width="1" height="2" fill="#c0c0c0"/>
<rect x="966" y="604" width="1" height="6" fill="#c0c0c0"/>
<rect x="970" y="599" width="1" height="11" fill="#c0c0c0"/>
<rect x="974" y="596" width="1" height="14" fill="#c0c0c0"/>
<rect x="978" y="595" width="1" height="15" fill="#c0c0c0"/>
<rect x="982" y="598" width="1" height="12" fill="#c0c0c0"/>
<rect x="986" y="597" width="1" height="13" fill="#c0c0c0"/>
<rect x="990" y="596" width="1" height="14" fill="#c0c0c0"/>
<rect x="994" y="595" width="1" height="15" fill="#c0c0c0"/>
<rect x="998" y="592" width="1" height="18" fill="#c0c0c0"/>
<rect x="1002" y="590" width="1" height="20" fill="#c0c0c0"/>
<rect x="1006" y="588" width="1" height="22" fill="#c0c0c0"/>
<rect x="1010" y="588" width="1" height="22" fill="#c0c0c0"/>
<rect x="1014" y="588" width="1" height="22" fill="#c0c0c0"/>
<rect x="1018" y="591" width="1" height="19" fill="#c0c0c0"/>
<rect x="1022" y="590" width="1" height="20" fill="#c0c0c0"/>
<rect x="1026" y="589" width="1" height="21" fill="#c0c0c0"/>
<rect x="1030" y="586" width="1" height="24" fill="#c0c0c0"/>
<rect x="1034" y="587" width="1" height="23" fill="#c0c0c0"/>
<rect x="1038" y="588" width="1" height="22" fill="#c0c0c0"/>
<rect x="1042" y="590" width="1" height="20" fill="#c0c0c0"/>
<rect x="1046" y="592" width="1" height="18" fill="#c0c0c0"/>
<rect x="1050" y="596" width="1" height="14" fill="#c0c0c0"/>
<rect x="1054" y="597" width="1" height="13" fill="#c0c0c0"/>
<rect x="1058" y="596" width="1" height="14" fill="#c0c0c0"/>
<rect x="1062" y="597" width="1" height="13" fill="#c0c0c0"/>
<rect x="1066" y="598" width="1" height="12" fill="#c0c0c0"/>
<rect x="1070" y="595" width="1" height="15" fill="#c0c0c0"/>
<rect x="1074" y="595" width="1" height="15" fill="#c0c0c0"/>
<rect x="1078" y="593" width="1" height="17" fill="#c0c0c0"/>
<rect x="1082" y="591" width="1" height="19" fill="#c0c0c0"/>
<rect x="1086" y="592" width="1" height="18" fill="#c0c0c0"/>
<rect x="1090" y="593" width="1" height="17" fill="#c0c0c0"/>
<rect x="1094" y="594" width="1" height="16" fill="#c0c0c0"/>
<rect x="1098" y="596" width="1" height="14" fill="#c0c0c0"/>
<rect x="1102" y="597" width="1" height="13" fill="#c0c0c0"/>
<rect x="1106" y="597" width="1" height="13" fill="#c0c0c0"/>
<rect x="1110" y="596" width="1" height="14" fill="#c0c0c0"/>
<rect x="1114" y="594" width="1" height="16" fill="#c0c0c0"/>
<rect x="1118" y="594" width="1" height="16" fill="#c0c0c0"/>
<rect x="1122" y="593" width="1" height="17" fill="#c0c0c0"/>
<rect x="1126" y="595" width="1" height="15" fill="#c0c0c0"/>
<rect x="1130" y="598" width="1" height="12" fill="#c0c0c0"/>
</g>
<path d="M6 591v1h1v-1zM7 592v1h1v-1zM8 593v1h1v-1zM12 596v1h1v-1zM13 597v1h1v-1zM14 598v1h1v-1zM18 602v1h1v-1zM19 603v1h1v-1zM20 603v1h1v-1zM24 606v1h1v-1zM25 607v1h1v-1zM26 608v1h1v-1zM30 610v1h1v-1zM31 610v1h1v-1zM32 611v1h1v-1zM36 611v1h1v-1zM37 611v1h1v-1zM38 611v1h1v-1zM42 611v1h1v-1zM43 611v1h1v-1zM44 611v1h1v-1zM48 611v1h1v-1zM49 611v1h1v-1zM50 611v1h1v-1zM54 611v1h1v-1zM55 611v1h1v-1zM56 612v1h1v-1zM60 613v1h1v-1zM61 613v1h1v-1zM62 613v1h1v-1zM66 614v1h1v-1zM67 614v1h1v-1zM68 615v1h1v-1zM72 616v1h1v-1zM73 616v1h1v-1zM74 616v1h1v-1zM78 618v1h1v-1zM79 618v1h1v-1zM80 618v1h1v-1zM84 619v1h1v-1zM85 619v1h1v-1zM86 619v1h1v-1zM90 619v1h1v-1zM91 619v1h1v-1zM92 619v1h1v-1zM96 619v1h1v-1zM97 619v1h1v-1zM98 619v1h1v-1zM102 618v1h1v-1zM103 618v1h1v-1zM104 618v1h1v-1zM108 617v1h1v-1zM109 617v1h1v-1zM110 617v1h1v-1zM114 617v1h1v-1zM115 617v1h1v-1zM116 618v1h1v-1zM120 619v1h1v-1zM121 619v1h1v-1zM122 619v1h1v-1zM126 619v1h1v-1zM127 619v1h1v-1zM128 620v1h1v-1zM132 621v1h1v-1zM133 622v1h1v-1zM134 622v1h1v-1zM138 623v1h1v-1zM139 623v1h1v-1zM140 624v1h1v-1zM144 625v1h1v-1zM145 626v1h1v-1zM146 626v1h1v-1zM150 627v1h1v-1zM151 627v1h1v-1zM152 627v1h1v-1zM156 628v1h1v-1zM157 628v1h1v-1zM158 628v1h1v-1zM162 629v1h1v-1zM163 629v1h1v-1zM164 629v1h1v-1zM168 630v1h1v-1zM169 630v1h1v-1zM170 630v1h1v-1zM174 631v1h1v-1zM175 631v1h1v-1zM176 631v1h1v-1zM180 631v1h1v-1zM181 631v1h1v-1zM182 631v1h1v-1zM186 631v1h1v-1zM187 631v1h1v-1zM188 631v1h1v-1zM192 630v1h1v-1zM193 630v1h1v-1zM194 630v1h1v-1zM198 628v1h1v-1zM199 627v1h1v-1zM200 627v1h1v-1zM204 624v1h1v-1zM205 623v1h1v-1zM206 622v1h1v-1zM210 618v1h1v-1zM211 617v1h1v-1zM212 616v1h1v-1zM216 612v1h1v-1zM217 611v1h1v-1zM218 610v1h1v-1zM222 606v1h1v-1zM223 605v1h1v-1zM224 604v1h1v-1zM228 601v1h1v-1zM229 601v1h1v-1zM230 600v1h1v-1zM234 598v1h1v-1zM235 598v1h1v-1zM236 597v1h1v-1zM240 596v1h1v-1zM241 596v1h1v-1zM242 596v1h1v-1zM246 596v1h1v-1zM247 596v1h1v-1zM248 596v1h1v-1zM252 596v1h1v-1zM253 596v1h1v-1zM254 596v1h1v-1zM258 596v1h1v-1zM259 596v1h1v-1zM260 596v1h1v-1zM264 595v1h1v-1zM265 595v1h1v-1zM266 595v1h1v-1zM270 594v1h1v-1zM271 594v1h1v-1zM272 593v1h1v-1zM276 592v1h1v-1zM277 592v1h1v-1zM278 592v1h1v-1zM282 591v1h1v-1zM283 590v1h1v-1zM284 590v1h1v-1zM288 588v1h1v-1zM289 588v1h1v-1zM290 588v1h1v-1zM294 586v1h1v-1zM295 586v1h1v-1zM296 585v1h1v-1zM300 584v1h1v-1zM301 584v1h1v-1zM302 584v1h1v-1zM306 583v1h1v-1zM307 583v1h1v-1zM308 583v1h1v-1zM312 583v1h1v-1zM313 583v1h1v-1zM314 583v1h1v-1zM318 583v1h1v-1zM319 583v1h1v-1zM320 584v1h1v-1zM324 585v1h1v-1zM325 586v1h1v-1zM326 586v1h1v-1zM330 588v1h1v-1zM331 589v1h1v-1zM332 589v1h1v-1zM336 591v1h1v-1zM337 592v1h1v-1zM338 592v1h1v-1zM342 595v1h1v-1zM343 596v1h1v-1zM344 596v1h1v-1zM348 598v1h1v-1zM349 599v1h1v-1zM350 599v1h1v-1zM354 600v1h1v-1zM355 601v1h1v-1zM356 601v1h1v-1zM360 602v1h1v-1zM361 602v1h1v-1zM362 602v1h1v-1zM366 602v1h1v-1zM367 602v1h1v-1zM368 602v1h1v-1zM372 601v1h1v-1zM373 601v1h1v-1zM374 601v1h1v-1zM378 600v1h1v-1zM379 599v1h1v-1zM380 599v1h1v-1zM384 597v1h1v-1zM385 597v1h1v-1zM386 597v1h1v-1zM390 595v1h1v-1zM391 595v1h1v-1zM392 595v1h1v-1zM396 595v1h1v-1zM397 595v1h1v-1zM398 595v1h1v-1zM402 595v1h1v-1zM403 595v1h1v-1zM404 596v1h1v-1zM408 598v1h1v-1zM409 598v1h1v-1zM410 599v1h1v-1zM414 602v1h1v-1zM415 603v1h1v-1zM416 604v1h1v-1zM420 607v1h1v-1zM421 607v1h1v-1zM422 608v1h1v-1zM426 612v1h1v-1zM427 613v1h1v-1zM428 614v1h1v-1zM432 617v1h1v-1zM433 617v1h1v-1zM434 618v1h1v-1zM438 620v1h1v-1zM439 621v1h1v-1zM440 621v1h1v-1zM444 623v1h1v-1zM445 623v1h1v-1zM446 623v1h1v-1zM450 624v1h1v-1zM451 624v1h1v-1zM452 624v1h1v-1zM456 623v1h1v-1zM457 623v1h1v-1zM458 623v1h1v-1zM462 622v1h1v-1zM463 622v1h1v-1zM464 621v1h1v-1zM468 620v1h1v-1zM469 619v1h1v-1zM470 619v1h1v-1zM474 617v1h1v-1zM475 617v1h1v-1zM476 616v1h1v-1zM480 615v1h1v-1zM481 614v1h1v-1zM482 614v1h1v-1zM486 612v1h1v-1zM487 612v1h1v-1zM488 611v1h1v-1zM492 610v1h1v-1zM493 609v1h1v-1zM494 609v1h1v-1zM498 607v1h1v-1zM499 607v1h1v-1zM500 606v1h1v-1zM504 605v1h1v-1zM505 604v1h1v-1zM506 604v1h1v-1zM510 601v1h1v-1zM511 600v1h1v-1zM512 599v1h1v-1zM516 596v1h1v-1zM517 596v1h1v-1zM518 595v1h1v-1zM522 592v1h1v-1zM523 591v1h1v-1zM524 590v1h1v-1zM528 586v1h1v-1zM529 586v1h1v-1zM530 585v1h1v-1zM534 581v1h1v-1zM535 580v1h1v-1zM536 579v1h1v-1zM540 576v1h1v-1zM541 576v1h1v-1zM542 575v1h1v-1zM546 573v1h1v-1zM547 572v1h1v-1zM548 572v1h1v-1zM552 571v1h1v-1zM553 571v1h1v-1zM554 571v1h1v-1zM558 570v1h1v-1zM559 570v1h1v-1zM560 571v1h1v-1zM564 572v1h1v-1zM565 572v1h1v-1zM566 572v1h1v-1zM570 573v1h1v-1zM571 574v1h1v-1zM572 574v1h1v-1zM576 576v1h1v-1zM577 576v1h1v-1zM578 576v1h1v-1zM582 578v1h1v-1zM583 579v1h1v-1zM584 580v1h1v-1zM588 583v1h1v-1zM589 583v1h1v-1zM590 584v1h1v-1zM594 587v1h1v-1zM595 588v1h1v-1zM596 589v1h1v-1zM600 593v1h1v-1zM601 593v1h1v-1zM602 594v1h1v-1zM606 598v1h1v-1zM607 599v1h1v-1zM608 600v1h1v-1zM612 603v1h1v-1zM613 603v1h1v-1zM614 604v1h1v-1zM618 607v1h1v-1zM619 608v1h1v-1zM620 608v1h1v-1zM624 610v1h1v-1zM625 611v1h1v-1zM626 611v1h1v-1zM630 613v1h1v-1zM631 614v1h1v-1zM632 614v1h1v-1zM636 616v1h1v-1zM637 616v1h1v-1zM638 616v1h1v-1zM642 618v1h1v-1zM643 618v1h1v-1zM644 619v1h1v-1zM648 620v1h1v-1zM649 620v1h1v-1zM650 620v1h1v-1zM654 622v1h1v-1zM655 622v1h1v-1zM656 623v1h1v-1zM660 624v1h1v-1zM661 625v1h1v-1zM662 625v1h1v-1zM666 627v1h1v-1zM667 627v1h1v-1zM668 628v1h1v-1zM672 629v1h1v-1zM673 630v1h1v-1zM674 630v1h1v-1zM678 633v1h1v-1zM679 634v1h1v-1zM680 635v1h1v-1zM684 638v1h1v-1zM685 638v1h1v-1zM686 639v1h1v-1zM690 642v1h1v-1zM691 643v1h1v-1zM692 643v1h1v-1zM696 645v1h1v-1zM697 645v1h1v-1zM698 645v1h1v-1zM702 645v1h1v-1zM703 645v1h1v-1zM704 644v1h1v-1zM708 643v1h1v-1zM709 643v1h1v-1zM710 643v1h1v-1zM714 640v1h1v-1zM715 639v1h1v-1zM716 639v1h1v-1zM720 637v1h1v-1zM721 636v1h1v-1zM722 636v1h1v-1zM726 636v1h1v-1zM727 636v1h1v-1zM728 636v1h1v-1zM732 637v1h1v-1zM733 638v1h1v-1zM734 638v1h1v-1zM738 640v1h1v-1zM739 641v1h1v-1zM740 642v1h1v-1zM744 645v1h1v-1zM745 645v1h1v-1zM746 646v1h1v-1zM750 650v1h1v-1zM751 651v1h1v-1zM752 652v1h1v-1zM756 655v1h1v-1zM757 655v1h1v-1zM758 655v1h1v-1zM762 656v1h1v-1zM763 656v1h1v-1zM764 655v1h1v-1zM768 654v1h1v-1zM769 653v1h1v-1zM770 653v1h1v-1zM774 649v1h1v-1zM775 648v1h1v-1zM776 647v1h1v-1zM780 643v1h1v-1zM781 642v1h1v-1zM782 641v1h1v-1zM785 637v1h1v-1zM786 636v1h1v-1zM787 635v1h1v-1zM790 631v1h1v-1zM791 630v1h1v-1zM792 629v1h1v-1zM795 625v1h1v-1zM796 624v1h1v-1zM797 624v1h1v-1zM801 621v1h1v-1zM802 620v1h1v-1zM803 619v1h1v-1zM807 617v1h1v-1zM808 617v1h1v-1zM809 616v1h1v-1zM813 615v1h1v-1zM814 615v1h1v-1zM815 615v1h1v-1zM819 615v1h1v-1zM820 615v1h1v-1zM821 615v1h1v-1zM825 616v1h1v-1zM826 616v1h1v-1zM827 616v1h1v-1zM831 617v1h1v-1zM832 618v1h1v-1zM833 618v1h1v-1zM837 618v1h1v-1zM838 618v1h1v-1zM839 618v1h1v-1zM843 618v1h1v-1zM844 617v1h1v-1zM845 617v1h1v-1zM849 616v1h1v-1zM850 616v1h1v-1zM851 615v1h1v-1zM855 614v1h1v-1zM856 613v1h1v-1zM857 613v1h1v-1zM861 611v1h1v-1zM862 611v1h1v-1zM863 610v1h1v-1zM867 608v1h1v-1zM868 607v1h1v-1zM869 607v1h1v-1zM873 606v1h1v-1zM874 606v1h1v-1zM875 606v1h1v-1zM879 607v1h1v-1zM880 607v1h1v-1zM881 608v1h1v-1zM885 610v1h1v-1zM886 611v1h1v-1zM887 612v1h1v-1zM891 615v1h1v-1zM892 616v1h1v-1zM893 616v1h1v-1zM896 620v1h1v-1zM897 621v1h1v-1zM898 622v1h1v-1zM902 626v1h1v-1zM903 627v1h1v-1zM904 628v1h1v-1zM908 632v1h1v-1zM909 632v1h1v-1zM910 633v1h1v-1zM914 635v1h1v-1zM915 635v1h1v-1zM916 636v1h1v-1zM920 636v1h1v-1zM921 636v1h1v-1zM922 636v1h1v-1zM926 636v1h1v-1zM927 636v1h1v-1zM928 635v1h1v-1zM932 634v1h1v-1zM933 633v1h1v-1zM934 633v1h1v-1zM938 630v1h1v-1zM939 629v1h1v-1zM940 629v1h1v-1zM944 627v1h1v-1zM945 626v1h1v-1zM946 626v1h1v-1zM950 624v1h1v-1zM951 623v1h1v-1zM952 623v1h1v-1zM956 621v1h1v-1zM957 620v1h1v-1zM958 620v1h1v-1zM962 618v1h1v-1zM963 617v1h1v-1zM964 617v1h1v-1zM968 615v1h1v-1zM969 614v1h1v-1zM970 614v1h1v-1zM974 611v1h1v-1zM975 610v1h1v-1zM976 610v1h1v-1zM980 607v1h1v-1zM981 607v1h1v-1zM982 606v1h1v-1zM986 603v1h1v-1zM987 602v1h1v-1zM988 602v1h1v-1zM992 600v1h1v-1zM993 599v1h1v-1zM994 599v1h1v-1zM998 597v1h1v-1zM999 596v1h1v-1zM1000 596v1h1v-1zM1004 594v1h1v-1zM1005 594v1h1v-1zM1006 594v1h1v-1zM1010 593v1h1v-1zM1011 593v1h1v-1zM1012 592v1h1v-1zM1016 592v1h1v-1zM1017 592v1h1v-1zM1018 592v1h1v-1zM1022 591v1h1v-1zM1023 591v1h1v-1zM1024 590v1h1v-1zM1028 589v1h1v-1zM1029 589v1h1v-1zM1030 589v1h1v-1zM1034 588v1h1v-1zM1035 588v1h1v-1zM1036 588v1h1v-1zM1040 588v1h1v-1zM1041 588v1h1v-1zM1042 588v1h1v-1zM1046 589v1h1v-1zM1047 589v1h1v-1zM1048 590v1h1v-1zM1052 590v1h1v-1zM1053 590v1h1v-1zM1054 590v1h1v-1zM1058 591v1h1v-1zM1059 591v1h1v-1zM1060 592v1h1v-1zM1064 593v1h1v-1zM1065 593v1h1v-1zM1066 593v1h1v-1zM1070 594v1h1v-1zM1071 594v1h1v-1zM1072 595v1h1v-1zM1076 595v1h1v-1zM1077 595v1h1v-1zM1078 595v1h1v-1zM1082 595v1h1v-1zM1083 595v1h1v-1zM1084 595v1h1v-1zM1088 594v1h1v-1zM1089 594v1h1v-1zM1090 594v1h1v-1zM1094 594v1h1v-1zM1095 594v1h1v-1zM1096 594v1h1v-1zM1100 594v1h1v-1zM1101 594v1h1v-1zM1102 594v1h1v-1zM1106 594v1h1v-1zM1107 594v1h1v-1zM1108 594v1h1v-1zM1112 594v1h1v-1zM1113 594v1h1v-1zM1114 594v1h1v-1zM1118 595v1h1v-1zM1119 595v1h1v-1zM1120 595v1h1v-1zM1124 595v1h1v-1zM1125 595v1h1v-1zM1126 595v1h1v-1zM1130 596v1h1v-1z" fill="#ff0000" shape-rendering="crispEdges"/>
<g shape-rendering="crispEdges">
<line x1="7" y1="707.5" x2="1421" y2="707.5" stroke="#c0c0c0" stroke-width="1" stroke-dasharray="3,3"/>
<line x1="7" y1="758.5" x2="1421" y2="758.5" stroke="#c0c0c0" stroke-width="1" stroke-dasharray="3,3"/>
</g>
<path d="M6 741v1h1v-1zM7 740v1h1v-1zM8 738v2h1v-2zM9 737v1h1v-1zM10 736v1h1v-1zM11 736v1h1v-1zM12 736v1h1v-1zM13 736v1h1v-1zM14 736v1h1v-1zM15 735v1h1v-1zM16 735v1h1v-1zM17 734v1h1v-1zM18 734v1h1v-1zM19 734v1h1v-1zM20 733v1h1v-1zM21 733v1h1v-1zM22 733v2h1v-2zM23 735v3h1v-3zM24 738v2h1v-2zM25 740v3h1v-3zM26 743v2h1v-2zM27 742v2h1v-2zM28 741v1h1v-1zM29 739v2h1v-2zM30 738v1h1v-1zM31 736v2h1v-2zM32 734v2h1v-2zM33 732v2h1v-2zM34 730v2h1v-2zM35 731v1h1v-1zM36 731v1h1v-1zM37 732v1h1v-1zM38 732v1h1v-1zM39 733v1h1v-1zM40 733v1h1v-1zM41 734v1h1v-1zM42 734v1h1v-1zM43 734v1h1v-1zM44 735v1h1v-1zM45 735v1h1v-1zM46 735v1h1v-1zM47 735v1h1v-1zM48 736v1h1v-1zM49 736v1h1v-1zM50 736v1h1v-1zM51 737v2h1v-2zM52 739v2h1v-2zM53 741v2h1v-2zM54 743v2h1v-2zM55 745v2h1v-2zM56 747v2h1v-2zM57 749v2h1v-2zM58 751v1h1v-1zM59 750v1h1v-1zM60 750v1h1v-1zM61 749v1h1v-1zM62 749v1h1v-1zM63 749v1h1v-1zM64 750v1h1v-1zM65 750v1h1v-1zM66 749v2h1v-2zM67 747v2h1v-2zM68 744v3h1v-3zM69 742v2h1v-2zM70 740v2h1v-2zM71 740v1h1v-1zM72 741v1h1v-1zM73 741v1h1v-1zM74 741v1h1v-1zM75 740v1h1v-1zM76 739v1h1v-1zM77 739v1h1v-1zM78 737v2h1v-2zM79 735v2h1v-2zM80 732v3h1v-3zM81 730v2h1v-2zM82 728v2h1v-2zM83 728v1h1v-1zM84 728v1h1v-1zM85 728v1h1v-1zM86 728v2h1v-2zM87 730v3h1v-3zM88 733v3h1v-3zM89 736v3h1v-3zM90 739v2h1v-2zM91 740v1h1v-1zM92 740v1h1v-1zM93 740v1h1v-1zM94 740v1h1v-1zM95 739v1h1v-1zM96 738v1h1v-1zM97 737v1h1v-1zM98 736v2h1v-2zM99 738v3h1v-3zM100 741v4h1v-4zM101 745v3h1v-3zM102 748v2h1v-2zM103 744v4h1v-4zM104 740v4h1v-4zM105 736v4h1v-4zM106 733v3h1v-3zM107 734v1h1v-1zM108 734v1h1v-1zM109 735v1h1v-1zM110 735v2h1v-2zM111 737v3h1v-3zM112 740v2h1v-2zM113 742v3h1v-3zM114 745v2h1v-2zM115 746v1h1v-1zM116 745v1h1v-1zM117 745v1h1v-1zM118 744v2h1v-2zM119 741v3h1v-3zM120 737v4h1v-4zM121 734v3h1v-3zM122 732v2h1v-2zM123 734v2h1v-2zM124 736v2h1v-2zM125 738v2h1v-2zM126 740v2h1v-2zM127 742v1h1v-1zM128 742v1h1v-1zM129 743v1h1v-1zM130 743v1h1v-1zM131 744v1h1v-1zM132 744v1h1v-1zM133 745v1h1v-1zM134 745v1h1v-1zM135 746v1h1v-1zM136 747v1h1v-1zM137 748v1h1v-1zM138 749v1h1v-1zM139 748v1h1v-1zM140 748v1h1v-1zM141 747v1h1v-1zM142 746v2h1v-2zM143 743v3h1v-3zM144 740v3h1v-3zM145 737v3h1v-3zM146 735v2h1v-2zM147 736v1h1v-1zM148 736v1h1v-1zM149 737v1h1v-1zM150 737v1h1v-1zM151 738v1h1v-1zM152 738v1h1v-1zM153 739v1h1v-1zM154 739v1h1v-1zM155 739v1h1v-1zM156 739v1h1v-1zM157 739v1h1v-1zM158 739v2h1v-2zM159 741v2h1v-2zM160 743v2h1v-2zM161 745v2h1v-2zM162 747v2h1v-2zM163 747v1h1v-1zM164 746v1h1v-1zM165 746v1h1v-1zM166 745v1h1v-1zM167 746v2h1v-2zM168 748v2h1v-2zM169 750v2h1v-2zM170 752v2h1v-2zM171 748v4h1v-4zM172 744v4h1v-4zM173 740v4h1v-4zM174 737v3h1v-3zM175 737v1h1v-1zM176 736v1h1v-1zM177 736v1h1v-1zM178 736v1h1v-1zM179 736v1h1v-1zM180 737v1h1v-1zM181 737v1h1v-1zM182 737v1h1v-1zM183 738v1h1v-1zM184 739v1h1v-1zM185 739v1h1v-1zM186 740v1h1v-1zM187 738v2h1v-2zM188 736v2h1v-2zM189 734v2h1v-2zM190 732v2h1v-2zM191 731v1h1v-1zM192 730v1h1v-1zM193 729v1h1v-1zM194 728v1h1v-1zM195 727v1h1v-1zM196 725v2h1v-2zM197 724v1h1v-1zM198 723v1h1v-1zM199 723v1h1v-1zM200 722v1h1v-1zM201 722v1h1v-1zM202 722v1h1v-1zM203 722v1h1v-1zM204 722v1h1v-1zM205 722v1h1v-1zM206 722v1h1v-1zM207 721v1h1v-1zM208 720v1h1v-1zM209 720v1h1v-1zM210 719v1h1v-1zM211 719v1h1v-1zM212 720v1h1v-1zM213 720v1h1v-1zM214 720v1h1v-1zM215 721v1h1v-1zM216 722v2h1v-2zM217 724v1h1v-1zM218 725v1h1v-1zM219 724v1h1v-1zM220 724v1h1v-1zM221 723v1h1v-1zM222 723v1h1v-1zM223 724v2h1v-2zM224 726v1h1v-1zM225 727v2h1v-2zM226 729v1h1v-1zM227 729v1h1v-1zM228 729v1h1v-1zM229 729v1h1v-1zM230 729v1h1v-1zM231 730v1h1v-1zM232 730v1h1v-1zM233 731v1h1v-1zM234 731v1h1v-1zM235 730v1h1v-1zM236 728v2h1v-2zM237 727v1h1v-1zM238 726v1h1v-1zM239 727v1h1v-1zM240 727v1h1v-1zM241 728v1h1v-1zM242 728v1h1v-1zM243 728v1h1v-1zM244 727v1h1v-1zM245 727v1h1v-1zM246 727v1h1v-1zM247 726v1h1v-1zM248 726v1h1v-1zM249 725v1h1v-1zM250 725v1h1v-1zM251 725v1h1v-1zM252 724v1h1v-1zM253 724v1h1v-1zM254 724v1h1v-1zM255 723v1h1v-1zM256 721v2h1v-2zM257 720v1h1v-1zM258 719v1h1v-1zM259 718v1h1v-1zM260 717v1h1v-1zM261 717v1h1v-1zM262 716v1h1v-1zM263 715v1h1v-1zM264 714v1h1v-1zM265 713v1h1v-1zM266 712v1h1v-1zM267 712v1h1v-1zM268 712v1h1v-1zM269 712v1h1v-1zM270 712v1h1v-1zM271 713v2h1v-2zM272 715v2h1v-2zM273 717v2h1v-2zM274 719v1h1v-1zM275 720v1h1v-1zM276 720v1h1v-1zM277 721v1h1v-1zM278 721v1h1v-1zM279 719v2h1v-2zM280 717v2h1v-2zM281 715v2h1v-2zM282 713v2h1v-2zM283 712v1h1v-1zM284 711v1h1v-1zM285 710v1h1v-1zM286 709v1h1v-1zM287 708v1h1v-1zM288 707v1h1v-1zM289 707v1h1v-1zM290 706v2h1v-2zM291 708v3h1v-3zM292 711v2h1v-2zM293 713v3h1v-3zM294 716v2h1v-2zM295 717v1h1v-1zM296 718v1h1v-1zM297 718v1h1v-1zM298 718v1h1v-1zM299 718v1h1v-1zM300 718v1h1v-1zM301 718v1h1v-1zM302 718v1h1v-1zM303 718v1h1v-1zM304 719v1h1v-1zM305 719v1h1v-1zM306 719v2h1v-2zM307 721v2h1v-2zM308 723v2h1v-2zM309 725v2h1v-2zM310 727v2h1v-2zM311 729v1h1v-1zM312 729v1h1v-1zM313 730v1h1v-1zM314 730v1h1v-1zM315 730v1h1v-1zM316 729v1h1v-1zM317 729v1h1v-1zM318 729v1h1v-1zM319 730v1h1v-1zM320 731v1h1v-1zM321 731v1h1v-1zM322 732v1h1v-1zM323 732v1h1v-1zM324 732v1h1v-1zM325 732v1h1v-1zM326 732v1h1v-1zM327 732v1h1v-1zM328 731v1h1v-1zM329 731v1h1v-1zM330 731v1h1v-1zM331 732v1h1v-1zM332 732v1h1v-1zM333 733v1h1v-1zM334 733v1h1v-1zM335 732v1h1v-1zM336 731v1h1v-1zM337 731v1h1v-1zM338 730v2h1v-2zM339 732v2h1v-2zM340 734v3h1v-3zM341 737v2h1v-2zM342 739v2h1v-2zM343 738v2h1v-2zM344 736v2h1v-2zM345 734v2h1v-2zM346 732v2h1v-2zM347 733v1h1v-1zM348 734v1h1v-1zM349 735v1h1v-1zM350 736v1h1v-1zM351 735v1h1v-1zM352 734v1h1v-1zM353 734v1h1v-1zM354 732v2h1v-2zM355 729v3h1v-3zM356 725v4h1v-4zM357 722v3h1v-3zM358 720v2h1v-2zM359 720v1h1v-1zM360 721v1h1v-1zM361 721v1h1v-1zM362 720v2h1v-2zM363 717v3h1v-3zM364 714v3h1v-3zM365 711v3h1v-3zM366 709v2h1v-2zM367 711v2h1v-2zM368 713v3h1v-3zM369 716v2h1v-2zM370 718v2h1v-2zM371 719v1h1v-1zM372 718v1h1v-1zM373 718v1h1v-1zM374 718v1h1v-1zM375 717v1h1v-1zM376 716v1h1v-1zM377 715v1h1v-1zM378 714v1h1v-1zM379 715v2h1v-2zM380 717v2h1v-2zM381 719v2h1v-2zM382 721v3h1v-3zM383 724v2h1v-2zM384 726v3h1v-3zM385 729v2h1v-2zM386 731v2h1v-2zM387 732v1h1v-1zM388 731v1h1v-1zM389 731v1h1v-1zM390 731v1h1v-1zM391 732v1h1v-1zM392 733v1h1v-1zM393 733v1h1v-1zM394 734v1h1v-1zM395 734v1h1v-1zM396 734v1h1v-1zM397 734v1h1v-1zM398 734v1h1v-1zM399 735v1h1v-1zM400 736v1h1v-1zM401 736v1h1v-1zM402 737v1h1v-1zM403 738v2h1v-2zM404 740v1h1v-1zM405 741v2h1v-2zM406 743v2h1v-2zM407 745v3h1v-3zM408 748v3h1v-3zM409 751v3h1v-3zM410 754v2h1v-2zM411 754v1h1v-1zM412 754v1h1v-1zM413 753v1h1v-1zM414 753v1h1v-1zM415 751v2h1v-2zM416 749v2h1v-2zM417 747v2h1v-2zM418 746v1h1v-1zM419 746v1h1v-1zM420 747v1h1v-1zM421 747v1h1v-1zM422 747v1h1v-1zM423 748v1h1v-1zM424 749v1h1v-1zM425 749v1h1v-1zM426 750v1h1v-1zM427 749v1h1v-1zM428 748v1h1v-1zM429 747v1h1v-1zM430 746v1h1v-1zM431 745v1h1v-1zM432 744v1h1v-1zM433 744v1h1v-1zM434 743v1h1v-1zM435 743v1h1v-1zM436 742v1h1v-1zM437 742v1h1v-1zM438 742v1h1v-1zM439 741v1h1v-1zM440 740v1h1v-1zM441 740v1h1v-1zM442 739v1h1v-1zM443 740v1h1v-1zM444 740v1h1v-1zM445 741v1h1v-1zM446 740v2h1v-2zM447 737v3h1v-3zM448 735v2h1v-2zM449 732v3h1v-3zM450 730v2h1v-2zM451 731v1h1v-1zM452 732v1h1v-1zM453 732v1h1v-1zM454 733v1h1v-1zM455 734v1h1v-1zM456 734v1h1v-1zM457 735v1h1v-1zM458 735v1h1v-1zM459 733v2h1v-2zM460 731v2h1v-2zM461 729v2h1v-2zM462 728v1h1v-1zM463 728v1h1v-1zM464 728v1h1v-1zM465 728v1h1v-1zM466 728v1h1v-1zM467 728v1h1v-1zM468 728v1h1v-1zM469 728v1h1v-1zM470 728v1h1v-1zM471 729v1h1v-1zM472 730v1h1v-1zM473 730v1h1v-1zM474 731v1h1v-1zM475 730v1h1v-1zM476 730v1h1v-1zM477 729v1h1v-1zM478 729v1h1v-1zM479 727v2h1v-2zM480 725v2h1v-2zM481 723v2h1v-2zM482 722v1h1v-1zM483 722v1h1v-1zM484 721v1h1v-1zM485 721v1h1v-1zM486 721v1h1v-1zM487 721v1h1v-1zM488 721v1h1v-1zM489 721v1h1v-1zM490 721v1h1v-1zM491 721v1h1v-1zM492 722v1h1v-1zM493 722v1h1v-1zM494 722v1h1v-1zM495 721v1h1v-1zM496 720v1h1v-1zM497 719v1h1v-1zM498 717v2h1v-2zM499 715v2h1v-2zM500 713v2h1v-2zM501 711v2h1v-2zM502 709v2h1v-2zM503 708v1h1v-1zM504 706v2h1v-2zM505 705v1h1v-1zM506 704v1h1v-1zM507 702v2h1v-2zM508 701v1h1v-1zM509 699v2h1v-2zM510 698v1h1v-1zM511 699v1h1v-1zM512 700v1h1v-1zM513 701v1h1v-1zM514 702v1h1v-1zM515 701v1h1v-1zM516 701v1h1v-1zM517 700v1h1v-1zM518 700v1h1v-1zM519 699v1h1v-1zM520 697v2h1v-2zM521 696v1h1v-1zM522 695v1h1v-1zM523 695v1h1v-1zM524 695v1h1v-1zM525 695v1h1v-1zM526 695v1h1v-1zM527 696v1h1v-1zM528 696v1h1v-1zM529 697v1h1v-1zM530 697v1h1v-1zM531 698v1h1v-1zM532 699v1h1v-1zM533 700v1h1v-1zM534 701v1h1v-1zM535 701v1h1v-1zM536 700v1h1v-1zM537 700v1h1v-1zM538 700v1h1v-1zM539 700v1h1v-1zM540 700v1h1v-1zM541 700v1h1v-1zM542 700v1h1v-1zM543 701v1h1v-1zM544 702v1h1v-1zM545 702v1h1v-1zM546 703v1h1v-1zM547 704v2h1v-2zM548 706v2h1v-2zM549 708v2h1v-2zM550 710v1h1v-1zM551 709v1h1v-1zM552 708v1h1v-1zM553 707v1h1v-1zM554 706v1h1v-1zM555 707v2h1v-2zM556 709v2h1v-2zM557 711v2h1v-2zM558 713v2h1v-2zM559 715v1h1v-1zM560 716v1h1v-1zM561 717v1h1v-1zM562 718v1h1v-1zM563 717v1h1v-1zM564 717v1h1v-1zM565 716v1h1v-1zM566 716v1h1v-1zM567 715v1h1v-1zM568 713v2h1v-2zM569 712v1h1v-1zM570 711v1h1v-1zM571 711v1h1v-1zM572 710v1h1v-1zM573 710v1h1v-1zM574 710v3h1v-3zM575 713v4h1v-4zM576 717v5h1v-5zM577 722v4h1v-4zM578 726v3h1v-3zM579 729v2h1v-2zM580 731v2h1v-2zM581 733v2h1v-2zM582 735v2h1v-2zM583 737v1h1v-1zM584 738v2h1v-2zM585 740v1h1v-1zM586 741v2h1v-2zM587 743v2h1v-2zM588 745v3h1v-3zM589 748v2h1v-2zM590 750v2h1v-2zM591 748v2h1v-2zM592 746v2h1v-2zM593 744v2h1v-2zM594 742v2h1v-2zM595 742v1h1v-1zM596 743v1h1v-1zM597 743v1h1v-1zM598 743v1h1v-1zM599 742v1h1v-1zM600 740v2h1v-2zM601 739v1h1v-1zM602 738v1h1v-1zM603 737v1h1v-1zM604 736v1h1v-1zM605 736v1h1v-1zM606 735v1h1v-1zM607 735v1h1v-1zM608 736v1h1v-1zM609 736v1h1v-1zM610 736v1h1v-1zM611 737v1h1v-1zM612 738v2h1v-2zM613 740v1h1v-1zM614 741v1h1v-1zM615 739v2h1v-2zM616 738v1h1v-1zM617 736v2h1v-2zM618 735v1h1v-1zM619 736v1h1v-1zM620 737v1h1v-1zM621 738v1h1v-1zM622 739v2h1v-2zM623 741v3h1v-3zM624 744v2h1v-2zM625 746v3h1v-3zM626 749v2h1v-2zM627 751v1h1v-1zM628 752v1h1v-1zM629 752v1h1v-1zM630 753v1h1v-1zM631 752v1h1v-1zM632 752v1h1v-1zM633 751v1h1v-1zM634 751v1h1v-1zM635 749v2h1v-2zM636 748v1h1v-1zM637 746v2h1v-2zM638 745v1h1v-1zM639 743v2h1v-2zM640 741v2h1v-2zM641 739v2h1v-2zM642 738v1h1v-1zM643 737v1h1v-1zM644 736v1h1v-1zM645 736v1h1v-1zM646 735v1h1v-1zM647 736v1h1v-1zM648 737v1h1v-1zM649 737v1h1v-1zM650 738v2h1v-2zM651 740v3h1v-3zM652 743v2h1v-2zM653 745v3h1v-3zM654 748v2h1v-2zM655 750v1h1v-1zM656 750v1h1v-1zM657 751v1h1v-1zM658 751v2h1v-2zM659 753v2h1v-2zM660 755v2h1v-2zM661 757v2h1v-2zM662 759v2h1v-2zM663 760v1h1v-1zM664 760v1h1v-1zM665 760v1h1v-1zM666 760v1h1v-1zM667 759v1h1v-1zM668 757v2h1v-2zM669 756v1h1v-1zM670 755v1h1v-1zM671 756v1h1v-1zM672 757v1h1v-1zM673 758v1h1v-1zM674 759v1h1v-1zM675 760v1h1v-1zM676 761v2h1v-2zM677 763v1h1v-1zM678 763v2h1v-2zM679 761v2h1v-2zM680 759v2h1v-2zM681 757v2h1v-2zM682 755v2h1v-2zM683 755v1h1v-1zM684 756v1h1v-1zM685 756v1h1v-1zM686 756v1h1v-1zM687 754v2h1v-2zM688 752v2h1v-2zM689 750v2h1v-2zM690 748v2h1v-2zM691 746v2h1v-2zM692 745v1h1v-1zM693 743v2h1v-2zM694 742v1h1v-1zM695 743v1h1v-1zM696 744v1h1v-1zM697 744v1h1v-1zM698 744v2h1v-2zM699 741v3h1v-3zM700 738v3h1v-3zM701 735v3h1v-3zM702 733v2h1v-2zM703 733v1h1v-1zM704 734v1h1v-1zM705 734v1h1v-1zM706 734v1h1v-1zM707 734v1h1v-1zM708 734v1h1v-1zM709 734v1h1v-1zM710 734v1h1v-1zM711 733v1h1v-1zM712 732v1h1v-1zM713 731v1h1v-1zM714 730v2h1v-2zM715 732v4h1v-4zM716 736v3h1v-3zM717 739v4h1v-4zM718 743v3h1v-3zM719 746v3h1v-3zM720 749v4h1v-4zM721 753v3h1v-3zM722 756v2h1v-2zM723 758v1h1v-1zM724 759v1h1v-1zM725 759v1h1v-1zM726 760v1h1v-1zM727 760v1h1v-1zM728 761v1h1v-1zM729 761v1h1v-1zM730 761v1h1v-1zM731 762v1h1v-1zM732 763v1h1v-1zM733 763v1h1v-1zM734 764v1h1v-1zM735 762v2h1v-2zM736 761v1h1v-1zM737 759v2h1v-2zM738 758v1h1v-1zM739 757v1h1v-1zM740 755v2h1v-2zM741 754v1h1v-1zM742 753v1h1v-1zM743 753v1h1v-1zM744 754v1h1v-1zM745 754v1h1v-1zM746 754v1h1v-1zM747 754v1h1v-1zM748 755v1h1v-1zM749 755v1h1v-1zM750 755v1h1v-1zM751 753v2h1v-2zM752 751v2h1v-2zM753 749v2h1v-2zM754 746v3h1v-3zM755 743v3h1v-3zM756 739v4h1v-4zM757 736v3h1v-3zM758 734v2h1v-2zM759 735v1h1v-1zM760 736v1h1v-1zM761 736v1h1v-1zM762 737v1h1v-1zM763 737v1h1v-1zM764 736v1h1v-1zM765 736v1h1v-1zM766 736v1h1v-1zM767 737v1h1v-1zM768 737v1h1v-1zM769 738v1h1v-1zM770 737v2h1v-2zM771 734v3h1v-3zM772 732v2h1v-2zM773 729v3h1v-3zM774 727v2h1v-2zM775 727v1h1v-1zM776 728v1h1v-1zM777 728v1h1v-1zM778 728v1h1v-1zM779 727v1h1v-1zM780 726v1h1v-1zM781 725v1h1v-1zM782 724v1h1v-1zM783 724v1h1v-1zM784 725v1h1v-1zM785 725v1h1v-1zM786 725v2h1v-2zM787 727v2h1v-2zM788 729v2h1v-2zM789 731v2h1v-2zM790 733v2h1v-2zM791 733v1h1v-1zM792 732v1h1v-1zM793 731v1h1v-1zM794 730v2h1v-2zM795 732v2h1v-2zM796 734v3h1v-3zM797 737v2h1v-2zM798 739v2h1v-2zM799 740v1h1v-1zM800 740v1h1v-1zM801 740v1h1v-1zM802 740v1h1v-1zM803 740v1h1v-1zM804 739v1h1v-1zM805 739v1h1v-1zM806 739v1h1v-1zM807 737v2h1v-2zM808 736v1h1v-1zM809 734v2h1v-2zM810 733v1h1v-1zM811 734v1h1v-1zM812 734v1h1v-1zM813 735v1h1v-1zM814 735v1h1v-1zM815 736v2h1v-2zM816 738v1h1v-1zM817 739v2h1v-2zM818 741v1h1v-1zM819 741v1h1v-1zM820 742v1h1v-1zM821 742v1h1v-1zM822 742v1h1v-1zM823 742v1h1v-1zM824 741v1h1v-1zM825 741v1h1v-1zM826 741v1h1v-1zM827 741v1h1v-1zM828 741v1h1v-1zM829 741v1h1v-1zM830 741v1h1v-1zM831 739v2h1v-2zM832 738v1h1v-1zM833 736v2h1v-2zM834 735v1h1v-1zM835 736v1h1v-1zM836 736v1h1v-1zM837 737v1h1v-1zM838 736v2h1v-2zM839 733v3h1v-3zM840 730v3h1v-3zM841 727v3h1v-3zM842 725v2h1v-2zM843 724v1h1v-1zM844 722v2h1v-2zM845 721v1h1v-1zM846 720v1h1v-1zM847 721v1h1v-1zM848 721v1h1v-1zM849 722v1h1v-1zM850 722v1h1v-1zM851 723v1h1v-1zM852 724v1h1v-1zM853 724v1h1v-1zM854 725v1h1v-1zM855 726v1h1v-1zM856 727v1h1v-1zM857 728v1h1v-1zM858 729v1h1v-1zM859 727v2h1v-2zM860 725v2h1v-2zM861 723v2h1v-2zM862 722v1h1v-1zM863 723v2h1v-2zM864 725v2h1v-2zM865 727v2h1v-2zM866 729v3h1v-3zM867 732v3h1v-3zM868 735v4h1v-4zM869 739v3h1v-3zM870 742v2h1v-2zM871 743v1h1v-1zM872 742v1h1v-1zM873 742v1h1v-1zM874 742v2h1v-2zM875 744v4h1v-4zM876 748v3h1v-3zM877 751v4h1v-4zM878 755v2h1v-2zM879 753v2h1v-2zM880 751v2h1v-2zM881 749v2h1v-2zM882 747v2h1v-2zM883 747v1h1v-1zM884 748v1h1v-1zM885 748v1h1v-1zM886 748v1h1v-1zM887 748v1h1v-1zM888 749v1h1v-1zM889 749v1h1v-1zM890 749v1h1v-1zM891 750v1h1v-1zM892 750v1h1v-1zM893 751v1h1v-1zM894 751v1h1v-1zM895 751v1h1v-1zM896 751v1h1v-1zM897 751v1h1v-1zM898 751v1h1v-1zM899 752v1h1v-1zM900 753v1h1v-1zM901 753v1h1v-1zM902 753v2h1v-2zM903 750v3h1v-3zM904 746v4h1v-4zM905 743v3h1v-3zM906 741v2h1v-2zM907 742v1h1v-1zM908 743v1h1v-1zM909 743v1h1v-1zM910 744v1h1v-1zM911 743v1h1v-1zM912 741v2h1v-2zM913 740v1h1v-1zM914 739v1h1v-1zM915 738v1h1v-1zM916 737v1h1v-1zM917 737v1h1v-1zM918 736v1h1v-1zM919 735v1h1v-1zM920 735v1h1v-1zM921 734v1h1v-1zM922 734v1h1v-1zM923 733v1h1v-1zM924 732v1h1v-1zM925 732v1h1v-1zM926 731v1h1v-1zM927 732v2h1v-2zM928 734v1h1v-1zM929 735v2h1v-2zM930 737v1h1v-1zM931 735v2h1v-2zM932 733v2h1v-2zM933 731v2h1v-2zM934 730v1h1v-1zM935 729v1h1v-1zM936 728v1h1v-1zM937 728v1h1v-1zM938 727v2h1v-2zM939 729v4h1v-4zM940 733v3h1v-3zM941 736v4h1v-4zM942 740v2h1v-2zM943 742v1h1v-1zM944 742v1h1v-1zM945 743v1h1v-1zM946 742v2h1v-2zM947 740v2h1v-2zM948 738v2h1v-2zM949 736v2h1v-2zM950 734v2h1v-2zM951 733v1h1v-1zM952 732v1h1v-1zM953 732v1h1v-1zM954 731v1h1v-1zM955 731v1h1v-1zM956 730v1h1v-1zM957 730v1h1v-1zM958 730v1h1v-1zM959 728v2h1v-2zM960 727v1h1v-1zM961 725v2h1v-2zM962 724v1h1v-1zM963 723v1h1v-1zM964 721v2h1v-2zM965 720v1h1v-1zM966 719v1h1v-1zM967 720v1h1v-1zM968 720v1h1v-1zM969 721v1h1v-1zM970 721v1h1v-1zM971 720v1h1v-1zM972 720v1h1v-1zM973 719v1h1v-1zM974 719v1h1v-1zM975 720v2h1v-2zM976 722v2h1v-2zM977 724v2h1v-2zM978 726v2h1v-2zM979 728v2h1v-2zM980 730v2h1v-2zM981 732v2h1v-2zM982 734v2h1v-2zM983 733v2h1v-2zM984 731v2h1v-2zM985 729v2h1v-2zM986 728v1h1v-1zM987 727v1h1v-1zM988 727v1h1v-1zM989 726v1h1v-1zM990 726v1h1v-1zM991 726v1h1v-1zM992 725v1h1v-1zM993 725v1h1v-1zM994 725v1h1v-1zM995 724v1h1v-1zM996 722v2h1v-2zM997 721v1h1v-1zM998 720v1h1v-1zM999 721v1h1v-1zM1000 721v1h1v-1zM1001 722v1h1v-1zM1002 722v1h1v-1zM1003 721v1h1v-1zM1004 720v1h1v-1zM1005 720v1h1v-1zM1006 719v1h1v-1zM1007 720v2h1v-2zM1008 722v1h1v-1zM1009 723v2h1v-2zM1010 725v1h1v-1zM1011 725v1h1v-1zM1012 724v1h1v-1zM1013 724v1h1v-1zM1014 724v1h1v-1zM1015 725v2h1v-2zM1016 727v2h1v-2zM1017 729v2h1v-2zM1018 731v2h1v-2zM1019 729v2h1v-2zM1020 727v2h1v-2zM1021 725v2h1v-2zM1022 723v2h1v-2zM1023 723v1h1v-1zM1024 724v1h1v-1zM1025 724v1h1v-1zM1026 724v1h1v-1zM1027 722v2h1v-2zM1028 721v1h1v-1zM1029 719v2h1v-2zM1030 718v1h1v-1zM1031 719v2h1v-2zM1032 721v2h1v-2zM1033 723v2h1v-2zM1034 725v2h1v-2zM1035 726v1h1v-1zM1036 727v1h1v-1zM1037 727v1h1v-1zM1038 727v1h1v-1zM1039 727v1h1v-1zM1040 728v1h1v-1zM1041 728v1h1v-1zM1042 728v1h1v-1zM1043 729v1h1v-1zM1044 730v1h1v-1zM1045 730v1h1v-1zM1046 731v1h1v-1zM1047 732v2h1v-2zM1048 734v1h1v-1zM1049 735v2h1v-2zM1050 737v1h1v-1zM1051 735v2h1v-2zM1052 733v2h1v-2zM1053 731v2h1v-2zM1054 729v2h1v-2zM1055 728v1h1v-1zM1056 727v1h1v-1zM1057 727v1h1v-1zM1058 726v1h1v-1zM1059 727v1h1v-1zM1060 728v1h1v-1zM1061 729v1h1v-1zM1062 730v1h1v-1zM1063 730v1h1v-1zM1064 730v1h1v-1zM1065 730v1h1v-1zM1066 729v2h1v-2zM1067 727v2h1v-2zM1068 724v3h1v-3zM1069 722v2h1v-2zM1070 720v2h1v-2zM1071 722v2h1v-2zM1072 724v2h1v-2zM1073 726v2h1v-2zM1074 728v2h1v-2zM1075 727v2h1v-2zM1076 726v1h1v-1zM1077 724v2h1v-2zM1078 723v1h1v-1zM1079 722v1h1v-1zM1080 722v1h1v-1zM1081 721v1h1v-1zM1082 721v1h1v-1zM1083 722v2h1v-2zM1084 724v1h1v-1zM1085 725v2h1v-2zM1086 727v1h1v-1zM1087 728v1h1v-1zM1088 728v1h1v-1zM1089 729v1h1v-1zM1090 729v1h1v-1zM1091 729v1h1v-1zM1092 728v1h1v-1zM1093 728v1h1v-1zM1094 728v1h1v-1zM1095 729v1h1v-1zM1096 730v1h1v-1zM1097 731v1h1v-1zM1098 732v1h1v-1zM1099 732v1h1v-1zM1100 731v1h1v-1zM1101 731v1h1v-1zM1102 731v1h1v-1zM1103 730v1h1v-1zM1104 728v2h1v-2zM1105 727v1h1v-1zM1106 726v1h1v-1zM1107 725v1h1v-1zM1108 725v1h1v-1zM1109 724v1h1v-1zM1110 724v1h1v-1zM1111 723v1h1v-1zM1112 723v1h1v-1zM1113 722v1h1v-1zM1114 722v1h1v-1zM1115 723v1h1v-1zM1116 723v1h1v-1zM1117 724v1h1v-1zM1118 724v1h1v-1zM1119 723v1h1v-1zM1120 723v1h1v-1zM1121 722v1h1v-1zM1122 722v2h1v-2zM1123 724v2h1v-2zM1124 726v3h1v-3zM1125 729v2h1v-2zM1126 731v2h1v-2zM1127 733v1h1v-1zM1128 733v1h1v-1zM1129 734v1h1v-1zM1130 734v1h1v-1z" fill="#1e90ff" shape-rendering="crispEdges"/>
<g font-size="9px" fill="#000" stroke="#000" stroke-width="0.1">
<text x="21.25" y="33" textLength="67.5" lengthAdjust="spacingAndGlyphs">USDCHF-,Daily</text>
<text x="95" y="33" textLength="140" lengthAdjust="spacingAndGlyphs">0.99429 0.99456 0.99275 0.99313</text>
<path d="M8.5 32 L15.6 32 L12.05 27.8 Z" fill="#000"/>
<text x="10.4" y="575" textLength="147.5" lengthAdjust="spacingAndGlyphs">MACD(12,26,9) 0.001518 0.001829</text>
<text x="10.4" y="680" textLength="67" lengthAdjust="spacingAndGlyphs">RSI(14) 49.1601</text>
<text x="1425" y="573" textLength="32" lengthAdjust="spacingAndGlyphs">0.00613</text>
<rect x="1422" y="609" width="2" height="1" fill="#000"/>
<text x="1425" y="612.5">0.00</text>
<text x="1425" y="661.5">-0.00761</text>
<text x="1425" y="677.8">100</text>
<text x="1425" y="711">70</text>
<text x="1425" y="762">30</text>
<text x="1425" y="793.7">0</text>
<rect x="6" y="798" width="1" height="3" fill="#000" shape-rendering="crispEdges"/>
<text x="5" y="810" textLength="53.6" lengthAdjust="spacingAndGlyphs">22 Nov 2018</text>
<rect x="70" y="798" width="1" height="3" fill="#000" shape-rendering="crispEdges"/>
<text x="69" y="810" textLength="52.8" lengthAdjust="spacingAndGlyphs">11 Dec 2018</text>
<rect x="134" y="798" width="1" height="3" fill="#000" shape-rendering="crispEdges"/>
<text x="133" y="810" textLength="53.6" lengthAdjust="spacingAndGlyphs">30 Dec 2018</text>
<rect x="198" y="798" width="1" height="3" fill="#000" shape-rendering="crispEdges"/>
<text x="197" y="810" textLength="52.0" lengthAdjust="spacingAndGlyphs">17 Jan 2019</text>
<rect x="262" y="798" width="1" height="3" fill="#000" shape-rendering="crispEdges"/>
<text x="261" y="810" textLength="47.8" lengthAdjust="spacingAndGlyphs">5 Feb 2019</text>
<rect x="326" y="798" width="1" height="3" fill="#000" shape-rendering="crispEdges"/>
<text x="325" y="810" textLength="53.0" lengthAdjust="spacingAndGlyphs">24 Feb 2019</text>
<rect x="390" y="798" width="1" height="3" fill="#000" shape-rendering="crispEdges"/>
<text x="389" y="810" textLength="53.0" lengthAdjust="spacingAndGlyphs">14 Mar 2019</text>
<rect x="454" y="798" width="1" height="3" fill="#000" shape-rendering="crispEdges"/>
<text x="453" y="810" textLength="45.7" lengthAdjust="spacingAndGlyphs">2 Apr 2019</text>
<rect x="518" y="798" width="1" height="3" fill="#000" shape-rendering="crispEdges"/>
<text x="517" y="810" textLength="50.9" lengthAdjust="spacingAndGlyphs">22 Apr 2019</text>
<rect x="582" y="798" width="1" height="3" fill="#000" shape-rendering="crispEdges"/>
<text x="581" y="810" textLength="54.6" lengthAdjust="spacingAndGlyphs">10 May 2019</text>
<rect x="646" y="798" width="1" height="3" fill="#000" shape-rendering="crispEdges"/>
<text x="645" y="810" textLength="54.6" lengthAdjust="spacingAndGlyphs">29 May 2019</text>
<rect x="710" y="798" width="1" height="3" fill="#000" shape-rendering="crispEdges"/>
<text x="709" y="810" textLength="52.0" lengthAdjust="spacingAndGlyphs">17 Jun 2019</text>
<rect x="774" y="798" width="1" height="3" fill="#000" shape-rendering="crispEdges"/>
<text x="773" y="810" textLength="43.6" lengthAdjust="spacingAndGlyphs">5 Jul 2019</text>
<rect x="838" y="798" width="1" height="3" fill="#000" shape-rendering="crispEdges"/>
<text x="837" y="810" textLength="48.8" lengthAdjust="spacingAndGlyphs">24 Jul 2019</text>
<rect x="902" y="798" width="1" height="3" fill="#000" shape-rendering="crispEdges"/>
<text x="901" y="810" textLength="53.0" lengthAdjust="spacingAndGlyphs">12 Aug 2019</text>
<rect x="966" y="798" width="1" height="3" fill="#000" shape-rendering="crispEdges"/>
<text x="965" y="810" textLength="53.0" lengthAdjust="spacingAndGlyphs">30 Aug 2019</text>
<rect x="1030" y="798" width="1" height="3" fill="#000" shape-rendering="crispEdges"/>
<text x="1029" y="810" textLength="53.6" lengthAdjust="spacingAndGlyphs">18 Sep 2019</text>
<rect x="1094" y="798" width="1" height="3" fill="#000" shape-rendering="crispEdges"/>
<text x="1093" y="810" textLength="46.2" lengthAdjust="spacingAndGlyphs">7 Oct 2019</text>
</g>
<rect x="0" y="820" width="1462" height="1" fill="#000" shape-rendering="crispEdges"/>
<rect x="0" y="821" width="1462" height="21" fill="#f0f0f0"/>
<rect x="0" y="818" width="1462" height="1" fill="#e6e6e6"/>
<rect x="0" y="840" width="1462" height="1" fill="#fbfbfb"/>
<g shape-rendering="crispEdges">
<rect x="224" y="820" width="106" height="18" fill="#fff"/>
<rect x="223" y="820" width="1" height="19" fill="#000"/><rect x="330" y="820" width="1" height="19" fill="#000"/><rect x="223" y="838" width="108" height="1" fill="#000"/>
</g>
<g font-size="12px">
<text x="17.8" y="834.6" fill="#7f7f7f" textLength="84.8" lengthAdjust="spacingAndGlyphs">EURUSD-,Daily</text>
<text x="125.5" y="834.6" fill="#7f7f7f" textLength="86.5" lengthAdjust="spacingAndGlyphs">AUDUSD-,Daily</text>
<text x="235.3" y="834.6" fill="#000" textLength="83.7" lengthAdjust="spacingAndGlyphs">USDCHF-,Daily</text>
<text x="342" y="834.6" fill="#7f7f7f" textLength="85.5" lengthAdjust="spacingAndGlyphs">USDCAD-,Daily</text>
<text x="451.4" y="834.6" fill="#7f7f7f" textLength="87.4" lengthAdjust="spacingAndGlyphs">USDCNH-,Daily</text>
<text x="562" y="834.6" fill="#7f7f7f" textLength="96.9" lengthAdjust="spacingAndGlyphs">EURCHF-,Weekly</text>
<text x="682.8" y="834.6" fill="#7f7f7f" textLength="100.2" lengthAdjust="spacingAndGlyphs">XAUUSD-,Weekly</text>
<text x="806.6" y="834.6" fill="#7f7f7f" textLength="71.8" lengthAdjust="spacingAndGlyphs">GBPUSD-,H1</text>
<text x="902.4" y="834.6" fill="#7f7f7f" textLength="56.4" lengthAdjust="spacingAndGlyphs">UKOil-,H1</text>
<text x="981.5" y="834.6" fill="#7f7f7f" textLength="82.4" lengthAdjust="spacingAndGlyphs">USDX-,Weekly</text>
<text x="1085" y="834.6" fill="#7f7f7f" textLength="70.6" lengthAdjust="spacingAndGlyphs">EURCHF-,H1</text>
<text x="1179.5" y="834.6" fill="#7f7f7f" textLength="55.1" lengthAdjust="spacingAndGlyphs">USOil-,H1</text>
</g>
<rect x="115" y="823" width="1" height="14" fill="#5a5a5a" shape-rendering="crispEdges"/>
<rect x="439" y="823" width="1" height="14" fill="#5a5a5a" shape-rendering="crispEdges"/>
<rect x="551" y="823" width="1" height="14" fill="#5a5a5a" shape-rendering="crispEdges"/>
<rect x="671" y="823" width="1" height="14" fill="#5a5a5a" shape-rendering="crispEdges"/>
<rect x="795" y="823" width="1" height="14" fill="#5a5a5a" shape-rendering="crispEdges"/>
<rect x="891" y="823" width="1" height="14" fill="#5a5a5a" shape-rendering="crispEdges"/>
<rect x="971" y="823" width="1" height="14" fill="#5a5a5a" shape-rendering="crispEdges"/>
<rect x="1075" y="823" width="1" height="14" fill="#5a5a5a" shape-rendering="crispEdges"/>
<rect x="1167" y="823" width="1" height="14" fill="#5a5a5a" shape-rendering="crispEdges"/>
<rect x="1247" y="823" width="1" height="14" fill="#5a5a5a" shape-rendering="crispEdges"/>
<path d="M1440.3 825.8 L1440.3 832.4 L1436.8 829.1 Z M1455.7 825.8 L1455.7 832.4 L1459.2 829.1 Z" fill="#8c8c8c"/>
<rect x="2" y="821" width="1" height="17" fill="#6e6e6e"/>
<defs><linearGradient id="gb" gradientUnits="userSpaceOnUse" x1="0" y1="41" x2="0" y2="105"><stop offset="0" stop-color="#5656fd"/><stop offset="0.3" stop-color="#3c3ce8"/><stop offset="0.45" stop-color="#2a2ad8"/><stop offset="0.75" stop-color="#1818c4"/><stop offset="1" stop-color="#0000a4"/></linearGradient>
<linearGradient id="gg" x1="0" y1="0" x2="0" y2="1"><stop offset="0" stop-color="#f4f4f4"/><stop offset="0.45" stop-color="#e6e6e6"/><stop offset="0.5" stop-color="#d8d8d8"/><stop offset="1" stop-color="#cccccc"/></linearGradient></defs>
<g shape-rendering="crispEdges">
<rect x="7" y="39" width="223" height="68" fill="#ffffff"/>
<path d="M9 41 H61 V65 H118 V105 H9 Z" fill="url(#gb)"/>
<path d="M176 41 H228 V105 H120 V65 H176 Z" fill="url(#gb)"/>
<rect x="9" y="41" width="52" height="1" fill="#2828c8"/><rect x="9" y="41" width="1" height="64" fill="#2020c0"/>
<rect x="176" y="41" width="52" height="1" fill="#2828c8"/><rect x="120" y="65" width="1" height="40" fill="#2020c0"/><rect x="176" y="41" width="1" height="24" fill="#2020c0"/>
<rect x="63.5" y="41.5" width="110" height="21" fill="#fff" stroke="#a8a8a8" stroke-width="1"/>
<rect x="64" y="42" width="20" height="20" fill="url(#gg)"/>
<rect x="153" y="42" width="20" height="20" fill="url(#gg)"/>
<rect x="84" y="42" width="1" height="20" fill="#a8a8a8"/><rect x="152" y="42" width="1" height="20" fill="#a8a8a8"/>
<rect x="13" y="64" width="44" height="1" fill="#8686f6"/><rect x="13" y="65" width="44" height="1" fill="#0a0a96"/>
<rect x="180" y="64" width="44" height="1" fill="#8686f6"/><rect x="180" y="65" width="44" height="1" fill="#0a0a96"/>
</g>
<path d="M70.5 50 L76.5 50 L73.5 53.5 Z M159.5 53.5 L165.5 53.5 L162.5 50 Z" fill="#4a60c4"/>
<g fill="#fff">
<text x="21.5" y="56.6" font-size="12.4px" textLength="25.4" lengthAdjust="spacingAndGlyphs">SELL</text>
<text x="189.2" y="56.6" font-size="12.4px" textLength="23.8" lengthAdjust="spacingAndGlyphs">BUY</text>
<text x="149.3" y="56" font-size="12.5px" fill="#000" text-anchor="end">1.00</text>
<text x="29" y="95.8" font-size="12px" font-weight="bold">0.99</text>
<text x="56.6" y="95.8" font-size="33px" stroke="url(#gb)" stroke-width="0.5" textLength="35.5" lengthAdjust="spacingAndGlyphs">31</text>
<text x="96.5" y="79.6" font-size="12px" font-weight="bold">3</text>
<text x="139" y="95.8" font-size="12px" font-weight="bold">0.99</text>
<text x="166.6" y="95.8" font-size="33px" stroke="url(#gb)" stroke-width="0.5" textLength="35.5" lengthAdjust="spacingAndGlyphs">33</text>
<text x="206.5" y="79.6" font-size="12px" font-weight="bold">3</text>
</g>
</svg></body></html>
